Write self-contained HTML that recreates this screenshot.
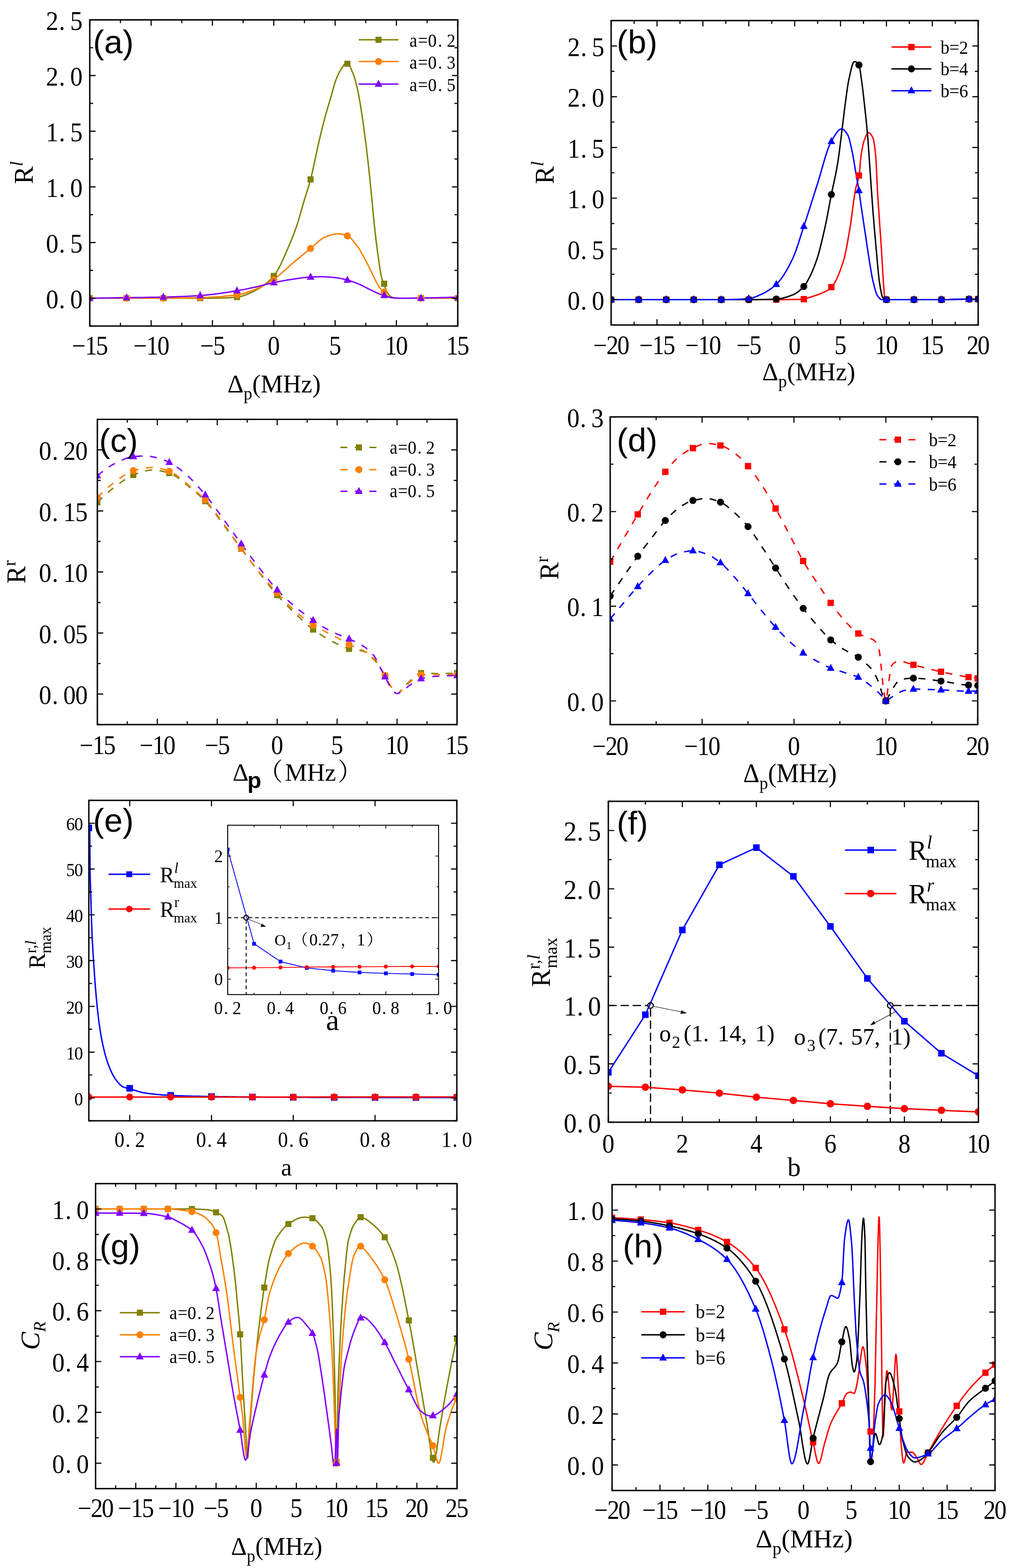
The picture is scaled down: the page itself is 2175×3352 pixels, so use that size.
<!DOCTYPE html>
<html><head><meta charset="utf-8"><title>Figure</title>
<style>html,body{margin:0;padding:0;background:#fff;}svg{display:block;}</style>
</head><body>
<svg width="2175" height="3352" viewBox="0 0 2175 3352"><clipPath id="c140036057746656"><rect x="192" y="42.5" width="787" height="654.5"/></clipPath>
<text transform="scale(0.93 1)" x="119.9 142.8 175.8" y="659" font-size="57.5" text-anchor="middle" font-family='"Liberation Serif", "Noto Serif CJK SC", serif'>0.0</text>
<text transform="scale(0.93 1)" x="119.9 142.8 175.8" y="540" font-size="57.5" text-anchor="middle" font-family='"Liberation Serif", "Noto Serif CJK SC", serif'>0.5</text>
<text transform="scale(0.93 1)" x="119.9 142.8 175.8" y="421" font-size="57.5" text-anchor="middle" font-family='"Liberation Serif", "Noto Serif CJK SC", serif'>1.0</text>
<text transform="scale(0.93 1)" x="119.9 142.8 175.8" y="302" font-size="57.5" text-anchor="middle" font-family='"Liberation Serif", "Noto Serif CJK SC", serif'>1.5</text>
<text transform="scale(0.93 1)" x="119.9 142.8 175.8" y="183" font-size="57.5" text-anchor="middle" font-family='"Liberation Serif", "Noto Serif CJK SC", serif'>2.0</text>
<text transform="scale(0.93 1)" x="119.9 142.8 175.8" y="64" font-size="57.5" text-anchor="middle" font-family='"Liberation Serif", "Noto Serif CJK SC", serif'>2.5</text>
<text transform="scale(0.93 1)" x="181.2 209.4 234.7" y="758" font-size="56" text-anchor="middle" font-family='"Liberation Serif", "Noto Serif CJK SC", serif'>−15</text>
<text transform="scale(0.93 1)" x="322.2 350.4 375.7" y="758" font-size="56" text-anchor="middle" font-family='"Liberation Serif", "Noto Serif CJK SC", serif'>−10</text>
<text transform="scale(0.93 1)" x="475.9 504.1" y="758" font-size="56" text-anchor="middle" font-family='"Liberation Serif", "Noto Serif CJK SC", serif'>−5</text>
<text transform="scale(0.93 1)" x="629.6" y="758" font-size="56" text-anchor="middle" font-family='"Liberation Serif", "Noto Serif CJK SC", serif'>0</text>
<text transform="scale(0.93 1)" x="770.6" y="758" font-size="56" text-anchor="middle" font-family='"Liberation Serif", "Noto Serif CJK SC", serif'>5</text>
<text transform="scale(0.93 1)" x="899 924.3" y="758" font-size="56" text-anchor="middle" font-family='"Liberation Serif", "Noto Serif CJK SC", serif'>10</text>
<text transform="scale(0.93 1)" x="1040.1 1065.3" y="758" font-size="56" text-anchor="middle" font-family='"Liberation Serif", "Noto Serif CJK SC", serif'>15</text>
<g transform="translate(486.5 0) scale(0.977 1) translate(-486.5 0)">
<text x="486.5" y="839" font-size="55" font-family='"Liberation Serif", "Noto Serif CJK SC", serif' text-anchor="start">Δ<tspan font-size="38" dy="15">p</tspan><tspan dy="-15">(MHz)</tspan></text>
</g>
<text transform="translate(70 393.5) rotate(-90)" x="0" y="0" font-size="57" font-family='"Liberation Serif", "Noto Serif CJK SC", serif'>R<tspan font-style="italic" font-size="38" dy="-22">l</tspan></text>
<text x="199" y="114" font-size="71" font-family='"Liberation Sans", sans-serif'>(a)</text>
<path d="M192,637.5 196.9,637.5 201.8,637.5 206.8,637.5 211.7,637.5 216.6,637.5 221.5,637.5 226.4,637.5 231.3,637.5 236.3,637.5 241.2,637.5 246.1,637.5 251,637.5 255.9,637.5 260.9,637.5 265.8,637.5 270.7,637.5 275.6,637.5 280.5,637.5 285.5,637.5 290.4,637.5 295.3,637.5 300.2,637.5 305.1,637.5 310.1,637.5 315,637.5 319.9,637.5 324.8,637.5 329.7,637.5 334.6,637.5 339.6,637.5 344.5,637.5 349.4,637.5 354.3,637.5 359.2,637.5 364.2,637.5 369.1,637.5 374,637.5 378.9,637.5 383.8,637.5 388.8,637.5 393.7,637.5 398.6,637.5 403.5,637.5 408.4,637.5 413.3,637.5 418.3,637.5 423.2,637.5 428.1,637.5 430.6,637.5 433,637.5 435.5,637.5 437.9,637.5 440.4,637.5 442.9,637.5 445.3,637.4 447.8,637.4 450.2,637.4 452.7,637.4 455.2,637.4 457.6,637.4 460.1,637.3 462.5,637.3 465,637.3 467.4,637.3 469.9,637.2 472.4,637.2 474.8,637.1 477.3,637 479.7,637 482.2,636.8 484.7,636.7 487.1,636.6 489.6,636.5 492,636.3 494.5,636.1 497,636 499.4,635.8 501.9,635.6 504.3,635.3 506.8,635.1 509.3,634.8 511.7,634.4 514.2,633.9 516.6,633.3 519.1,632.6 521.6,631.8 524,630.9 526.5,630 528.9,629 531.4,627.9 533.9,626.8 536.3,625.6 538.8,624.5 541.2,623.3 543.7,622.1 546.2,620.8 548.6,619.6 551.1,618.3 553.5,616.8 556,615.4 558.4,613.8 560.9,612.1 563.4,610.4 565.8,608.5 568.3,606.6 570.7,604.6 573.2,602.4 575.7,600.1 578.1,597.8 580.6,595.3 583,592.6 585.5,589.9 587.5,587.5 589.4,584.8 591.4,581.8 593.4,578.5 595.3,575 597.3,571.3 599.3,567.4 601.2,563.4 603.2,559.2 605.2,554.9 607.1,550.5 609.1,546 611.1,541.5 613,537 615,532.5 617,528 618.1,525.4 619.3,522.7 620.4,520 621.6,517.3 622.7,514.5 623.9,511.7 625,508.8 626.2,505.8 627.3,502.9 628.5,499.8 629.6,496.7 630.8,493.6 631.9,490.4 633,487.1 634.2,483.8 635.3,480.4 636.2,477.8 637.1,475.1 638,472.3 638.8,469.4 639.7,466.4 640.6,463.4 641.4,460.4 642.3,457.3 643.2,454.2 644,451.1 644.9,448 645.8,444.9 646.6,441.8 647.5,438.8 648.4,435.8 649.2,432.8 650.2,429.7 651.1,426.7 652.1,423.7 653,420.7 653.9,417.8 654.9,414.9 655.8,411.9 656.7,409 657.7,406 658.6,403 659.5,400 660.5,396.9 661.4,393.7 662.3,390.4 663.3,387 664.2,383.6 665.3,379.3 666.4,374.8 667.5,370.1 668.6,365.3 669.7,360.3 670.8,355.3 671.9,350.1 673,344.9 674.1,339.7 675.2,334.4 676.3,329.2 677.4,324 678.5,318.9 679.6,313.9 680.7,309 681.8,304.3 682.6,300.6 683.5,297 684.4,293.3 685.3,289.7 686.1,286 687,282.5 687.9,278.9 688.7,275.4 689.6,271.8 690.5,268.4 691.3,264.9 692.2,261.5 693.1,258.2 693.9,254.9 694.8,251.6 695.7,248.4 696.4,245.7 697.1,243.2 697.8,240.6 698.6,238.1 699.3,235.6 700,233.2 700.7,230.8 701.5,228.3 702.2,225.9 702.9,223.5 703.6,221.2 704.3,218.8 705.1,216.4 705.8,214 706.5,211.5 707.2,209.1 707.9,206.6 708.7,204.1 709.4,201.4 710.1,198.8 710.8,196.1 711.6,193.5 712.3,190.8 713,188.2 713.7,185.6 714.4,183.1 715.2,180.6 715.9,178.2 716.6,175.9 717.3,173.8 718,171.7 718.8,169.8 719.5,168 720.2,166.3 720.9,164.6 721.7,162.9 722.4,161.3 723.1,159.7 723.8,158.2 724.5,156.7 725.3,155.3 726,153.9 726.7,152.6 727.4,151.3 728.1,150.1 728.9,148.9 729.6,147.8 730.3,146.7 731,145.7 731.7,144.7 732.4,143.6 733.1,142.5 733.8,141.4 734.5,140.4 735.2,139.4 735.9,138.4 736.7,137.5 737.4,136.7 738.1,136 738.8,135.3 739.5,134.8 740.2,134.5 740.9,134.2 741.6,134.1 742.5,134.3 743.4,134.7 744.2,135.5 745.1,136.4 746,137.6 746.9,139 747.8,140.6 748.7,142.3 749.6,144.2 750.4,146.2 751.3,148.2 752.2,150.4 753.1,152.5 754,154.7 754.9,156.9 755.8,159.1 756.3,160.6 756.9,162.1 757.5,163.8 758,165.6 758.6,167.4 759.2,169.3 759.8,171.4 760.3,173.5 760.9,175.6 761.5,177.9 762.1,180.2 762.6,182.5 763.2,185 763.8,187.4 764.4,189.9 764.9,192.4 765.4,194.4 765.8,196.4 766.2,198.5 766.6,200.7 767.1,202.9 767.5,205.2 767.9,207.6 768.3,210 768.8,212.4 769.2,214.9 769.6,217.5 770.1,220 770.5,222.6 770.9,225.3 771.3,227.9 771.8,230.5 772.3,234.2 772.9,238 773.5,241.8 774.1,245.8 774.7,249.7 775.3,253.8 775.9,257.9 776.5,262.1 777.1,266.3 777.7,270.6 778.2,274.9 778.8,279.3 779.4,283.7 780,288.1 780.6,292.6 781.2,297.2 781.6,300.5 782.1,303.8 782.5,307.2 782.9,310.6 783.3,314 783.8,317.5 784.2,321 784.6,324.6 785,328.2 785.5,331.8 785.9,335.4 786.3,339.1 786.7,342.9 787.2,346.6 787.6,350.4 788,354.3 788.5,358.3 788.9,362.4 789.3,366.6 789.8,370.9 790.2,375.2 790.7,379.5 791.1,383.9 791.6,388.3 792,392.7 792.4,397.2 792.9,401.7 793.3,406.1 793.8,410.6 794.2,415.1 794.7,419.6 795.1,424 795.5,428.3 796,432.7 796.4,437.1 796.8,441.6 797.2,446.1 797.7,450.7 798.1,455.2 798.5,459.7 798.9,464.2 799.4,468.6 799.8,473 800.2,477.3 800.6,481.5 801.1,485.6 801.5,489.6 801.9,493.5 802.4,497.4 802.8,501.3 803.3,505.1 803.7,508.8 804.1,512.5 804.6,516.1 805,519.7 805.5,523.2 805.9,526.6 806.4,530 806.8,533.4 807.2,536.7 807.7,540 808.1,543.2 808.6,546.3 809,549.4 809.4,552.4 809.9,555.5 810.3,558.5 810.7,561.6 811.1,564.6 811.6,567.6 812,570.6 812.4,573.5 812.8,576.3 813.3,579 813.7,581.6 814.1,584.1 814.5,586.4 815,588.5 815.4,590.5 815.8,592.3 816.2,593.7 816.6,594.9 816.9,596.2 817.3,597.3 817.6,598.5 818,599.5 818.4,600.5 818.7,601.5 819.1,602.5 819.4,603.4 819.8,604.3 820.2,605.2 820.5,606.2 820.9,607.1 821.2,608 821.6,608.9 822,610.1 822.5,611.2 822.9,612.4 823.3,613.6 823.7,614.8 824.2,615.9 824.6,617.1 825,618.2 825.4,619.3 825.9,620.4 826.3,621.4 826.7,622.4 827.1,623.3 827.6,624.1 828,624.9 828.4,625.6 828.9,626.4 829.4,627.1 829.9,627.9 830.5,628.6 831,629.3 831.5,630 832,630.6 832.5,631.3 833,631.8 833.5,632.4 834,632.9 834.5,633.3 835,633.7 835.5,634.1 836,634.4 836.6,634.6 837.3,634.9 838,635.2 838.7,635.5 839.4,635.8 840.1,636 840.8,636.3 841.5,636.5 842.2,636.7 842.9,636.9 843.6,637 844.3,637.2 845,637.3 845.7,637.4 846.4,637.4 847.1,637.5 847.8,637.5 849.5,637.5 851.1,637.5 852.8,637.5 854.4,637.5 856,637.5 857.7,637.5 859.3,637.5 860.9,637.5 862.6,637.5 864.2,637.5 865.9,637.5 867.5,637.5 869.1,637.5 870.8,637.5 872.4,637.5 874.1,637.5 875.7,637.5 877.3,637.5 879,637.5 880.6,637.5 882.3,637.5 883.9,637.5 885.5,637.5 887.2,637.5 888.8,637.5 890.5,637.5 892.1,637.5 893.7,637.5 895.4,637.5 897,637.5 898.7,637.5 900.3,637.5 905.2,637.5 910.1,637.5 915.1,637.5 920,637.5 924.9,637.5 929.8,637.5 934.7,637.5 939.6,637.5 944.6,637.5 949.5,637.5 954.4,637.5 959.3,637.5 964.2,637.5 969.2,637.5 974.1,637.5 979,637.5" fill="none" stroke="#808000" stroke-width="3" stroke-linejoin="round" clip-path="url(#c140036057746656)"/>
<path d="M192,637.5 196.9,637.5 201.8,637.5 206.8,637.5 211.7,637.5 216.6,637.5 221.5,637.5 226.4,637.5 231.3,637.5 236.3,637.5 241.2,637.5 246.1,637.5 251,637.5 255.9,637.5 260.9,637.5 265.8,637.5 270.7,637.5 275.6,637.5 280.5,637.5 285.5,637.5 290.4,637.5 295.3,637.5 300.2,637.5 305.1,637.5 310.1,637.5 315,637.5 319.9,637.5 324.8,637.5 329.7,637.5 334.6,637.5 339.6,637.5 344.5,637.5 349.4,637.5 354.3,637.5 359.2,637.5 364.2,637.4 369.1,637.4 374,637.4 378.9,637.3 383.8,637.2 388.8,637.2 393.7,637.1 398.6,637 403.5,636.9 408.4,636.8 413.3,636.7 418.3,636.6 423.2,636.4 428.1,636.3 433,636.2 437.9,636 442.9,635.8 447.8,635.6 452.7,635.3 457.6,635 462.5,634.7 467.4,634.4 472.4,634 477.3,633.6 482.2,633.1 487.1,632.6 492,632.1 497,631.6 501.9,631 506.8,630.4 509.3,630 511.7,629.6 514.2,629.1 516.6,628.5 519.1,627.9 521.6,627.2 524,626.5 526.5,625.7 528.9,624.9 531.4,624 533.9,623.1 536.3,622.2 538.8,621.3 541.2,620.4 543.7,619.4 546.2,618.5 548.6,617.5 551.1,616.4 553.5,615.3 556,614.2 558.4,613 560.9,611.7 563.4,610.4 565.8,609.1 568.3,607.7 570.7,606.3 573.2,604.8 575.7,603.3 578.1,601.8 580.6,600.2 583,598.7 585.5,597 588,595.4 590.4,593.6 592.9,591.7 595.3,589.7 597.8,587.7 600.3,585.6 602.7,583.4 605.2,581.2 607.6,579 610.1,576.8 612.6,574.6 615,572.3 617.5,570.1 619.9,567.9 622.4,565.8 624.9,563.7 627.3,561.7 629.8,559.6 632.2,557.5 634.7,555.5 637.1,553.4 639.6,551.3 642.1,549.3 644.5,547.2 647,545.2 649.4,543.2 651.9,541.1 654.4,539.1 656.8,537.1 659.3,535.1 661.7,533.1 664.2,531.1 666.2,529.5 668.1,527.8 670.1,526.1 672.1,524.3 674,522.5 676,520.7 678,518.9 679.9,517.2 681.9,515.5 683.9,513.9 685.8,512.3 687.8,510.9 689.8,509.6 691.7,508.4 693.7,507.4 695.7,506.6 697.4,506 699.2,505.3 700.9,504.7 702.6,504.1 704.4,503.5 706.1,502.9 707.8,502.4 709.6,501.9 711.3,501.4 713.1,501 714.8,500.6 716.5,500.3 718.3,500 720,499.9 721.7,499.7 723.5,499.7 724.7,499.7 725.9,499.8 727.1,499.9 728.3,500.1 729.6,500.3 730.8,500.5 732,500.7 733.2,501 734.4,501.4 735.6,501.7 736.8,502.1 738,502.5 739.3,502.9 740.5,503.3 741.7,503.8 742.9,504.2 744.3,504.8 745.7,505.6 747,506.6 748.4,507.7 749.8,508.9 751.2,510.3 752.5,511.7 753.9,513.3 755.3,514.9 756.7,516.6 758,518.4 759.4,520.2 760.8,522 762.2,523.9 763.6,525.7 764.9,527.5 766.1,529.1 767.3,530.8 768.4,532.6 769.6,534.4 770.8,536.4 771.9,538.3 773.1,540.4 774.2,542.5 775.4,544.6 776.6,546.7 777.7,548.9 778.9,551.1 780.1,553.3 781.2,555.5 782.4,557.7 783.6,559.9 784.6,561.8 785.6,563.7 786.6,565.7 787.6,567.7 788.6,569.8 789.6,571.8 790.6,573.9 791.6,576 792.6,578.1 793.6,580.1 794.6,582.2 795.6,584.3 796.6,586.3 797.6,588.3 798.6,590.3 799.6,592.3 800.3,593.7 801,595.1 801.7,596.6 802.4,598 803.2,599.5 803.9,600.9 804.6,602.3 805.3,603.8 806.1,605.1 806.8,606.5 807.5,607.8 808.2,609.1 808.9,610.4 809.7,611.5 810.4,612.7 811.1,613.7 811.8,614.6 812.4,615.5 813.1,616.3 813.7,617.1 814.4,617.9 815,618.7 815.7,619.4 816.4,620.2 817,620.9 817.7,621.6 818.3,622.3 819,622.9 819.6,623.6 820.3,624.3 820.9,624.9 821.6,625.6 822.3,626.3 822.9,627 823.6,627.7 824.2,628.4 824.9,629.2 825.5,629.9 826.2,630.6 826.8,631.3 827.5,632 828.2,632.6 828.8,633.2 829.5,633.7 830.1,634.2 830.8,634.6 831.4,634.9 832.1,635.1 833.1,635.4 834.1,635.6 835,635.9 836,636.1 837,636.3 838,636.5 839,636.7 840,636.8 840.9,637 841.9,637.1 842.9,637.2 843.9,637.3 844.9,637.4 845.9,637.5 846.8,637.5 847.8,637.5 851.1,637.5 854.4,637.5 857.7,637.5 860.9,637.5 864.2,637.5 867.5,637.5 870.8,637.5 874.1,637.5 877.3,637.5 880.6,637.5 883.9,637.5 887.2,637.5 890.5,637.5 893.7,637.5 897,637.5 900.3,637.5 905.2,637.5 910.1,637.5 915.1,637.5 920,637.5 924.9,637.5 929.8,637.5 934.7,637.5 939.6,637.5 944.6,637.5 949.5,637.5 954.4,637.5 959.3,637.5 964.2,637.5 969.2,637.5 974.1,637.5 979,637.5" fill="none" stroke="#FF8000" stroke-width="3" stroke-linejoin="round" clip-path="url(#c140036057746656)"/>
<path d="M192,637.5 196.9,637.4 201.8,637.4 206.8,637.3 211.7,637.2 216.6,637.1 221.5,637.1 226.4,637 231.3,636.9 236.3,636.8 241.2,636.8 246.1,636.7 251,636.6 255.9,636.5 260.9,636.5 265.8,636.4 270.7,636.3 275.6,636.2 280.5,636.2 285.5,636.1 290.4,636 295.3,636 300.2,635.9 305.1,635.9 310.1,635.8 315,635.7 319.9,635.6 324.8,635.6 329.7,635.5 334.6,635.4 339.6,635.3 344.5,635.2 349.4,635.1 354.3,635 359.2,634.9 364.2,634.7 369.1,634.6 374,634.4 378.9,634.3 383.8,634.1 388.8,633.9 393.7,633.7 398.6,633.4 403.5,633.2 408.4,632.9 413.3,632.7 418.3,632.4 423.2,632.1 428.1,631.8 433,631.4 437.9,631 442.9,630.6 447.8,630.1 452.7,629.5 457.6,628.9 462.5,628.3 467.4,627.6 472.4,626.9 477.3,626.2 482.2,625.5 487.1,624.7 492,623.9 497,623.1 501.9,622.3 506.8,621.6 509.3,621.1 511.7,620.7 514.2,620.3 516.6,619.8 519.1,619.4 521.6,618.9 524,618.4 526.5,617.9 528.9,617.4 531.4,616.9 533.9,616.4 536.3,615.8 538.8,615.3 541.2,614.8 543.7,614.2 546.2,613.7 548.6,613.2 551.1,612.6 553.5,612 556,611.4 558.4,610.8 560.9,610.1 563.4,609.5 565.8,608.9 568.3,608.3 570.7,607.6 573.2,607 575.7,606.4 578.1,605.8 580.6,605.3 583,604.7 585.5,604.2 588,603.7 590.4,603.2 592.9,602.7 595.3,602.2 597.8,601.7 600.3,601.2 602.7,600.8 605.2,600.3 607.6,599.9 610.1,599.4 612.6,599 615,598.6 617.5,598.2 619.9,597.8 622.4,597.4 624.9,597 627.3,596.7 629.8,596.3 632.2,595.9 634.7,595.6 637.1,595.2 639.6,594.9 642.1,594.5 644.5,594.2 647,593.8 649.4,593.5 651.9,593.3 654.4,593 656.8,592.8 659.3,592.6 661.7,592.4 664.2,592.3 665.7,592.2 667.2,592.1 668.8,592.1 670.3,592 671.8,592 673.3,591.9 674.9,591.8 676.4,591.8 677.9,591.7 679.4,591.7 681,591.7 682.5,591.6 684,591.6 685.5,591.6 687.1,591.6 688.6,591.6 690.4,591.6 692.1,591.6 693.9,591.7 695.6,591.7 697.4,591.8 699.1,591.9 700.9,592 702.6,592.2 704.4,592.3 706.1,592.4 707.9,592.6 709.6,592.8 711.4,592.9 713.2,593.1 714.9,593.3 716.7,593.5 718.3,593.7 719.9,593.9 721.6,594.1 723.2,594.4 724.9,594.6 726.5,594.9 728.1,595.2 729.8,595.6 731.4,595.9 733.1,596.3 734.7,596.7 736.3,597.1 738,597.5 739.6,597.9 741.3,598.3 742.9,598.7 744.4,599.1 745.9,599.5 747.4,600 748.9,600.4 750.4,600.9 751.9,601.4 753.3,601.9 754.8,602.4 756.3,603 757.8,603.5 759.3,604.1 760.8,604.7 762.3,605.2 763.8,605.8 765.3,606.4 766.8,607 768.4,607.7 770,608.4 771.6,609.1 773.2,609.9 774.8,610.7 776.4,611.5 778,612.3 779.6,613.1 781.2,614 782.8,614.8 784.4,615.6 786.1,616.5 787.7,617.3 789.3,618.1 790.9,618.9 792.5,619.6 793.8,620.3 795.1,620.9 796.4,621.5 797.7,622.2 799,622.8 800.4,623.5 801.7,624.1 803,624.7 804.3,625.4 805.6,626 806.9,626.6 808.2,627.1 809.5,627.7 810.8,628.2 812.2,628.7 813.5,629.2 814,629.3 814.5,629.5 815,629.7 815.5,629.8 816,630 816.5,630.1 817,630.3 817.5,630.4 818,630.5 818.6,630.7 819.1,630.8 819.6,631 820.1,631.1 820.6,631.3 821.1,631.4 821.6,631.5 822.6,631.9 823.6,632.2 824.6,632.5 825.5,632.9 826.5,633.2 827.5,633.6 828.5,634 829.5,634.3 830.5,634.7 831.4,635 832.4,635.3 833.4,635.6 834.4,635.8 835.4,636 836.4,636.2 837.3,636.3 838.8,636.4 840.3,636.6 841.8,636.7 843.2,636.8 844.7,636.9 846.2,637 847.7,637.1 849.1,637.2 850.6,637.2 852.1,637.3 853.6,637.4 855,637.4 856.5,637.5 858,637.5 859.5,637.5 860.9,637.5 863.4,637.5 865.9,637.5 868.3,637.5 870.8,637.5 873.2,637.4 875.7,637.4 878.2,637.4 880.6,637.3 883.1,637.3 885.5,637.3 888,637.2 890.5,637.2 892.9,637.1 895.4,637.1 897.8,637.1 900.3,637 905.2,636.9 910.1,636.9 915.1,636.8 920,636.7 924.9,636.6 929.8,636.5 934.7,636.4 939.6,636.2 944.6,636.1 949.5,636 954.4,635.9 959.3,635.7 964.2,635.6 969.2,635.4 974.1,635.3 979,635.1" fill="none" stroke="#8000FF" stroke-width="3" stroke-linejoin="round" clip-path="url(#c140036057746656)"/>
<g clip-path="url(#c140036057746656)">
<rect x="185.5" y="631" width="13" height="13" fill="#808000"/>
<rect x="264.2" y="631" width="13" height="13" fill="#808000"/>
<rect x="342.9" y="631" width="13" height="13" fill="#808000"/>
<rect x="421.6" y="631" width="13" height="13" fill="#808000"/>
<rect x="500.3" y="628.6" width="13" height="13" fill="#808000"/>
<rect x="579" y="583.4" width="13" height="13" fill="#808000"/>
<rect x="657.7" y="377.1" width="13" height="13" fill="#808000"/>
<rect x="736.4" y="129.8" width="13" height="13" fill="#808000"/>
<rect x="815.1" y="600.1" width="13" height="13" fill="#808000"/>
<rect x="893.8" y="631" width="13" height="13" fill="#808000"/>
<rect x="972.5" y="631" width="13" height="13" fill="#808000"/>
</g>
<g clip-path="url(#c140036057746656)">
<circle cx="192" cy="637.5" r="7.5" fill="#FF8000"/>
<circle cx="270.7" cy="637.5" r="7.5" fill="#FF8000"/>
<circle cx="349.4" cy="637.5" r="7.5" fill="#FF8000"/>
<circle cx="428.1" cy="636.3" r="7.5" fill="#FF8000"/>
<circle cx="506.8" cy="630.4" r="7.5" fill="#FF8000"/>
<circle cx="585.5" cy="598.2" r="7.5" fill="#FF8000"/>
<circle cx="664.2" cy="531.1" r="7.5" fill="#FF8000"/>
<circle cx="742.9" cy="504.2" r="7.5" fill="#FF8000"/>
<circle cx="821.6" cy="624.6" r="7.5" fill="#FF8000"/>
<circle cx="900.3" cy="637.5" r="7.5" fill="#FF8000"/>
<circle cx="979" cy="637.5" r="7.5" fill="#FF8000"/>
</g>
<g clip-path="url(#c140036057746656)">
<path d="M192 628.2L200.2 643.2L183.8 643.2Z" fill="#8000FF"/>
<path d="M270.7 627L278.9 642L262.4 642Z" fill="#8000FF"/>
<path d="M349.4 625.8L357.6 640.8L341.1 640.8Z" fill="#8000FF"/>
<path d="M428.1 622.5L436.4 637.5L419.9 637.5Z" fill="#8000FF"/>
<path d="M506.8 612.3L515 627.3L498.6 627.3Z" fill="#8000FF"/>
<path d="M585.5 594.9L593.8 609.9L577.2 609.9Z" fill="#8000FF"/>
<path d="M664.2 583L672.5 598L656 598Z" fill="#8000FF"/>
<path d="M742.9 589.4L751.1 604.4L734.6 604.4Z" fill="#8000FF"/>
<path d="M821.6 622.2L829.9 637.2L813.4 637.2Z" fill="#8000FF"/>
<path d="M900.3 628.2L908.6 643.2L892.1 643.2Z" fill="#8000FF"/>
<path d="M979 627L987.2 642L970.8 642Z" fill="#8000FF"/>
</g>
<line x1="767" y1="85" x2="852" y2="85" stroke="#808000" stroke-width="3"/>
<rect x="803" y="78.5" width="13" height="13" fill="#808000"/>
<text transform="scale(0.93 1)" x="950.6 972.4 994.1 1011.9 1037.5" y="100" font-size="40" text-anchor="middle" font-family='"Liberation Serif", "Noto Serif CJK SC", serif'>a=0.2</text>
<line x1="767" y1="131.6" x2="852" y2="131.6" stroke="#FF8000" stroke-width="3"/>
<circle cx="809.5" cy="131.6" r="7.5" fill="#FF8000"/>
<text transform="scale(0.93 1)" x="950.6 972.4 994.1 1011.9 1037.5" y="146.6" font-size="40" text-anchor="middle" font-family='"Liberation Serif", "Noto Serif CJK SC", serif'>a=0.3</text>
<line x1="767" y1="179.8" x2="852" y2="179.8" stroke="#8000FF" stroke-width="3"/>
<path d="M809.5 170.5L817.8 185.5L801.2 185.5Z" fill="#8000FF"/>
<text transform="scale(0.93 1)" x="950.6 972.4 994.1 1011.9 1037.5" y="194.8" font-size="40" text-anchor="middle" font-family='"Liberation Serif", "Noto Serif CJK SC", serif'>a=0.5</text>
<clipPath id="c140035939693056"><rect x="1307" y="44" width="785" height="650.8"/></clipPath>
<text transform="scale(0.93 1)" x="1319.4 1342.3 1375.3" y="662.1" font-size="57.5" text-anchor="middle" font-family='"Liberation Serif", "Noto Serif CJK SC", serif'>0.0</text>
<text transform="scale(0.93 1)" x="1319.4 1342.3 1375.3" y="553.6" font-size="57.5" text-anchor="middle" font-family='"Liberation Serif", "Noto Serif CJK SC", serif'>0.5</text>
<text transform="scale(0.93 1)" x="1319.4 1342.3 1375.3" y="445.1" font-size="57.5" text-anchor="middle" font-family='"Liberation Serif", "Noto Serif CJK SC", serif'>1.0</text>
<text transform="scale(0.93 1)" x="1319.4 1342.3 1375.3" y="336.7" font-size="57.5" text-anchor="middle" font-family='"Liberation Serif", "Noto Serif CJK SC", serif'>1.5</text>
<text transform="scale(0.93 1)" x="1319.4 1342.3 1375.3" y="228.2" font-size="57.5" text-anchor="middle" font-family='"Liberation Serif", "Noto Serif CJK SC", serif'>2.0</text>
<text transform="scale(0.93 1)" x="1319.4 1342.3 1375.3" y="119.7" font-size="57.5" text-anchor="middle" font-family='"Liberation Serif", "Noto Serif CJK SC", serif'>2.5</text>
<text transform="scale(0.93 1)" x="1380.1 1408.3 1433.6" y="757.5" font-size="56" text-anchor="middle" font-family='"Liberation Serif", "Noto Serif CJK SC", serif'>−20</text>
<text transform="scale(0.93 1)" x="1485.6 1513.8 1539.1" y="757.5" font-size="56" text-anchor="middle" font-family='"Liberation Serif", "Noto Serif CJK SC", serif'>−15</text>
<text transform="scale(0.93 1)" x="1591.1 1619.4 1644.6" y="757.5" font-size="56" text-anchor="middle" font-family='"Liberation Serif", "Noto Serif CJK SC", serif'>−10</text>
<text transform="scale(0.93 1)" x="1709.3 1737.5" y="757.5" font-size="56" text-anchor="middle" font-family='"Liberation Serif", "Noto Serif CJK SC", serif'>−5</text>
<text transform="scale(0.93 1)" x="1827.4" y="757.5" font-size="56" text-anchor="middle" font-family='"Liberation Serif", "Noto Serif CJK SC", serif'>0</text>
<text transform="scale(0.93 1)" x="1932.9" y="757.5" font-size="56" text-anchor="middle" font-family='"Liberation Serif", "Noto Serif CJK SC", serif'>5</text>
<text transform="scale(0.93 1)" x="2025.8 2051.1" y="757.5" font-size="56" text-anchor="middle" font-family='"Liberation Serif", "Noto Serif CJK SC", serif'>10</text>
<text transform="scale(0.93 1)" x="2131.3 2156.6" y="757.5" font-size="56" text-anchor="middle" font-family='"Liberation Serif", "Noto Serif CJK SC", serif'>15</text>
<text transform="scale(0.93 1)" x="2236.8 2262.1" y="757.5" font-size="56" text-anchor="middle" font-family='"Liberation Serif", "Noto Serif CJK SC", serif'>20</text>
<g transform="translate(1630 0) scale(0.976 1) translate(-1630 0)">
<text x="1630" y="813" font-size="55" font-family='"Liberation Serif", "Noto Serif CJK SC", serif' text-anchor="start">Δ<tspan font-size="38" dy="15">p</tspan><tspan dy="-15">(MHz)</tspan></text>
</g>
<text transform="translate(1184 393.5) rotate(-90)" x="0" y="0" font-size="57" font-family='"Liberation Serif", "Noto Serif CJK SC", serif'>R<tspan font-style="italic" font-size="38" dy="-22">l</tspan></text>
<text x="1319" y="114" font-size="71" font-family='"Liberation Sans", sans-serif'>(b)</text>
<path d="M1307,640.6 1325.4,640.6 1343.8,640.6 1362.2,640.6 1380.6,640.6 1399,640.6 1417.4,640.6 1435.8,640.6 1454.2,640.6 1472.6,640.6 1491,640.6 1509.4,640.6 1527.8,640.6 1546.2,640.6 1564.6,640.6 1583,640.6 1601.4,640.6 1605.1,640.6 1608.7,640.6 1612.4,640.6 1616.1,640.6 1619.8,640.6 1623.5,640.6 1627.1,640.6 1630.8,640.6 1634.5,640.6 1638.2,640.6 1641.9,640.6 1645.5,640.6 1649.2,640.6 1652.9,640.6 1656.6,640.6 1660.2,640.6 1663.9,640.6 1667.6,640.6 1671.3,640.5 1675,640.5 1678.6,640.5 1682.3,640.4 1686,640.4 1689.7,640.3 1693.4,640.3 1697,640.2 1700.7,640.1 1704.4,640 1708.1,639.9 1711.8,639.8 1715.4,639.6 1719.1,639.5 1719.8,639.4 1720.5,639.3 1721.1,639.2 1721.8,639.1 1722.5,638.9 1723.2,638.7 1723.8,638.5 1724.5,638.2 1725.2,638 1725.9,637.7 1726.5,637.5 1727.2,637.2 1727.9,636.9 1728.6,636.7 1729.2,636.5 1729.9,636.2 1732.1,635.5 1734.2,634.9 1736.4,634.2 1738.5,633.5 1740.7,632.8 1742.8,632.1 1744.9,631.4 1747.1,630.7 1749.2,630 1751.4,629.2 1753.5,628.4 1755.7,627.5 1757.8,626.6 1760,625.7 1762.1,624.7 1764.3,623.6 1765.1,623.2 1766,622.8 1766.8,622.3 1767.7,621.8 1768.6,621.3 1769.4,620.8 1770.3,620.2 1771.1,619.6 1772,619 1772.8,618.4 1773.7,617.7 1774.6,617 1775.4,616.3 1776.3,615.5 1777.1,614.7 1778,613.9 1779.6,612.1 1781.2,610.1 1782.8,607.9 1784.4,605.4 1786,602.7 1787.6,599.7 1789.2,596.6 1790.8,593.2 1792.4,589.6 1793.9,585.8 1795.5,581.8 1797.1,577.6 1798.7,573.2 1800.3,568.6 1801.9,563.9 1803.5,559 1804.4,556.1 1805.3,552.9 1806.2,549.4 1807,545.7 1807.9,541.7 1808.8,537.5 1809.7,533.1 1810.6,528.6 1811.5,523.9 1812.3,519 1813.2,514.1 1814.1,509.1 1815,504 1815.9,498.8 1816.8,493.7 1817.6,488.5 1818.4,484 1819.1,479.2 1819.9,474.1 1820.6,468.7 1821.3,463.2 1822.1,457.6 1822.8,451.9 1823.5,446.2 1824.3,440.5 1825,434.9 1825.7,429.5 1826.5,424.2 1827.2,419.2 1827.9,414.4 1828.7,410 1829.4,406.1 1829.9,403.6 1830.4,401.3 1831,399.2 1831.5,397.2 1832,395.4 1832.5,393.6 1833,391.9 1833.5,390.2 1834.1,388.5 1834.6,386.6 1835.1,384.7 1835.6,382.6 1836.1,380.3 1836.6,377.8 1837.1,375.1 1837.7,372 1837.9,370.5 1838.1,368.6 1838.3,366.6 1838.5,364.3 1838.8,361.9 1839,359.3 1839.2,356.7 1839.4,354 1839.6,351.3 1839.9,348.6 1840.1,346 1840.3,343.5 1840.5,341.2 1840.8,339 1841,337 1841.2,335.3 1841.6,332.3 1842.1,329.3 1842.5,326.5 1843,323.7 1843.4,321.1 1843.8,318.5 1844.3,316.1 1844.7,313.8 1845.2,311.6 1845.6,309.5 1846,307.6 1846.5,305.8 1846.9,304.1 1847.4,302.6 1847.8,301.2 1848.3,300 1848.8,298.4 1849.4,296.9 1850,295.4 1850.6,294 1851.2,292.5 1851.8,291.2 1852.4,289.9 1853,288.8 1853.6,287.7 1854.1,286.7 1854.7,285.8 1855.3,285.1 1855.9,284.5 1856.5,284.1 1857.1,283.8 1857.7,283.7 1858.3,283.8 1858.9,283.9 1859.4,284.2 1860,284.6 1860.6,285 1861.2,285.6 1861.8,286.2 1862.4,287 1863,287.8 1863.6,288.7 1864.2,289.6 1864.7,290.7 1865.3,291.8 1865.9,292.9 1866.5,294.1 1867.1,295.4 1867.5,296.4 1867.8,297.5 1868.2,299 1868.6,300.6 1868.9,302.4 1869.3,304.5 1869.7,306.8 1870,309.2 1870.4,311.9 1870.8,314.7 1871.1,317.8 1871.5,321 1871.9,324.3 1872.2,327.9 1872.6,331.5 1873,335.3 1873.2,338 1873.4,341.1 1873.6,344.7 1873.9,348.8 1874.1,353.2 1874.3,357.8 1874.5,362.7 1874.8,367.8 1875,372.9 1875.2,378 1875.4,383.2 1875.6,388.2 1875.9,393.1 1876.1,397.7 1876.3,402.1 1876.5,406.1 1876.8,411.1 1877.1,415.9 1877.4,420.6 1877.7,425.2 1878,429.7 1878.3,434.1 1878.6,438.4 1878.9,442.6 1879.2,446.9 1879.5,451.1 1879.8,455.2 1880,459.4 1880.3,463.6 1880.6,467.9 1880.9,472.2 1881.2,476.6 1881.5,481 1881.8,485.3 1882.1,489.7 1882.4,494.1 1882.7,498.4 1883,502.7 1883.3,507.1 1883.6,511.4 1883.9,515.8 1884.2,520.2 1884.5,524.6 1884.8,529.1 1885.1,533.5 1885.3,538.1 1885.6,542.7 1885.9,547.3 1886.2,550.9 1886.4,554.6 1886.6,558.4 1886.8,562.3 1887,566.3 1887.3,570.3 1887.5,574.3 1887.7,578.2 1887.9,582.2 1888.1,586 1888.4,589.8 1888.6,593.4 1888.8,596.9 1889,600.2 1889.2,603.2 1889.5,606.1 1889.7,608.8 1889.9,611.7 1890.1,614.6 1890.4,617.6 1890.6,620.5 1890.8,623.4 1891,626.1 1891.2,628.8 1891.5,631.2 1891.7,633.5 1891.9,635.5 1892.1,637.2 1892.3,638.6 1892.6,639.7 1892.8,640.3 1893,640.6 1893.2,640.6 1893.3,640.6 1893.5,640.6 1893.7,640.6 1893.9,640.6 1894,640.6 1894.2,640.6 1894.4,640.6 1894.5,640.6 1894.7,640.6 1894.9,640.6 1895.1,640.6 1895.2,640.6 1895.4,640.6 1895.6,640.6 1895.8,640.6 1899.4,640.6 1903.1,640.6 1906.8,640.6 1910.5,640.6 1914.1,640.6 1917.8,640.6 1921.5,640.6 1925.2,640.6 1928.9,640.6 1932.5,640.6 1936.2,640.6 1939.9,640.6 1943.6,640.6 1947.3,640.6 1950.9,640.6 1954.6,640.6 1958.3,640.6 1962,640.6 1965.7,640.6 1969.3,640.6 1973,640.6 1976.7,640.6 1980.4,640.6 1984.1,640.6 1987.7,640.6 1991.4,640.6 1995.1,640.6 1998.8,640.6 2002.5,640.6 2006.1,640.6 2009.8,640.6 2013.5,640.6 2017.2,640.6 2020.9,640.5 2024.5,640.5 2028.2,640.4 2031.9,640.3 2035.6,640.2 2039.3,640.1 2042.9,640 2046.6,639.9 2050.3,639.8 2054,639.7 2057.7,639.7 2061.3,639.6 2065,639.5 2068.7,639.5 2072.4,639.5 2073.6,639.5 2074.8,639.5 2076.1,639.5 2077.3,639.5 2078.5,639.5 2079.7,639.5 2081,639.5 2082.2,639.5 2083.4,639.5 2084.6,639.5 2085.9,639.5 2087.1,639.5 2088.3,639.5 2089.5,639.5 2090.8,639.5 2092,639.5" fill="none" stroke="#FF0000" stroke-width="3" stroke-linejoin="round" clip-path="url(#c140035939693056)"/>
<path d="M1307,640.6 1325.4,640.6 1343.8,640.6 1362.2,640.6 1380.6,640.6 1399,640.6 1417.4,640.6 1435.8,640.6 1454.2,640.6 1472.6,640.6 1491,640.6 1509.4,640.6 1527.8,640.6 1546.2,640.6 1564.6,640.6 1583,640.6 1601.4,640.6 1605.1,640.6 1608.7,640.5 1612.4,640.5 1616.1,640.5 1619.8,640.4 1623.5,640.4 1627.1,640.3 1630.8,640.2 1634.5,640.2 1638.2,640.1 1641.9,639.9 1645.5,639.8 1649.2,639.7 1652.9,639.6 1656.6,639.4 1660.2,639.3 1662.4,639.1 1664.6,638.9 1666.7,638.7 1668.9,638.3 1671,637.9 1673.2,637.5 1675.4,637 1677.5,636.4 1679.7,635.8 1681.8,635.2 1684,634.5 1686.2,633.8 1688.3,633 1690.5,632.2 1692.6,631.4 1694.8,630.6 1696.3,630 1697.8,629.3 1699.4,628.5 1700.9,627.6 1702.4,626.7 1703.9,625.7 1705.4,624.7 1707,623.5 1708.5,622.3 1710,621.1 1711.5,619.8 1713,618.4 1714.6,617 1716.1,615.5 1717.6,614 1719.1,612.4 1719.8,611.6 1720.4,610.8 1721.1,610 1721.8,609.1 1722.4,608.2 1723.1,607.2 1723.8,606.1 1724.4,605.1 1725.1,604 1725.7,602.9 1726.4,601.7 1727.1,600.5 1727.7,599.3 1728.4,598.1 1729.1,596.9 1729.7,595.7 1730.8,593.6 1731.9,591.5 1733,589.2 1734.1,587 1735.2,584.6 1736.3,582.2 1737.4,579.7 1738.5,577.2 1739.5,574.5 1740.6,571.8 1741.7,569 1742.8,566.1 1743.9,563.2 1745,560.1 1746.1,557 1747.2,553.8 1748.3,550.4 1749.4,546.9 1750.5,543.2 1751.6,539.3 1752.6,535.3 1753.7,531.1 1754.8,526.8 1755.9,522.4 1757,517.9 1758.1,513.3 1759.2,508.6 1760.3,503.8 1761.4,499 1762.5,494.2 1763.6,489.3 1764.7,484.4 1765.5,480.5 1766.3,476.6 1767.2,472.5 1768,468.4 1768.8,464.1 1769.7,459.8 1770.5,455.4 1771.3,451 1772.2,446.6 1773,442.1 1773.8,437.7 1774.7,433.2 1775.5,428.8 1776.3,424.4 1777.2,420.1 1778,415.8 1778.9,411.5 1779.7,407.4 1780.6,403.3 1781.4,399.3 1782.3,395.3 1783.2,391.4 1784,387.4 1784.9,383.4 1785.7,379.3 1786.6,375.2 1787.4,371 1788.3,366.6 1789.2,362 1790,357.3 1790.9,352.4 1791.7,347.3 1792.4,343.1 1793.1,338.6 1793.7,334 1794.4,329.2 1795,324.2 1795.7,319 1796.4,313.7 1797,308.4 1797.7,302.9 1798.4,297.5 1799,292 1799.7,286.4 1800.3,280.9 1801,275.5 1801.7,270.1 1802.3,264.8 1802.7,261.9 1803.1,259 1803.4,256 1803.8,253 1804.2,249.9 1804.5,246.9 1804.9,243.9 1805.3,240.9 1805.6,237.8 1806,234.9 1806.4,231.9 1806.8,229 1807.1,226.1 1807.5,223.3 1807.9,220.5 1808.2,217.8 1808.7,214.5 1809.1,211.3 1809.5,208 1810,204.7 1810.4,201.4 1810.9,198.1 1811.3,194.9 1811.8,191.8 1812.2,188.7 1812.6,185.8 1813.1,182.9 1813.5,180.1 1814,177.5 1814.4,175.1 1814.8,172.8 1815.3,170.7 1816,167.3 1816.8,163.9 1817.5,160.5 1818.2,157.1 1819,153.8 1819.7,150.6 1820.4,147.5 1821.2,144.6 1821.9,141.9 1822.6,139.4 1823.4,137.3 1824.1,135.4 1824.9,133.9 1825.6,132.8 1826.3,132.1 1827.1,131.9 1827.7,131.9 1828.2,131.9 1828.8,132 1829.4,132.2 1830,132.3 1830.6,132.5 1831.2,132.8 1831.8,133.1 1832.4,133.4 1833,133.7 1833.5,134.1 1834.1,134.6 1834.7,135 1835.3,135.5 1835.9,136.1 1836.5,136.6 1836.9,137.2 1837.2,138.1 1837.6,139.4 1838,140.9 1838.3,142.7 1838.7,144.8 1839.1,147 1839.4,149.4 1839.8,151.9 1840.2,154.6 1840.5,157.3 1840.9,160 1841.3,162.8 1841.6,165.5 1842,168.1 1842.4,170.7 1842.8,173.7 1843.3,176.9 1843.7,180.2 1844.1,183.6 1844.6,187.1 1845,190.7 1845.5,194.3 1845.9,198 1846.3,201.8 1846.8,205.7 1847.2,209.6 1847.7,213.5 1848.1,217.5 1848.6,221.5 1849,225.5 1849.4,229.5 1849.8,232.8 1850.2,236.2 1850.5,239.6 1850.9,243 1851.3,246.4 1851.6,249.9 1852,253.4 1852.4,257 1852.7,260.6 1853.1,264.3 1853.5,268.1 1853.9,271.9 1854.2,275.9 1854.6,279.9 1855,284 1855.3,288.3 1855.7,292.7 1856.1,297.3 1856.4,302 1856.8,306.9 1857.2,312 1857.5,317.2 1857.9,322.4 1858.3,327.8 1858.6,333.2 1859,338.6 1859.4,344 1859.7,349.4 1860.1,354.9 1860.5,360.2 1860.8,365.5 1861.2,370.7 1861.6,375.9 1861.9,381.1 1862.3,386.4 1862.7,391.7 1863,397 1863.4,402.3 1863.8,407.6 1864.2,412.8 1864.5,418.1 1864.9,423.3 1865.3,428.5 1865.6,433.6 1866,438.6 1866.4,443.5 1866.7,448.4 1867.1,453.1 1867.5,458.7 1868,464.2 1868.4,469.7 1868.9,475.1 1869.3,480.4 1869.7,485.7 1870.2,490.9 1870.6,496 1871.1,501.1 1871.5,506.1 1872,511.1 1872.4,516 1872.8,520.9 1873.3,525.8 1873.7,530.6 1874.2,535.4 1874.6,540.2 1875,545.1 1875.5,550.1 1875.9,555.1 1876.4,560.1 1876.8,565.1 1877.3,570 1877.7,574.9 1878.1,579.6 1878.6,584.1 1879,588.5 1879.5,592.6 1879.9,596.4 1880.3,600 1880.8,603.2 1881.2,606.1 1881.7,608.7 1882.1,611.4 1882.6,614 1883,616.5 1883.4,619 1883.9,621.4 1884.3,623.7 1884.8,625.9 1885.2,627.9 1885.6,629.8 1886.1,631.5 1886.5,632.9 1887,634.2 1887.4,635.3 1887.9,636.1 1888.3,636.7 1888.8,637.1 1889.2,637.5 1889.7,637.9 1890.2,638.3 1890.6,638.6 1891.1,638.9 1891.6,639.2 1892,639.5 1892.5,639.7 1893,639.9 1893.4,640.1 1893.9,640.3 1894.4,640.4 1894.8,640.5 1895.3,640.5 1895.8,640.6 1899.4,640.6 1903.1,640.6 1906.8,640.6 1910.5,640.6 1914.1,640.6 1917.8,640.6 1921.5,640.6 1925.2,640.6 1928.9,640.6 1932.5,640.6 1936.2,640.6 1939.9,640.6 1943.6,640.6 1947.3,640.6 1950.9,640.6 1954.6,640.6 1958.3,640.6 1962,640.6 1965.7,640.6 1969.3,640.6 1973,640.6 1976.7,640.6 1980.4,640.6 1984.1,640.6 1987.7,640.6 1991.4,640.6 1995.1,640.6 1998.8,640.6 2002.5,640.6 2006.1,640.6 2009.8,640.6 2013.5,640.6 2017.2,640.6 2020.9,640.5 2024.5,640.5 2028.2,640.4 2031.9,640.3 2035.6,640.2 2039.3,640.1 2042.9,640 2046.6,639.9 2050.3,639.8 2054,639.7 2057.7,639.7 2061.3,639.6 2065,639.5 2068.7,639.5 2072.4,639.5 2073.6,639.5 2074.8,639.5 2076.1,639.5 2077.3,639.5 2078.5,639.5 2079.7,639.5 2081,639.5 2082.2,639.5 2083.4,639.5 2084.6,639.5 2085.9,639.5 2087.1,639.5 2088.3,639.5 2089.5,639.5 2090.8,639.5 2092,639.5" fill="none" stroke="#000000" stroke-width="3" stroke-linejoin="round" clip-path="url(#c140035939693056)"/>
<path d="M1307,640.6 1321.7,640.6 1336.4,640.6 1351.2,640.6 1365.9,640.6 1380.6,640.6 1395.3,640.6 1410,640.6 1424.8,640.6 1439.5,640.6 1454.2,640.6 1468.9,640.6 1483.6,640.6 1498.3,640.6 1513.1,640.6 1527.8,640.6 1542.5,640.6 1546.2,640.6 1549.9,640.5 1553.5,640.5 1557.2,640.4 1560.9,640.4 1564.6,640.3 1568.3,640.2 1571.9,640 1575.6,639.9 1579.3,639.7 1583,639.6 1586.7,639.4 1590.3,639.1 1594,638.9 1597.7,638.7 1601.4,638.4 1602.8,638.2 1604.3,638 1605.8,637.7 1607.3,637.4 1608.7,637 1610.2,636.6 1611.7,636.1 1613.2,635.5 1614.6,635 1616.1,634.4 1617.6,633.8 1619,633.1 1620.5,632.5 1622,631.9 1623.5,631.2 1624.9,630.6 1627.1,629.6 1629.3,628.6 1631.5,627.5 1633.8,626.4 1636,625.2 1638.2,624 1640.4,622.7 1642.6,621.3 1644.8,619.9 1647,618.4 1649.2,616.8 1651.4,615.2 1653.6,613.5 1655.8,611.7 1658,609.8 1660.2,607.8 1662.4,605.7 1664.6,603.4 1666.7,600.9 1668.9,598.3 1671,595.4 1673.2,592.3 1675.4,589.1 1677.5,585.7 1679.7,582.2 1681.8,578.5 1684,574.7 1686.2,570.8 1688.3,566.7 1690.5,562.5 1692.6,558.2 1694.8,553.8 1696.3,550.5 1697.8,547 1699.4,543.2 1700.9,539.2 1702.4,535.1 1703.9,530.7 1705.4,526.3 1707,521.7 1708.5,517 1710,512.3 1711.5,507.5 1713,502.7 1714.6,497.9 1716.1,493.2 1717.6,488.5 1719.1,483.9 1720.9,478.7 1722.6,473.4 1724.4,468 1726.1,462.6 1727.9,457.1 1729.6,451.6 1731.4,446.1 1733.2,440.6 1734.9,435.1 1736.7,429.5 1738.4,424 1740.2,418.4 1741.9,412.9 1743.7,407.4 1745.4,402 1747.2,396.5 1749.1,390.4 1751,384.1 1753,377.5 1754.9,370.8 1756.8,364.1 1758.7,357.3 1760.7,350.6 1762.6,344 1764.5,337.5 1766.4,331.3 1768.4,325.4 1770.3,319.8 1772.2,314.6 1774.1,309.9 1776.1,305.7 1778,302.2 1779.4,299.8 1780.7,297.4 1782.1,295.1 1783.5,292.7 1784.9,290.4 1786.2,288.2 1787.6,286.1 1789,284.1 1790.4,282.3 1791.7,280.6 1793.1,279.2 1794.5,277.9 1795.9,276.9 1797.2,276.1 1798.6,275.6 1800,275.5 1800.8,275.5 1801.6,275.7 1802.4,276.1 1803.2,276.5 1804,277 1804.8,277.7 1805.6,278.4 1806.5,279.3 1807.3,280.2 1808.1,281.2 1808.9,282.2 1809.7,283.3 1810.5,284.5 1811.3,285.7 1812.1,287 1812.9,288.3 1813.5,289.3 1814.1,290.7 1814.7,292.2 1815.3,293.9 1815.9,295.8 1816.5,297.9 1817.1,300.1 1817.6,302.5 1818.2,304.9 1818.8,307.5 1819.4,310.1 1820,312.8 1820.6,315.5 1821.2,318.2 1821.8,320.9 1822.4,323.6 1822.9,326 1823.4,328.6 1823.9,331.3 1824.4,334 1824.9,336.9 1825.4,339.9 1826,342.9 1826.5,345.9 1827,349 1827.5,352.2 1828,355.3 1828.5,358.4 1829,361.6 1829.6,364.7 1830.1,367.7 1830.6,370.7 1831,372.8 1831.3,374.9 1831.7,377 1832.1,379.1 1832.4,381.1 1832.8,383.2 1833.2,385.3 1833.5,387.4 1833.9,389.5 1834.3,391.6 1834.6,393.7 1835,395.8 1835.4,398 1835.7,400.2 1836.1,402.5 1836.5,404.8 1836.9,407.6 1837.4,410.4 1837.8,413.3 1838.2,416.3 1838.7,419.3 1839.1,422.3 1839.6,425.4 1840,428.5 1840.5,431.6 1840.9,434.7 1841.3,437.8 1841.8,440.9 1842.2,444 1842.7,447.1 1843.1,450.1 1843.5,453.1 1844,456.1 1844.4,459.1 1844.9,462 1845.3,465 1845.8,467.9 1846.2,470.9 1846.6,473.8 1847.1,476.8 1847.5,479.7 1848,482.6 1848.4,485.5 1848.8,488.5 1849.3,491.4 1849.7,494.3 1850.2,497.3 1850.6,500.2 1851.1,503.2 1851.5,506.1 1851.9,509.1 1852.4,512.1 1852.8,515.1 1853.3,518.2 1853.7,521.2 1854.1,524.2 1854.6,527.2 1855,530.1 1855.5,533.1 1855.9,536 1856.4,538.9 1856.8,541.7 1857.2,544.5 1857.7,547.3 1858.3,550.9 1858.9,554.6 1859.4,558.4 1860,562.1 1860.6,565.8 1861.2,569.5 1861.8,573.1 1862.4,576.7 1863,580.2 1863.6,583.6 1864.2,586.9 1864.7,590.1 1865.3,593.1 1865.9,596 1866.5,598.8 1867.1,601.3 1867.7,603.7 1868.3,606.2 1868.9,608.6 1869.5,610.9 1870,613.3 1870.6,615.5 1871.2,617.7 1871.8,619.8 1872.4,621.8 1873,623.7 1873.6,625.4 1874.2,627 1874.8,628.5 1875.3,629.8 1875.9,630.9 1876.5,631.9 1877.1,632.7 1877.7,633.6 1878.3,634.4 1878.9,635.1 1879.5,635.9 1880,636.6 1880.6,637.3 1881.2,637.9 1881.8,638.5 1882.4,639 1883,639.5 1883.6,639.8 1884.2,640.2 1884.8,640.4 1885.3,640.5 1885.9,640.6 1886.6,640.6 1887.2,640.6 1887.8,640.6 1888.4,640.6 1889,640.6 1889.6,640.6 1890.2,640.6 1890.8,640.6 1891.5,640.6 1892.1,640.6 1892.7,640.6 1893.3,640.6 1893.9,640.6 1894.5,640.6 1895.1,640.6 1895.8,640.6 1899.4,640.6 1903.1,640.6 1906.8,640.6 1910.5,640.6 1914.1,640.6 1917.8,640.6 1921.5,640.6 1925.2,640.6 1928.9,640.6 1932.5,640.6 1936.2,640.6 1939.9,640.6 1943.6,640.6 1947.3,640.6 1950.9,640.6 1954.6,640.6 1958.3,640.6 1962,640.6 1965.7,640.6 1969.3,640.6 1973,640.6 1976.7,640.6 1980.4,640.6 1984.1,640.6 1987.7,640.6 1991.4,640.6 1995.1,640.6 1998.8,640.6 2002.5,640.6 2006.1,640.6 2009.8,640.6 2013.5,640.6 2017.2,640.6 2020.9,640.5 2024.5,640.5 2028.2,640.4 2031.9,640.3 2035.6,640.2 2039.3,640.1 2042.9,640 2046.6,639.9 2050.3,639.8 2054,639.7 2057.7,639.7 2061.3,639.6 2065,639.5 2068.7,639.5 2072.4,639.5 2073.6,639.5 2074.8,639.5 2076.1,639.5 2077.3,639.5 2078.5,639.5 2079.7,639.5 2081,639.5 2082.2,639.5 2083.4,639.5 2084.6,639.5 2085.9,639.5 2087.1,639.5 2088.3,639.5 2089.5,639.5 2090.8,639.5 2092,639.5" fill="none" stroke="#0000FF" stroke-width="3" stroke-linejoin="round" clip-path="url(#c140035939693056)"/>
<g clip-path="url(#c140035939693056)">
<rect x="1300.2" y="633.8" width="13.5" height="13.5" fill="#FF0000"/>
<rect x="1359.1" y="633.8" width="13.5" height="13.5" fill="#FF0000"/>
<rect x="1418" y="633.8" width="13.5" height="13.5" fill="#FF0000"/>
<rect x="1476.9" y="633.8" width="13.5" height="13.5" fill="#FF0000"/>
<rect x="1535.8" y="633.8" width="13.5" height="13.5" fill="#FF0000"/>
<rect x="1594.6" y="633.8" width="13.5" height="13.5" fill="#FF0000"/>
<rect x="1653.5" y="633.8" width="13.5" height="13.5" fill="#FF0000"/>
<rect x="1712.4" y="632.7" width="13.5" height="13.5" fill="#FF0000"/>
<rect x="1771.2" y="607.1" width="13.5" height="13.5" fill="#FF0000"/>
<rect x="1830.1" y="368.5" width="13.5" height="13.5" fill="#FF0000"/>
<rect x="1889" y="633.8" width="13.5" height="13.5" fill="#FF0000"/>
<rect x="1947.9" y="633.8" width="13.5" height="13.5" fill="#FF0000"/>
<rect x="2006.8" y="633.8" width="13.5" height="13.5" fill="#FF0000"/>
<rect x="2065.6" y="632.7" width="13.5" height="13.5" fill="#FF0000"/>
<rect x="2085.2" y="632.7" width="13.5" height="13.5" fill="#FF0000"/>
</g>
<g clip-path="url(#c140035939693056)">
<circle cx="1307" cy="640.6" r="7.5" fill="#000000"/>
<circle cx="1365.9" cy="640.6" r="7.5" fill="#000000"/>
<circle cx="1424.8" cy="640.6" r="7.5" fill="#000000"/>
<circle cx="1483.6" cy="640.6" r="7.5" fill="#000000"/>
<circle cx="1542.5" cy="640.6" r="7.5" fill="#000000"/>
<circle cx="1601.4" cy="640.6" r="7.5" fill="#000000"/>
<circle cx="1660.2" cy="639.3" r="7.5" fill="#000000"/>
<circle cx="1719.1" cy="612.4" r="7.5" fill="#000000"/>
<circle cx="1778" cy="415.8" r="7.5" fill="#000000"/>
<circle cx="1836.9" cy="138.9" r="7.5" fill="#000000"/>
<circle cx="1895.8" cy="640.6" r="7.5" fill="#000000"/>
<circle cx="1954.6" cy="640.6" r="7.5" fill="#000000"/>
<circle cx="2013.5" cy="640.6" r="7.5" fill="#000000"/>
<circle cx="2072.4" cy="639.5" r="7.5" fill="#000000"/>
<circle cx="2092" cy="639.5" r="7.5" fill="#000000"/>
</g>
<g clip-path="url(#c140035939693056)">
<path d="M1307 631.3L1315.2 646.3L1298.8 646.3Z" fill="#0000FF"/>
<path d="M1365.9 631.3L1374.1 646.3L1357.6 646.3Z" fill="#0000FF"/>
<path d="M1424.8 631.3L1433 646.3L1416.5 646.3Z" fill="#0000FF"/>
<path d="M1483.6 631.3L1491.9 646.3L1475.4 646.3Z" fill="#0000FF"/>
<path d="M1542.5 631.3L1550.8 646.3L1534.2 646.3Z" fill="#0000FF"/>
<path d="M1601.4 629.1L1609.6 644.1L1593.1 644.1Z" fill="#0000FF"/>
<path d="M1660.2 598.5L1668.5 613.5L1652 613.5Z" fill="#0000FF"/>
<path d="M1719.1 474.6L1727.4 489.6L1710.9 489.6Z" fill="#0000FF"/>
<path d="M1778 292.9L1786.2 307.9L1769.8 307.9Z" fill="#0000FF"/>
<path d="M1836.9 398.1L1845.1 413.1L1828.6 413.1Z" fill="#0000FF"/>
<path d="M1895.8 631.3L1904 646.3L1887.5 646.3Z" fill="#0000FF"/>
<path d="M1954.6 631.3L1962.9 646.3L1946.4 646.3Z" fill="#0000FF"/>
<path d="M2013.5 631.3L2021.8 646.3L2005.2 646.3Z" fill="#0000FF"/>
<path d="M2072.4 630.2L2080.6 645.2L2064.1 645.2Z" fill="#0000FF"/>
<path d="M2092 630.2L2100.2 645.2L2083.8 645.2Z" fill="#0000FF"/>
</g>
<line x1="1906.4" y1="100.6" x2="1991.9" y2="100.6" stroke="#FF0000" stroke-width="3"/>
<rect x="1942.4" y="93.8" width="13.5" height="13.5" fill="#FF0000"/>
<text transform="scale(0.93 1)" x="2173.1 2194.6 2216.1" y="114.9" font-size="41" text-anchor="middle" font-family='"Liberation Serif", "Noto Serif CJK SC", serif'>b=2</text>
<line x1="1906.4" y1="147.2" x2="1991.9" y2="147.2" stroke="#000000" stroke-width="3"/>
<circle cx="1949.2" cy="147.2" r="7.5" fill="#000000"/>
<text transform="scale(0.93 1)" x="2173.1 2194.6 2216.1" y="161.5" font-size="41" text-anchor="middle" font-family='"Liberation Serif", "Noto Serif CJK SC", serif'>b=4</text>
<line x1="1906.4" y1="193.9" x2="1991.9" y2="193.9" stroke="#0000FF" stroke-width="3"/>
<path d="M1949.2 184.6L1957.4 199.6L1940.9 199.6Z" fill="#0000FF"/>
<text transform="scale(0.93 1)" x="2173.1 2194.6 2216.1" y="208.2" font-size="41" text-anchor="middle" font-family='"Liberation Serif", "Noto Serif CJK SC", serif'>b=6</text>
<clipPath id="c140035939852432"><rect x="208.2" y="896.5" width="769.2" height="652.5"/></clipPath>
<text transform="scale(0.93 1)" x="103.8 126.7 159.7 187.6" y="1505.2" font-size="57.5" text-anchor="middle" font-family='"Liberation Serif", "Noto Serif CJK SC", serif'>0.00</text>
<text transform="scale(0.93 1)" x="103.8 126.7 159.7 187.6" y="1374.8" font-size="57.5" text-anchor="middle" font-family='"Liberation Serif", "Noto Serif CJK SC", serif'>0.05</text>
<text transform="scale(0.93 1)" x="103.8 126.7 159.7 187.6" y="1244.2" font-size="57.5" text-anchor="middle" font-family='"Liberation Serif", "Noto Serif CJK SC", serif'>0.10</text>
<text transform="scale(0.93 1)" x="103.8 126.7 159.7 187.6" y="1113.8" font-size="57.5" text-anchor="middle" font-family='"Liberation Serif", "Noto Serif CJK SC", serif'>0.15</text>
<text transform="scale(0.93 1)" x="103.8 126.7 159.7 187.6" y="983.2" font-size="57.5" text-anchor="middle" font-family='"Liberation Serif", "Noto Serif CJK SC", serif'>0.20</text>
<text transform="scale(0.93 1)" x="198.6 226.8 252.1" y="1612" font-size="56" text-anchor="middle" font-family='"Liberation Serif", "Noto Serif CJK SC", serif'>−15</text>
<text transform="scale(0.93 1)" x="336.5 364.7 389.9" y="1612" font-size="56" text-anchor="middle" font-family='"Liberation Serif", "Noto Serif CJK SC", serif'>−10</text>
<text transform="scale(0.93 1)" x="486.9 515.2" y="1612" font-size="56" text-anchor="middle" font-family='"Liberation Serif", "Noto Serif CJK SC", serif'>−5</text>
<text transform="scale(0.93 1)" x="637.4" y="1612" font-size="56" text-anchor="middle" font-family='"Liberation Serif", "Noto Serif CJK SC", serif'>0</text>
<text transform="scale(0.93 1)" x="775.3" y="1612" font-size="56" text-anchor="middle" font-family='"Liberation Serif", "Noto Serif CJK SC", serif'>5</text>
<text transform="scale(0.93 1)" x="900.5 925.8" y="1612" font-size="56" text-anchor="middle" font-family='"Liberation Serif", "Noto Serif CJK SC", serif'>10</text>
<text transform="scale(0.93 1)" x="1038.3 1063.6" y="1612" font-size="56" text-anchor="middle" font-family='"Liberation Serif", "Noto Serif CJK SC", serif'>15</text>
<text font-size="53" font-family='"Liberation Serif", "Noto Serif CJK SC", serif'><tspan x="497.5" y="1669">Δ</tspan><tspan x="529" y="1685" font-size="49" font-weight="bold" font-family='"Liberation Sans", sans-serif'>p</tspan><tspan x="552" y="1669">（</tspan><tspan x="609.5" y="1669">MHz</tspan><tspan x="722" y="1669">）</tspan></text>
<text transform="translate(54.4 1247.5) rotate(-90)" x="0" y="0" font-size="56" font-family='"Liberation Serif", "Noto Serif CJK SC", serif'>R<tspan font-size="38" dy="-21.7">r</tspan></text>
<text x="212" y="966" font-size="71" font-family='"Liberation Sans", sans-serif'>(c)</text>
<clipPath id="c140035939853440"><rect x="1305" y="891.2" width="786" height="657.8"/></clipPath>
<text transform="scale(0.93 1)" x="1318.3 1341.2 1374.2" y="1519.9" font-size="57.5" text-anchor="middle" font-family='"Liberation Serif", "Noto Serif CJK SC", serif'>0.0</text>
<text transform="scale(0.93 1)" x="1318.3 1341.2 1374.2" y="1317.5" font-size="57.5" text-anchor="middle" font-family='"Liberation Serif", "Noto Serif CJK SC", serif'>0.1</text>
<text transform="scale(0.93 1)" x="1318.3 1341.2 1374.2" y="1115.1" font-size="57.5" text-anchor="middle" font-family='"Liberation Serif", "Noto Serif CJK SC", serif'>0.2</text>
<text transform="scale(0.93 1)" x="1318.3 1341.2 1374.2" y="912.7" font-size="57.5" text-anchor="middle" font-family='"Liberation Serif", "Noto Serif CJK SC", serif'>0.3</text>
<text transform="scale(0.93 1)" x="1378 1406.2 1431.5" y="1614" font-size="56" text-anchor="middle" font-family='"Liberation Serif", "Noto Serif CJK SC", serif'>−20</text>
<text transform="scale(0.93 1)" x="1589.2 1617.5 1642.7" y="1614" font-size="56" text-anchor="middle" font-family='"Liberation Serif", "Noto Serif CJK SC", serif'>−10</text>
<text transform="scale(0.93 1)" x="1825.8" y="1614" font-size="56" text-anchor="middle" font-family='"Liberation Serif", "Noto Serif CJK SC", serif'>0</text>
<text transform="scale(0.93 1)" x="2024.5 2049.7" y="1614" font-size="56" text-anchor="middle" font-family='"Liberation Serif", "Noto Serif CJK SC", serif'>10</text>
<text transform="scale(0.93 1)" x="2235.8 2261" y="1614" font-size="56" text-anchor="middle" font-family='"Liberation Serif", "Noto Serif CJK SC", serif'>20</text>
<g transform="translate(1589.5 0) scale(0.965 1) translate(-1589.5 0)">
<text x="1589.5" y="1671.6" font-size="56" font-family='"Liberation Serif", "Noto Serif CJK SC", serif' text-anchor="start">Δ<tspan font-size="38" dy="15">p</tspan><tspan dy="-15">(MHz)</tspan></text>
</g>
<text transform="translate(1194.1 1239.5) rotate(-90)" x="0" y="0" font-size="56" font-family='"Liberation Serif", "Noto Serif CJK SC", serif'>R<tspan font-size="38" dy="-21.7">r</tspan></text>
<text x="1319" y="965" font-size="71" font-family='"Liberation Sans", sans-serif'>(d)</text>
<clipPath id="c140035939853584"><rect x="190" y="1711" width="787" height="685"/></clipPath>
<text transform="scale(0.93 1)" x="180.9" y="2362.6" font-size="40" text-anchor="middle" font-family='"Liberation Serif", "Noto Serif CJK SC", serif'>0</text>
<text transform="scale(0.93 1)" x="162.1 180.9" y="2264.7" font-size="40" text-anchor="middle" font-family='"Liberation Serif", "Noto Serif CJK SC", serif'>10</text>
<text transform="scale(0.93 1)" x="162.1 180.9" y="2166.9" font-size="40" text-anchor="middle" font-family='"Liberation Serif", "Noto Serif CJK SC", serif'>20</text>
<text transform="scale(0.93 1)" x="162.1 180.9" y="2069" font-size="40" text-anchor="middle" font-family='"Liberation Serif", "Noto Serif CJK SC", serif'>30</text>
<text transform="scale(0.93 1)" x="162.1 180.9" y="1971.1" font-size="40" text-anchor="middle" font-family='"Liberation Serif", "Noto Serif CJK SC", serif'>40</text>
<text transform="scale(0.93 1)" x="162.1 180.9" y="1873.3" font-size="40" text-anchor="middle" font-family='"Liberation Serif", "Noto Serif CJK SC", serif'>50</text>
<text transform="scale(0.93 1)" x="162.1 180.9" y="1775.4" font-size="40" text-anchor="middle" font-family='"Liberation Serif", "Noto Serif CJK SC", serif'>60</text>
<text transform="scale(0.93 1)" x="274.7 294.1 322" y="2452" font-size="46" text-anchor="middle" font-family='"Liberation Serif", "Noto Serif CJK SC", serif'>0.2</text>
<text transform="scale(0.93 1)" x="462.7 482.1 510" y="2452" font-size="46" text-anchor="middle" font-family='"Liberation Serif", "Noto Serif CJK SC", serif'>0.4</text>
<text transform="scale(0.93 1)" x="650.8 670.2 698.1" y="2452" font-size="46" text-anchor="middle" font-family='"Liberation Serif", "Noto Serif CJK SC", serif'>0.6</text>
<text transform="scale(0.93 1)" x="838.8 858.2 886.1" y="2452" font-size="46" text-anchor="middle" font-family='"Liberation Serif", "Noto Serif CJK SC", serif'>0.8</text>
<text transform="scale(0.93 1)" x="1026.9 1046.3 1074.2" y="2452" font-size="46" text-anchor="middle" font-family='"Liberation Serif", "Noto Serif CJK SC", serif'>1.0</text>
<text x="601" y="2513" font-size="52" font-family='"Liberation Serif", "Noto Serif CJK SC", serif' text-anchor="start">a</text>
<text transform="translate(96 2071) rotate(-90)" x="0" y="0" font-size="50" font-family='"Liberation Serif", "Noto Serif CJK SC", serif'>R<tspan font-size="33" dy="-19">r,</tspan><tspan font-size="33" font-style="italic">l</tspan><tspan x="33" dy="32" font-size="33">max</tspan></text>
<text x="199" y="1778" font-size="71" font-family='"Liberation Sans", sans-serif'>(e)</text>
<clipPath id="c140035939853392"><rect x="1301" y="1713" width="791.5" height="686"/></clipPath>
<text transform="scale(0.93 1)" x="1311.3 1334.2 1367.2" y="2421" font-size="60" text-anchor="middle" font-family='"Liberation Serif", "Noto Serif CJK SC", serif'>0.0</text>
<text transform="scale(0.93 1)" x="1311.3 1334.2 1367.2" y="2296.3" font-size="60" text-anchor="middle" font-family='"Liberation Serif", "Noto Serif CJK SC", serif'>0.5</text>
<text transform="scale(0.93 1)" x="1311.3 1334.2 1367.2" y="2171.5" font-size="60" text-anchor="middle" font-family='"Liberation Serif", "Noto Serif CJK SC", serif'>1.0</text>
<text transform="scale(0.93 1)" x="1311.3 1334.2 1367.2" y="2046.8" font-size="60" text-anchor="middle" font-family='"Liberation Serif", "Noto Serif CJK SC", serif'>1.5</text>
<text transform="scale(0.93 1)" x="1311.3 1334.2 1367.2" y="1922.1" font-size="60" text-anchor="middle" font-family='"Liberation Serif", "Noto Serif CJK SC", serif'>2.0</text>
<text transform="scale(0.93 1)" x="1311.3 1334.2 1367.2" y="1797.4" font-size="60" text-anchor="middle" font-family='"Liberation Serif", "Noto Serif CJK SC", serif'>2.5</text>
<text transform="scale(0.93 1)" x="1398.9" y="2464" font-size="56" text-anchor="middle" font-family='"Liberation Serif", "Noto Serif CJK SC", serif'>0</text>
<text transform="scale(0.93 1)" x="1569.1" y="2464" font-size="56" text-anchor="middle" font-family='"Liberation Serif", "Noto Serif CJK SC", serif'>2</text>
<text transform="scale(0.93 1)" x="1739.4" y="2464" font-size="56" text-anchor="middle" font-family='"Liberation Serif", "Noto Serif CJK SC", serif'>4</text>
<text transform="scale(0.93 1)" x="1909.6" y="2464" font-size="56" text-anchor="middle" font-family='"Liberation Serif", "Noto Serif CJK SC", serif'>6</text>
<text transform="scale(0.93 1)" x="2079.8" y="2464" font-size="56" text-anchor="middle" font-family='"Liberation Serif", "Noto Serif CJK SC", serif'>8</text>
<text transform="scale(0.93 1)" x="2237.4 2262.6" y="2464" font-size="56" text-anchor="middle" font-family='"Liberation Serif", "Noto Serif CJK SC", serif'>10</text>
<text x="1684" y="2514" font-size="57" font-family='"Liberation Serif", "Noto Serif CJK SC", serif' text-anchor="start">b</text>
<text transform="translate(1176.3 2110) rotate(-90)" x="0" y="0" font-size="57" font-family='"Liberation Serif", "Noto Serif CJK SC", serif'>R<tspan font-size="38" dy="-22.3">r,</tspan><tspan font-size="38" font-style="italic">l</tspan><tspan x="40" dy="37" font-size="38">max</tspan></text>
<text x="1319" y="1784" font-size="71" font-family='"Liberation Sans", sans-serif'>(f)</text>
<clipPath id="c140035939853344"><rect x="204.4" y="2530.3" width="773" height="652"/></clipPath>
<text transform="scale(0.93 1)" x="134.4 157.3 190.3" y="3149.5" font-size="57.5" text-anchor="middle" font-family='"Liberation Serif", "Noto Serif CJK SC", serif'>0.0</text>
<text transform="scale(0.93 1)" x="134.4 157.3 190.3" y="3040.8" font-size="57.5" text-anchor="middle" font-family='"Liberation Serif", "Noto Serif CJK SC", serif'>0.2</text>
<text transform="scale(0.93 1)" x="134.4 157.3 190.3" y="2932.1" font-size="57.5" text-anchor="middle" font-family='"Liberation Serif", "Noto Serif CJK SC", serif'>0.4</text>
<text transform="scale(0.93 1)" x="134.4 157.3 190.3" y="2823.5" font-size="57.5" text-anchor="middle" font-family='"Liberation Serif", "Noto Serif CJK SC", serif'>0.6</text>
<text transform="scale(0.93 1)" x="134.4 157.3 190.3" y="2714.8" font-size="57.5" text-anchor="middle" font-family='"Liberation Serif", "Noto Serif CJK SC", serif'>0.8</text>
<text transform="scale(0.93 1)" x="134.4 157.3 190.3" y="2606.1" font-size="57.5" text-anchor="middle" font-family='"Liberation Serif", "Noto Serif CJK SC", serif'>1.0</text>
<text transform="scale(0.93 1)" x="194.5 222.7 248" y="3242.7" font-size="56" text-anchor="middle" font-family='"Liberation Serif", "Noto Serif CJK SC", serif'>−20</text>
<text transform="scale(0.93 1)" x="286.9 315.1 340.4" y="3242.7" font-size="56" text-anchor="middle" font-family='"Liberation Serif", "Noto Serif CJK SC", serif'>−15</text>
<text transform="scale(0.93 1)" x="379.2 407.4 432.7" y="3242.7" font-size="56" text-anchor="middle" font-family='"Liberation Serif", "Noto Serif CJK SC", serif'>−10</text>
<text transform="scale(0.93 1)" x="484.2 512.4" y="3242.7" font-size="56" text-anchor="middle" font-family='"Liberation Serif", "Noto Serif CJK SC", serif'>−5</text>
<text transform="scale(0.93 1)" x="589.2" y="3242.7" font-size="56" text-anchor="middle" font-family='"Liberation Serif", "Noto Serif CJK SC", serif'>0</text>
<text transform="scale(0.93 1)" x="681.6" y="3242.7" font-size="56" text-anchor="middle" font-family='"Liberation Serif", "Noto Serif CJK SC", serif'>5</text>
<text transform="scale(0.93 1)" x="761.3 786.5" y="3242.7" font-size="56" text-anchor="middle" font-family='"Liberation Serif", "Noto Serif CJK SC", serif'>10</text>
<text transform="scale(0.93 1)" x="853.6 878.9" y="3242.7" font-size="56" text-anchor="middle" font-family='"Liberation Serif", "Noto Serif CJK SC", serif'>15</text>
<text transform="scale(0.93 1)" x="946 971.2" y="3242.7" font-size="56" text-anchor="middle" font-family='"Liberation Serif", "Noto Serif CJK SC", serif'>20</text>
<text transform="scale(0.93 1)" x="1038.3 1063.6" y="3242.7" font-size="56" text-anchor="middle" font-family='"Liberation Serif", "Noto Serif CJK SC", serif'>25</text>
<g transform="translate(494 0) scale(0.957 1) translate(-494 0)">
<text x="494" y="3324" font-size="55" font-family='"Liberation Serif", "Noto Serif CJK SC", serif' text-anchor="start">Δ<tspan font-size="38" dy="15">p</tspan><tspan dy="-15">(MHz)</tspan></text>
</g>
<text transform="translate(84.1 2886) rotate(-90)" x="0" y="0" font-size="58" font-family='"Liberation Serif", "Noto Serif CJK SC", serif'><tspan font-style="italic">C</tspan><tspan font-style="italic" font-size="36" dy="13">R</tspan></text>
<text x="213" y="2688" font-size="71" font-family='"Liberation Sans", sans-serif'>(g)</text>
<clipPath id="c140035939853488"><rect x="1309" y="2532.4" width="819" height="653.9"/></clipPath>
<text transform="scale(0.93 1)" x="1318.7 1341.6 1374.6" y="3153.3" font-size="57.5" text-anchor="middle" font-family='"Liberation Serif", "Noto Serif CJK SC", serif'>0.0</text>
<text transform="scale(0.93 1)" x="1318.7 1341.6 1374.6" y="3044.3" font-size="57.5" text-anchor="middle" font-family='"Liberation Serif", "Noto Serif CJK SC", serif'>0.2</text>
<text transform="scale(0.93 1)" x="1318.7 1341.6 1374.6" y="2935.3" font-size="57.5" text-anchor="middle" font-family='"Liberation Serif", "Noto Serif CJK SC", serif'>0.4</text>
<text transform="scale(0.93 1)" x="1318.7 1341.6 1374.6" y="2826.4" font-size="57.5" text-anchor="middle" font-family='"Liberation Serif", "Noto Serif CJK SC", serif'>0.6</text>
<text transform="scale(0.93 1)" x="1318.7 1341.6 1374.6" y="2717.4" font-size="57.5" text-anchor="middle" font-family='"Liberation Serif", "Noto Serif CJK SC", serif'>0.8</text>
<text transform="scale(0.93 1)" x="1318.7 1341.6 1374.6" y="2608.4" font-size="57.5" text-anchor="middle" font-family='"Liberation Serif", "Noto Serif CJK SC", serif'>1.0</text>
<text transform="scale(0.93 1)" x="1382.3 1410.5 1435.8" y="3247" font-size="56" text-anchor="middle" font-family='"Liberation Serif", "Noto Serif CJK SC", serif'>−20</text>
<text transform="scale(0.93 1)" x="1492.3 1520.6 1545.8" y="3247" font-size="56" text-anchor="middle" font-family='"Liberation Serif", "Noto Serif CJK SC", serif'>−15</text>
<text transform="scale(0.93 1)" x="1602.4 1630.6 1655.9" y="3247" font-size="56" text-anchor="middle" font-family='"Liberation Serif", "Noto Serif CJK SC", serif'>−10</text>
<text transform="scale(0.93 1)" x="1725.1 1753.4" y="3247" font-size="56" text-anchor="middle" font-family='"Liberation Serif", "Noto Serif CJK SC", serif'>−5</text>
<text transform="scale(0.93 1)" x="1847.8" y="3247" font-size="56" text-anchor="middle" font-family='"Liberation Serif", "Noto Serif CJK SC", serif'>0</text>
<text transform="scale(0.93 1)" x="1957.9" y="3247" font-size="56" text-anchor="middle" font-family='"Liberation Serif", "Noto Serif CJK SC", serif'>5</text>
<text transform="scale(0.93 1)" x="2055.4 2080.6" y="3247" font-size="56" text-anchor="middle" font-family='"Liberation Serif", "Noto Serif CJK SC", serif'>10</text>
<text transform="scale(0.93 1)" x="2165.5 2190.7" y="3247" font-size="56" text-anchor="middle" font-family='"Liberation Serif", "Noto Serif CJK SC", serif'>15</text>
<text transform="scale(0.93 1)" x="2275.5 2300.8" y="3247" font-size="56" text-anchor="middle" font-family='"Liberation Serif", "Noto Serif CJK SC", serif'>20</text>
<g transform="translate(1616 0) scale(1.016 1) translate(-1616 0)">
<text x="1616" y="3308" font-size="55" font-family='"Liberation Serif", "Noto Serif CJK SC", serif' text-anchor="start">Δ<tspan font-size="38" dy="15">p</tspan><tspan dy="-15">(MHz)</tspan></text>
</g>
<text transform="translate(1180.8 2887) rotate(-90)" x="0" y="0" font-size="58" font-family='"Liberation Serif", "Noto Serif CJK SC", serif'><tspan font-style="italic">C</tspan><tspan font-style="italic" font-size="36" dy="15">R</tspan></text>
<text x="1332" y="2688" font-size="71" font-family='"Liberation Sans", sans-serif'>(h)</text>
<path d="M208.2,1074 210.6,1071.6 213,1069.2 215.4,1066.9 217.8,1064.6 220.2,1062.3 222.6,1060.1 225,1057.9 227.4,1055.7 229.8,1053.6 232.2,1051.6 234.6,1049.5 237,1047.5 239.4,1045.6 241.9,1043.7 244.3,1041.9 246.7,1040 249.1,1038.3 251.5,1036.5 253.9,1034.7 256.3,1032.9 258.7,1031.1 261.1,1029.4 263.5,1027.7 265.9,1026 268.3,1024.4 270.7,1022.9 273.1,1021.4 275.5,1020 277.9,1018.7 280.3,1017.5 282.7,1016.5 285.1,1015.5 287.7,1014.6 290.2,1013.6 292.8,1012.6 295.4,1011.7 297.9,1010.8 300.5,1009.9 303.1,1009.1 305.6,1008.3 308.2,1007.5 310.8,1006.9 313.3,1006.3 315.9,1005.8 318.5,1005.4 321,1005.1 323.6,1004.9 326.1,1004.8 328.4,1004.9 330.6,1005 332.9,1005.1 335.1,1005.4 337.4,1005.6 339.6,1006 341.8,1006.4 344.1,1006.8 346.3,1007.3 348.6,1007.8 350.8,1008.3 353.1,1008.9 355.3,1009.5 357.6,1010.1 359.8,1010.7 362,1011.3 364.4,1012.1 366.8,1013.1 369.3,1014.3 371.7,1015.6 374.1,1017 376.5,1018.6 378.9,1020.3 381.3,1022.1 383.7,1023.9 386.1,1025.8 388.5,1027.8 390.9,1029.7 393.3,1031.7 395.7,1033.6 398.1,1035.6 400.5,1037.4 402.9,1039.3 405.3,1041.2 407.7,1043.1 410.1,1045 412.5,1047 414.9,1049 417.3,1051 419.7,1053.1 422.1,1055.2 424.5,1057.3 426.9,1059.5 429.3,1061.8 431.7,1064.1 434.2,1066.5 436.6,1068.9 439,1071.4 441.4,1074 443.8,1076.7 446.2,1079.5 448.6,1082.4 451,1085.4 453.4,1088.5 455.8,1091.6 458.2,1094.8 460.6,1098.1 463,1101.4 465.4,1104.7 467.8,1107.9 470.2,1111.2 472.6,1114.5 475,1117.8 477.4,1121 479.8,1124.2 482.2,1127.4 484.6,1130.6 487,1133.9 489.4,1137.1 491.8,1140.4 494.2,1143.7 496.7,1147 499.1,1150.3 501.5,1153.6 503.9,1156.9 506.3,1160.1 508.7,1163.4 511.1,1166.7 513.5,1169.9 515.9,1173.2 518.3,1176.4 520.7,1179.6 523.1,1182.8 525.5,1186 527.9,1189.2 530.3,1192.5 532.7,1195.7 535.1,1198.9 537.5,1202 539.9,1205.2 542.3,1208.4 544.7,1211.5 547.1,1214.7 549.5,1217.8 551.9,1220.9 554.3,1224.1 556.7,1227.2 559.1,1230.3 561.6,1233.4 564,1236.5 566.4,1239.7 568.8,1242.8 571.2,1245.9 573.6,1249 576,1252.1 578.4,1255.1 580.8,1258.1 583.2,1261 585.6,1263.9 588,1266.8 590.4,1269.6 592.8,1272.3 595.2,1275 597.6,1277.7 600,1280.3 602.4,1282.8 604.8,1285.3 607.2,1287.8 609.6,1290.3 612,1292.7 614.4,1295.1 616.8,1297.5 619.2,1299.9 621.6,1302.2 624,1304.6 626.5,1306.9 628.9,1309.2 631.3,1311.5 633.7,1313.8 636.1,1316.1 638.5,1318.4 640.9,1320.7 643.3,1323 645.7,1325.2 648.1,1327.5 650.5,1329.7 652.9,1331.9 655.3,1334 657.7,1336.1 660.1,1338.2 662.5,1340.2 664.9,1342.2 667.3,1344.1 669.7,1345.9 670.8,1346.8 672,1347.6 673.1,1348.4 674.2,1349.2 675.3,1350 676.5,1350.7 677.6,1351.5 678.7,1352.2 679.8,1353 680.9,1353.7 682.1,1354.4 683.2,1355.1 684.3,1355.8 685.4,1356.5 686.5,1357.3 687.7,1357.9 689.1,1358.8 690.6,1359.7 692,1360.6 693.4,1361.5 694.9,1362.4 696.3,1363.2 697.8,1364.1 699.2,1364.9 700.6,1365.8 702.1,1366.6 703.5,1367.4 705,1368.2 706.4,1369 707.9,1369.8 709.3,1370.5 710.7,1371.3 713,1372.4 715.2,1373.6 717.5,1374.7 719.7,1375.9 722,1377.1 724.2,1378.2 726.4,1379.3 728.7,1380.4 730.9,1381.5 733.2,1382.5 735.4,1383.4 737.7,1384.3 739.9,1385.2 742.2,1385.9 744.4,1386.6 746.6,1387.2 748.6,1387.6 750.5,1388 752.4,1388.3 754.3,1388.6 756.3,1388.9 758.2,1389.1 760.1,1389.4 762,1389.6 763.9,1389.8 765.9,1390.1 767.8,1390.4 769.7,1390.7 771.6,1391 773.6,1391.4 775.5,1391.9 777.4,1392.4 778.7,1392.8 780,1393.4 781.3,1394 782.5,1394.7 783.8,1395.6 785.1,1396.5 786.4,1397.4 787.7,1398.5 788.9,1399.5 790.2,1400.7 791.5,1401.8 792.8,1403.1 794.1,1404.3 795.4,1405.5 796.6,1406.8 797.9,1408.1 799.5,1409.7 801.1,1411.5 802.7,1413.4 804.3,1415.4 805.9,1417.5 807.5,1419.7 809.1,1421.9 810.7,1424.3 812.3,1426.7 813.9,1429.1 815.5,1431.7 817.2,1434.2 818.8,1436.8 820.4,1439.4 822,1442 823.6,1444.6 824.4,1445.9 825.2,1447.4 826,1448.8 826.8,1450.4 827.6,1451.9 828.4,1453.5 829.2,1455.1 830,1456.7 830.8,1458.3 831.6,1459.8 832.4,1461.4 833.2,1462.9 834,1464.3 834.8,1465.6 835.6,1466.9 836.4,1468.1 837.2,1469.2 838,1470.4 838.8,1471.7 839.6,1472.9 840.4,1474.1 841.2,1475.4 842,1476.5 842.8,1477.7 843.6,1478.7 844.4,1479.7 845.2,1480.5 846,1481.3 846.8,1481.9 847.6,1482.3 848.4,1482.6 849.2,1482.7 850,1482.6 850.8,1482.4 851.6,1482 852.4,1481.4 853.2,1480.8 854,1480 854.8,1479.2 855.6,1478.3 856.4,1477.3 857.2,1476.3 858,1475.3 858.8,1474.3 859.6,1473.4 860.4,1472.4 861.2,1471.5 862,1470.7 863,1469.7 863.9,1468.8 864.9,1467.8 865.9,1466.8 866.8,1465.7 867.8,1464.7 868.8,1463.6 869.7,1462.6 870.7,1461.6 871.6,1460.6 872.6,1459.6 873.6,1458.6 874.5,1457.7 875.5,1456.7 876.4,1455.9 877.4,1455 878.8,1453.8 880.3,1452.5 881.7,1451.1 883.2,1449.8 884.6,1448.4 886.1,1447.1 887.5,1445.8 888.9,1444.5 890.4,1443.4 891.8,1442.3 893.3,1441.3 894.7,1440.5 896.2,1439.8 897.6,1439.3 899,1439 900.5,1438.9 902.9,1438.9 905.3,1438.9 907.7,1439 910.1,1439 912.5,1439.1 914.9,1439.2 917.3,1439.3 919.7,1439.4 922.1,1439.5 924.5,1439.6 926.9,1439.7 929.3,1439.7 931.7,1439.8 934.1,1439.9 936.5,1439.9 938.9,1439.9 941.3,1439.9 943.7,1439.9 946.2,1439.9 948.6,1439.8 951,1439.8 953.4,1439.8 955.8,1439.7 958.2,1439.6 960.6,1439.6 963,1439.5 965.4,1439.4 967.8,1439.3 970.2,1439.2 972.6,1439.1 975,1439 977.4,1438.9" fill="none" stroke="#808000" stroke-width="3" stroke-linejoin="round" stroke-dasharray="15 16" clip-path="url(#c140035939852432)"/>
<path d="M208.2,1063.5 210.6,1061.1 213,1058.7 215.4,1056.4 217.8,1054 220.2,1051.8 222.6,1049.5 225,1047.3 227.4,1045.2 229.8,1043 232.2,1041 234.6,1039 237,1037 239.4,1035.1 241.9,1033.2 244.3,1031.4 246.7,1029.6 249.1,1027.9 251.5,1026.1 253.9,1024.3 256.3,1022.5 258.7,1020.7 261.1,1019 263.5,1017.3 265.9,1015.7 268.3,1014.1 270.7,1012.6 273.1,1011.2 275.5,1009.9 277.9,1008.7 280.3,1007.7 282.7,1006.8 285.1,1006.1 287.7,1005.5 290.2,1004.8 292.8,1004.2 295.4,1003.5 297.9,1003 300.5,1002.4 303.1,1001.9 305.6,1001.4 308.2,1000.9 310.8,1000.5 313.3,1000.2 315.9,999.9 318.5,999.7 321,999.5 323.6,999.4 326.1,999.3 328.4,999.4 330.6,999.5 332.9,999.7 335.1,1000 337.4,1000.4 339.6,1000.8 341.8,1001.3 344.1,1001.9 346.3,1002.4 348.6,1003.1 350.8,1003.7 353.1,1004.4 355.3,1005.2 357.6,1005.9 359.8,1006.7 362,1007.4 364.4,1008.3 366.8,1009.4 369.3,1010.7 371.7,1012.1 374.1,1013.7 376.5,1015.3 378.9,1017.1 381.3,1019 383.7,1020.9 386.1,1022.9 388.5,1024.9 390.9,1026.9 393.3,1028.9 395.7,1030.9 398.1,1032.9 400.5,1034.8 402.9,1036.7 405.3,1038.6 407.7,1040.6 410.1,1042.5 412.5,1044.5 414.9,1046.5 417.3,1048.5 419.7,1050.5 422.1,1052.6 424.5,1054.8 426.9,1057 429.3,1059.2 431.7,1061.5 434.2,1063.9 436.6,1066.3 439,1068.8 441.4,1071.3 443.8,1074 446.2,1076.8 448.6,1079.8 451,1082.7 453.4,1085.8 455.8,1089 458.2,1092.1 460.6,1095.4 463,1098.6 465.4,1101.9 467.8,1105.2 470.2,1108.5 472.6,1111.8 475,1115.1 477.4,1118.3 479.8,1121.6 482.2,1124.9 484.6,1128.2 487,1131.6 489.4,1134.9 491.8,1138.3 494.2,1141.7 496.7,1145.2 499.1,1148.6 501.5,1152 503.9,1155.4 506.3,1158.8 508.7,1162.2 511.1,1165.5 513.5,1168.8 515.9,1172.1 518.3,1175.4 520.7,1178.6 523.1,1181.9 525.5,1185.1 527.9,1188.4 530.3,1191.6 532.7,1194.8 535.1,1198 537.5,1201.2 539.9,1204.3 542.3,1207.5 544.7,1210.6 547.1,1213.7 549.5,1216.7 551.9,1219.8 554.3,1222.8 556.7,1225.7 559.1,1228.7 561.6,1231.6 564,1234.5 566.4,1237.4 568.8,1240.3 571.2,1243.1 573.6,1246 576,1248.8 578.4,1251.5 580.8,1254.3 583.2,1257 585.6,1259.7 588,1262.4 590.4,1265 592.8,1267.6 595.2,1270.2 597.6,1272.8 600,1275.4 602.4,1277.9 604.8,1280.4 607.2,1282.9 609.6,1285.4 612,1287.9 614.4,1290.3 616.8,1292.7 619.2,1295.1 621.6,1297.4 624,1299.7 626.5,1301.9 628.9,1304.1 631.3,1306.3 633.7,1308.4 636.1,1310.5 638.5,1312.6 640.9,1314.7 643.3,1316.8 645.7,1318.9 648.1,1320.9 650.5,1322.9 652.9,1324.8 655.3,1326.7 657.7,1328.6 660.1,1330.4 662.5,1332.1 664.9,1333.7 667.3,1335.3 669.7,1336.8 671,1337.6 672.3,1338.3 673.6,1339 674.8,1339.7 676.1,1340.4 677.4,1341 678.7,1341.6 680,1342.3 681.3,1342.9 682.5,1343.5 683.8,1344.1 685.1,1344.7 686.4,1345.3 687.7,1346 689,1346.6 690.2,1347.2 692,1348.2 693.8,1349.1 695.5,1350 697.3,1350.9 699,1351.8 700.8,1352.7 702.6,1353.6 704.3,1354.5 706.1,1355.4 707.9,1356.3 709.6,1357.2 711.4,1358.1 713.1,1359 714.9,1360 716.7,1360.9 718.4,1361.9 720.2,1362.8 722,1363.8 723.7,1364.8 725.5,1365.8 727.2,1366.9 729,1367.9 730.8,1368.9 732.5,1370 734.3,1371 736.1,1372 737.8,1373.1 739.6,1374 741.4,1375 743.1,1376 744.9,1376.9 746.6,1377.8 748.7,1378.8 750.8,1379.7 752.9,1380.6 755,1381.5 757.1,1382.3 759.1,1383.1 761.2,1384 763.3,1384.8 765.4,1385.6 767.5,1386.4 769.6,1387.3 771.6,1388.2 773.7,1389.2 775.8,1390.2 777.9,1391.2 780,1392.4 781.3,1393.1 782.5,1393.9 783.8,1394.7 785.1,1395.6 786.4,1396.4 787.7,1397.3 788.9,1398.2 790.2,1399.2 791.5,1400.2 792.8,1401.2 794.1,1402.3 795.4,1403.4 796.6,1404.6 797.9,1405.8 799.2,1407 800.5,1408.3 801.9,1409.9 803.4,1411.6 804.8,1413.4 806.3,1415.4 807.7,1417.5 809.1,1419.6 810.6,1421.9 812,1424.2 813.5,1426.6 814.9,1429.1 816.3,1431.5 817.8,1434 819.2,1436.6 820.7,1439.1 822.1,1441.6 823.6,1444.1 824.4,1445.5 825.2,1447 826,1448.5 826.8,1450.1 827.6,1451.7 828.4,1453.3 829.2,1454.9 830,1456.6 830.8,1458.2 831.6,1459.8 832.4,1461.3 833.2,1462.8 834,1464.3 834.8,1465.6 835.6,1466.9 836.4,1468.1 837.2,1469.3 838,1470.5 838.8,1471.7 839.6,1472.9 840.4,1474.2 841.2,1475.4 842,1476.6 842.8,1477.7 843.6,1478.7 844.4,1479.7 845.2,1480.5 846,1481.3 846.8,1481.9 847.6,1482.3 848.4,1482.6 849.2,1482.7 850,1482.6 850.8,1482.5 851.6,1482.1 852.4,1481.7 853.2,1481.3 854,1480.7 854.8,1480.1 855.6,1479.4 856.4,1478.6 857.2,1477.9 858,1477.1 858.8,1476.3 859.6,1475.5 860.4,1474.8 861.2,1474 862,1473.3 863,1472.5 863.9,1471.6 864.9,1470.6 865.9,1469.6 866.8,1468.6 867.8,1467.5 868.8,1466.5 869.7,1465.4 870.7,1464.3 871.6,1463.3 872.6,1462.2 873.6,1461.2 874.5,1460.2 875.5,1459.3 876.4,1458.5 877.4,1457.7 878.8,1456.5 880.3,1455.3 881.7,1454 883.2,1452.8 884.6,1451.5 886.1,1450.3 887.5,1449.1 888.9,1448 890.4,1447 891.8,1446 893.3,1445.1 894.7,1444.4 896.2,1443.7 897.6,1443.3 899,1442.9 900.5,1442.8 902.9,1442.7 905.3,1442.6 907.7,1442.5 910.1,1442.4 912.5,1442.3 914.9,1442.3 917.3,1442.2 919.7,1442.2 922.1,1442.1 924.5,1442.1 926.9,1442.1 929.3,1442 931.7,1442 934.1,1442 936.5,1442 938.9,1442 941.3,1442 943.7,1442 946.2,1442 948.6,1442 951,1442 953.4,1442 955.8,1442 958.2,1442 960.6,1442 963,1442 965.4,1442 967.8,1442 970.2,1442 972.6,1442 975,1442 977.4,1442" fill="none" stroke="#FF8000" stroke-width="3" stroke-linejoin="round" stroke-dasharray="15 16" clip-path="url(#c140035939852432)"/>
<path d="M208.2,1017.1 210.6,1015.1 213,1013.1 215.4,1011.1 217.8,1009.2 220.2,1007.3 222.6,1005.5 225,1003.7 227.4,1002 229.8,1000.3 232.2,998.7 234.6,997.2 237,995.7 239.4,994.3 241.9,992.9 244.3,991.7 246.7,990.5 249.1,989.3 251.5,988.1 253.9,986.9 256.3,985.7 258.7,984.6 261.1,983.5 263.5,982.4 265.9,981.4 268.3,980.4 270.7,979.5 273.1,978.7 275.5,977.9 277.9,977.3 280.3,976.8 282.7,976.4 285.1,976.1 286.7,976 288.3,975.8 289.9,975.7 291.5,975.6 293.1,975.5 294.7,975.4 296.3,975.3 297.9,975.2 299.5,975.1 301.1,975 302.7,975 304.4,974.9 306,974.9 307.6,974.8 309.2,974.8 310.8,974.8 312.4,974.8 314,974.9 315.6,975 317.2,975.2 318.8,975.3 320.4,975.5 322,975.8 323.6,976.1 325.2,976.4 326.8,976.7 328.4,977 330,977.3 331.6,977.7 333.2,978 334.8,978.4 336.4,978.7 338,979.1 339.6,979.5 341.2,979.9 342.8,980.4 344.4,980.9 346,981.5 347.6,982.1 349.2,982.7 350.8,983.3 352.4,984 354,984.7 355.6,985.4 357.2,986.1 358.8,986.8 360.4,987.6 362,988.4 364.4,989.6 366.8,990.9 369.3,992.3 371.7,993.8 374.1,995.4 376.5,997.1 378.9,998.8 381.3,1000.6 383.7,1002.5 386.1,1004.4 388.5,1006.3 390.9,1008.3 393.3,1010.3 395.7,1012.4 398.1,1014.5 400.5,1016.6 402.9,1018.7 405.3,1020.9 407.7,1023.2 410.1,1025.6 412.5,1028 414.9,1030.5 417.3,1033 419.7,1035.6 422.1,1038.3 424.5,1041 426.9,1043.7 429.3,1046.5 431.7,1049.3 434.2,1052.1 436.6,1054.9 439,1057.8 441.4,1060.7 443.8,1063.7 446.2,1066.7 448.6,1069.8 451,1073 453.4,1076.2 455.8,1079.4 458.2,1082.7 460.6,1086 463,1089.3 465.4,1092.6 467.8,1096 470.2,1099.3 472.6,1102.6 475,1105.9 477.4,1109.2 479.8,1112.5 482.2,1115.8 484.6,1119.1 487,1122.4 489.4,1125.8 491.8,1129.1 494.2,1132.5 496.7,1135.9 499.1,1139.2 501.5,1142.6 503.9,1145.9 506.3,1149.3 508.7,1152.6 511.1,1155.9 513.5,1159.2 515.9,1162.5 518.3,1165.7 520.7,1169 523.1,1172.2 525.5,1175.5 527.9,1178.7 530.3,1182 532.7,1185.2 535.1,1188.4 537.5,1191.6 539.9,1194.8 542.3,1198 544.7,1201.1 547.1,1204.3 549.5,1207.4 551.9,1210.5 554.3,1213.6 556.7,1216.7 559.1,1219.8 561.6,1222.9 564,1226 566.4,1229.2 568.8,1232.3 571.2,1235.3 573.6,1238.4 576,1241.4 578.4,1244.4 580.8,1247.4 583.2,1250.2 585.6,1253.1 588,1255.8 590.4,1258.5 592.8,1261.1 595.2,1263.7 597.6,1266.1 600,1268.6 602.4,1271 604.8,1273.4 607.2,1275.7 609.6,1278 612,1280.2 614.4,1282.5 616.8,1284.6 619.2,1286.8 621.6,1288.9 624,1291 626.5,1293.1 628.9,1295.1 631.3,1297.1 633.7,1299.1 636.1,1301.1 638.5,1303 640.9,1304.9 643.3,1306.8 645.7,1308.6 648.1,1310.4 650.5,1312.2 652.9,1314 655.3,1315.8 657.7,1317.5 660.1,1319.3 662.5,1321 664.9,1322.7 667.3,1324.4 669.7,1326.1 671.1,1327.1 672.4,1328 673.8,1329 675.2,1330 676.5,1330.9 677.9,1331.9 679.3,1332.8 680.6,1333.8 682,1334.7 683.3,1335.6 684.7,1336.5 686.1,1337.4 687.4,1338.3 688.8,1339.1 690.2,1339.9 691.5,1340.7 693.2,1341.7 694.8,1342.6 696.5,1343.5 698.1,1344.4 699.8,1345.3 701.4,1346.1 703.1,1347 704.7,1347.8 706.4,1348.6 708,1349.4 709.7,1350.2 711.3,1351 713,1351.8 714.6,1352.5 716.3,1353.3 717.9,1354 719.7,1354.8 721.5,1355.6 723.3,1356.3 725.1,1357.1 726.9,1357.8 728.7,1358.5 730.5,1359.2 732.3,1359.9 734.1,1360.6 735.9,1361.3 737.7,1362 739.5,1362.7 741.3,1363.4 743.1,1364.2 744.8,1365 746.6,1365.8 748.8,1366.8 751,1367.8 753.2,1368.8 755.4,1369.8 757.6,1370.9 759.8,1371.9 762,1373 764.2,1374.1 766.4,1375.2 768.6,1376.4 770.8,1377.6 773,1378.9 775.2,1380.2 777.4,1381.6 779.6,1383 781.8,1384.6 782.9,1385.4 784.1,1386.3 785.3,1387.2 786.4,1388.1 787.6,1389.1 788.8,1390.1 790,1391.2 791.1,1392.3 792.3,1393.4 793.5,1394.6 794.6,1395.9 795.8,1397.2 797,1398.5 798.1,1399.9 799.3,1401.3 800.5,1402.8 801.3,1403.9 802.1,1405.2 802.9,1406.5 803.7,1407.9 804.5,1409.3 805.3,1410.8 806.1,1412.4 806.9,1414 807.7,1415.7 808.5,1417.3 809.3,1419 810.1,1420.7 810.9,1422.3 811.7,1424 812.5,1425.6 813.3,1427.1 813.9,1428.3 814.6,1429.6 815.2,1430.8 815.9,1432.1 816.5,1433.3 817.2,1434.6 817.8,1435.8 818.4,1437.1 819.1,1438.3 819.7,1439.6 820.4,1440.8 821,1442 821.6,1443.3 822.3,1444.5 822.9,1445.7 823.6,1446.9 824.4,1448.5 825.2,1450.1 826,1451.7 826.8,1453.3 827.6,1455 828.4,1456.6 829.2,1458.3 830,1459.9 830.8,1461.4 831.6,1463 832.4,1464.5 833.2,1465.9 834,1467.2 834.8,1468.5 835.6,1469.6 836.4,1470.7 837.2,1471.7 838,1472.7 838.8,1473.8 839.6,1474.8 840.4,1475.8 841.2,1476.8 842,1477.8 842.8,1478.7 843.6,1479.5 844.4,1480.3 845.2,1481 846,1481.6 846.8,1482.1 847.6,1482.4 848.4,1482.6 849.2,1482.7 850,1482.7 850.8,1482.5 851.6,1482.3 852.4,1482 853.2,1481.7 854,1481.3 854.8,1480.8 855.6,1480.3 856.4,1479.8 857.2,1479.2 858,1478.7 858.8,1478.1 859.6,1477.5 860.4,1477 861.2,1476.4 862,1475.9 863,1475.3 863.9,1474.6 864.9,1473.9 865.9,1473.2 866.8,1472.5 867.8,1471.7 868.8,1470.9 869.7,1470.1 870.7,1469.3 871.6,1468.5 872.6,1467.8 873.6,1467 874.5,1466.2 875.5,1465.5 876.4,1464.8 877.4,1464.2 878.8,1463.2 880.3,1462.2 881.7,1461.2 883.2,1460.2 884.6,1459.2 886.1,1458.2 887.5,1457.2 888.9,1456.3 890.4,1455.4 891.8,1454.5 893.3,1453.7 894.7,1453 896.2,1452.3 897.6,1451.8 899,1451.3 900.5,1450.9 902.9,1450.3 905.3,1449.8 907.7,1449.3 910.1,1448.8 912.5,1448.4 914.9,1448 917.3,1447.6 919.7,1447.2 922.1,1446.9 924.5,1446.6 926.9,1446.3 929.3,1446.1 931.7,1445.9 934.1,1445.7 936.5,1445.5 938.9,1445.4 941.3,1445.3 943.7,1445.1 946.2,1445 948.6,1444.9 951,1444.8 953.4,1444.7 955.8,1444.6 958.2,1444.5 960.6,1444.4 963,1444.3 965.4,1444.2 967.8,1444.2 970.2,1444.1 972.6,1444.1 975,1444.1 977.4,1444.1" fill="none" stroke="#8000FF" stroke-width="3" stroke-linejoin="round" stroke-dasharray="15 16" clip-path="url(#c140035939852432)"/>
<g clip-path="url(#c140035939852432)">
<rect x="201.7" y="1067.5" width="13" height="13" fill="#808000"/>
<rect x="278.6" y="1009" width="13" height="13" fill="#808000"/>
<rect x="355.5" y="1004.8" width="13" height="13" fill="#808000"/>
<rect x="432.5" y="1064.9" width="13" height="13" fill="#808000"/>
<rect x="509.4" y="1166.7" width="13" height="13" fill="#808000"/>
<rect x="586.3" y="1265.8" width="13" height="13" fill="#808000"/>
<rect x="663.2" y="1339.4" width="13" height="13" fill="#808000"/>
<rect x="740.1" y="1380.7" width="13" height="13" fill="#808000"/>
<rect x="817.1" y="1438.1" width="13" height="13" fill="#808000"/>
<rect x="894" y="1432.4" width="13" height="13" fill="#808000"/>
<rect x="970.9" y="1432.4" width="13" height="13" fill="#808000"/>
</g>
<g clip-path="url(#c140035939852432)">
<circle cx="208.2" cy="1063.5" r="7.5" fill="#FF8000"/>
<circle cx="285.1" cy="1006.1" r="7.5" fill="#FF8000"/>
<circle cx="362" cy="1007.4" r="7.5" fill="#FF8000"/>
<circle cx="439" cy="1068.8" r="7.5" fill="#FF8000"/>
<circle cx="515.9" cy="1172.1" r="7.5" fill="#FF8000"/>
<circle cx="592.8" cy="1267.6" r="7.5" fill="#FF8000"/>
<circle cx="669.7" cy="1336.8" r="7.5" fill="#FF8000"/>
<circle cx="746.6" cy="1377.8" r="7.5" fill="#FF8000"/>
<circle cx="823.6" cy="1444.1" r="7.5" fill="#FF8000"/>
<circle cx="900.5" cy="1442.8" r="7.5" fill="#FF8000"/>
<circle cx="977.4" cy="1442" r="7.5" fill="#FF8000"/>
</g>
<g clip-path="url(#c140035939852432)">
<path d="M208.2 1007.8L216.4 1022.8L199.9 1022.8Z" fill="#8000FF"/>
<path d="M285.1 966.8L293.4 981.8L276.9 981.8Z" fill="#8000FF"/>
<path d="M362 979.1L370.3 994.1L353.8 994.1Z" fill="#8000FF"/>
<path d="M439 1048.5L447.2 1063.5L430.7 1063.5Z" fill="#8000FF"/>
<path d="M515.9 1153.2L524.1 1168.2L507.6 1168.2Z" fill="#8000FF"/>
<path d="M592.8 1251.8L601 1266.8L584.5 1266.8Z" fill="#8000FF"/>
<path d="M669.7 1316.8L678 1331.8L661.5 1331.8Z" fill="#8000FF"/>
<path d="M746.6 1356.5L754.9 1371.5L738.4 1371.5Z" fill="#8000FF"/>
<path d="M823.6 1437.6L831.8 1452.6L815.3 1452.6Z" fill="#8000FF"/>
<path d="M900.5 1441.6L908.7 1456.6L892.2 1456.6Z" fill="#8000FF"/>
<path d="M977.4 1434.8L985.7 1449.8L969.2 1449.8Z" fill="#8000FF"/>
</g>
<line x1="728" y1="956.5" x2="807" y2="956.5" stroke="#808000" stroke-width="3" stroke-dasharray="15 16"/>
<rect x="761" y="950" width="13" height="13" fill="#808000"/>
<text transform="scale(0.93 1)" x="905.2 926.4 947.6 965 989.9" y="969.7" font-size="40" text-anchor="middle" font-family='"Liberation Serif", "Noto Serif CJK SC", serif'>a=0.2</text>
<line x1="728" y1="1003.9" x2="807" y2="1003.9" stroke="#FF8000" stroke-width="3" stroke-dasharray="15 16"/>
<circle cx="767.5" cy="1003.9" r="7.5" fill="#FF8000"/>
<text transform="scale(0.93 1)" x="905.2 926.4 947.6 965 989.9" y="1017.1" font-size="40" text-anchor="middle" font-family='"Liberation Serif", "Noto Serif CJK SC", serif'>a=0.3</text>
<line x1="728" y1="1050.3" x2="807" y2="1050.3" stroke="#8000FF" stroke-width="3" stroke-dasharray="15 16"/>
<path d="M767.5 1041L775.8 1056L759.2 1056Z" fill="#8000FF"/>
<text transform="scale(0.93 1)" x="905.2 926.4 947.6 965 989.9" y="1063.5" font-size="40" text-anchor="middle" font-family='"Liberation Serif", "Noto Serif CJK SC", serif'>a=0.5</text>
<path d="M1305,1200.9 1306.8,1197.7 1308.7,1194.5 1310.5,1191.4 1312.4,1188.2 1314.2,1185.1 1316.1,1181.9 1317.9,1178.7 1319.7,1175.6 1321.6,1172.4 1323.4,1169.2 1325.3,1166.1 1327.1,1162.9 1328.9,1159.8 1330.8,1156.6 1332.6,1153.4 1334.5,1150.3 1336.3,1147.1 1338.2,1143.9 1340,1140.8 1341.8,1137.6 1343.7,1134.4 1345.5,1131.2 1347.4,1128 1349.2,1124.8 1351.1,1121.7 1352.9,1118.5 1354.7,1115.3 1356.6,1112.2 1358.4,1109 1360.3,1105.9 1362.1,1102.8 1364,1099.7 1365.8,1096.6 1367.6,1093.5 1369.5,1090.3 1371.3,1087.2 1373.2,1084.1 1375,1081 1376.8,1077.9 1378.7,1074.9 1380.5,1071.8 1382.4,1068.8 1384.2,1065.7 1386.1,1062.7 1387.9,1059.8 1389.7,1056.8 1391.6,1054 1393.4,1051.1 1395.3,1048.3 1397.1,1045.4 1399,1042.6 1400.8,1039.8 1402.6,1037 1404.5,1034.2 1406.3,1031.5 1408.2,1028.8 1410,1026.1 1411.8,1023.4 1413.7,1020.8 1415.5,1018.3 1417.4,1015.8 1419.2,1013.3 1421.1,1010.9 1422.9,1008.6 1424.7,1006.3 1426.6,1004 1428.4,1001.7 1430.3,999.5 1432.1,997.2 1434,995 1435.8,992.8 1437.6,990.7 1439.5,988.6 1441.3,986.6 1443.2,984.7 1445,982.8 1446.8,981 1448.7,979.3 1450.5,977.7 1452.4,976.2 1454.2,974.8 1456.1,973.4 1457.9,972 1459.7,970.7 1461.6,969.4 1463.4,968.2 1465.3,967 1467.1,965.8 1469,964.7 1470.8,963.6 1472.6,962.6 1474.5,961.6 1476.3,960.6 1478.2,959.7 1480,958.8 1481.8,958 1483.7,957.2 1485.5,956.3 1487.4,955.4 1489.2,954.6 1491.1,953.7 1492.9,952.9 1494.7,952.1 1496.6,951.3 1498.4,950.6 1500.3,949.9 1502.1,949.3 1504,948.8 1505.8,948.4 1507.6,948.1 1509.5,947.9 1511.3,947.9 1513.2,947.9 1515,948 1516.9,948.1 1518.7,948.2 1520.5,948.4 1522.4,948.7 1524.2,948.9 1526.1,949.2 1527.9,949.6 1529.7,949.9 1531.6,950.3 1533.4,950.7 1535.3,951.1 1537.1,951.5 1539,951.9 1540.8,952.3 1542.6,952.8 1544.5,953.4 1546.3,954.1 1548.2,954.8 1550,955.7 1551.9,956.6 1553.7,957.5 1555.5,958.6 1557.4,959.6 1559.2,960.8 1561.1,961.9 1562.9,963.1 1564.7,964.3 1566.6,965.6 1568.4,966.8 1570.3,968.1 1572.1,969.4 1574,970.8 1575.8,972.3 1577.6,973.8 1579.5,975.4 1581.3,977.1 1583.2,978.9 1585,980.6 1586.9,982.5 1588.7,984.4 1590.5,986.3 1592.4,988.3 1594.2,990.3 1596.1,992.3 1597.9,994.4 1599.8,996.4 1601.6,998.6 1603.4,1000.8 1605.3,1003 1607.1,1005.4 1609,1007.8 1610.8,1010.2 1612.6,1012.7 1614.5,1015.3 1616.3,1017.8 1618.2,1020.5 1620,1023.2 1621.9,1025.9 1623.7,1028.6 1625.5,1031.4 1627.4,1034.1 1629.2,1036.9 1631.1,1039.8 1632.9,1042.7 1634.8,1045.6 1636.6,1048.6 1638.4,1051.7 1640.3,1054.8 1642.1,1057.9 1644,1061.1 1645.8,1064.3 1647.6,1067.5 1649.5,1070.7 1651.3,1074 1653.2,1077.3 1655,1080.6 1656.9,1083.8 1658.7,1087.1 1660.5,1090.4 1662.4,1093.7 1664.2,1097.1 1666.1,1100.5 1667.9,1103.9 1669.8,1107.3 1671.6,1110.8 1673.4,1114.2 1675.3,1117.7 1677.1,1121.2 1679,1124.7 1680.8,1128.2 1682.6,1131.7 1684.5,1135.2 1686.3,1138.7 1688.2,1142.2 1690,1145.7 1691.9,1149.3 1693.7,1152.9 1695.5,1156.6 1697.4,1160.3 1699.2,1164 1701.1,1167.7 1702.9,1171.3 1704.8,1175 1706.6,1178.6 1708.4,1182.2 1710.3,1185.8 1712.1,1189.3 1714,1192.7 1715.8,1196 1717.7,1199.3 1719.5,1202.4 1721.3,1205.5 1723.2,1208.6 1725,1211.5 1726.9,1214.5 1728.7,1217.4 1730.5,1220.3 1732.4,1223.1 1734.2,1225.9 1736.1,1228.7 1737.9,1231.5 1739.8,1234.3 1741.6,1237.1 1743.4,1239.8 1745.3,1242.6 1747.1,1245.4 1749,1248.2 1750.8,1251 1752.7,1253.8 1754.5,1256.6 1756.3,1259.3 1758.2,1262.1 1760,1264.9 1761.9,1267.6 1763.7,1270.3 1765.5,1273 1767.4,1275.7 1769.2,1278.4 1771.1,1281 1772.9,1283.6 1774.8,1286.2 1776.6,1288.7 1778.4,1291.2 1780.3,1293.7 1782.1,1296.3 1784,1298.8 1785.8,1301.2 1787.7,1303.7 1789.5,1306.1 1791.3,1308.6 1793.2,1310.9 1795,1313.3 1796.9,1315.6 1798.7,1317.9 1800.5,1320.1 1802.4,1322.2 1804.2,1324.3 1806.1,1326.4 1807.9,1328.4 1809.8,1330.4 1811.6,1332.4 1813.4,1334.4 1815.3,1336.4 1817.1,1338.4 1819,1340.3 1820.8,1342.2 1822.7,1344 1824.5,1345.8 1826.3,1347.4 1828.2,1349 1830,1350.5 1831.9,1351.9 1833.7,1353.2 1835.6,1354.3 1836.8,1355 1838,1355.6 1839.2,1356.2 1840.5,1356.8 1841.7,1357.4 1842.9,1357.9 1844.1,1358.4 1845.4,1358.9 1846.6,1359.4 1847.8,1359.9 1849.1,1360.3 1850.3,1360.8 1851.5,1361.3 1852.7,1361.8 1854,1362.3 1855.2,1362.8 1856.1,1363.1 1856.9,1363.5 1857.8,1363.8 1858.6,1364.1 1859.5,1364.4 1860.4,1364.7 1861.2,1365 1862.1,1365.3 1862.9,1365.6 1863.8,1365.9 1864.7,1366.3 1865.5,1366.7 1866.4,1367.1 1867.2,1367.6 1868.1,1368.1 1869,1368.7 1869.4,1369 1869.9,1369.5 1870.4,1369.9 1870.9,1370.5 1871.4,1371 1871.9,1371.6 1872.4,1372.3 1872.9,1373 1873.4,1373.8 1873.9,1374.6 1874.4,1375.4 1874.8,1376.3 1875.3,1377.2 1875.8,1378.2 1876.3,1379.2 1876.8,1380.2 1877.1,1380.7 1877.3,1381.3 1877.6,1381.9 1877.8,1382.5 1878,1383.2 1878.3,1383.9 1878.5,1384.6 1878.8,1385.4 1879,1386.2 1879.3,1387 1879.5,1387.9 1879.8,1388.9 1880,1389.9 1880.3,1390.9 1880.5,1392 1880.7,1393.2 1881,1394.4 1881.2,1395.9 1881.5,1397.6 1881.7,1399.5 1882,1401.5 1882.2,1403.7 1882.5,1405.9 1882.7,1408.2 1883,1410.6 1883.2,1413.1 1883.4,1415.6 1883.7,1418 1883.9,1420.5 1884.2,1422.9 1884.4,1425.3 1884.7,1427.6 1885,1430.4 1885.3,1433.4 1885.6,1436.5 1885.9,1439.6 1886.2,1442.8 1886.5,1446 1886.8,1449.2 1887.1,1452.4 1887.4,1455.6 1887.7,1458.6 1888.1,1461.6 1888.4,1464.4 1888.7,1467.1 1889,1469.7 1889.3,1472 1889.6,1474.1 1889.9,1476.1 1890.2,1478.2 1890.5,1480.3 1890.8,1482.4 1891.1,1484.5 1891.4,1486.5 1891.7,1488.4 1892,1490.2 1892.4,1492 1892.7,1493.5 1893,1494.9 1893.3,1496.1 1893.6,1497.1 1893.9,1497.8 1894.2,1498.2 1894.5,1498.4 1894.9,1498.1 1895.2,1497.3 1895.6,1496 1896,1494.2 1896.3,1492.1 1896.7,1489.7 1897.1,1487 1897.4,1484.1 1897.8,1481.1 1898.2,1477.9 1898.6,1474.8 1898.9,1471.7 1899.3,1468.6 1899.7,1465.7 1900,1463 1900.4,1460.6 1900.8,1458.1 1901.1,1455.6 1901.5,1452.9 1901.9,1450.2 1902.2,1447.4 1902.6,1444.6 1903,1441.8 1903.3,1439.1 1903.7,1436.5 1904.1,1434 1904.4,1431.7 1904.8,1429.7 1905.2,1427.9 1905.6,1426.3 1905.9,1425.1 1906.3,1424.3 1906.9,1423.3 1907.5,1422.4 1908.1,1421.5 1908.7,1420.7 1909.4,1419.9 1910,1419.2 1910.6,1418.6 1911.2,1418 1911.8,1417.5 1912.4,1417 1913,1416.6 1913.7,1416.3 1914.3,1415.9 1914.9,1415.7 1915.5,1415.4 1916.1,1415.2 1916.6,1415.1 1917.1,1414.9 1917.6,1414.8 1918.1,1414.7 1918.6,1414.5 1919.1,1414.4 1919.6,1414.3 1920,1414.2 1920.5,1414.1 1921,1414 1921.5,1414 1922,1413.9 1922.5,1413.9 1923,1413.8 1923.5,1413.8 1924,1413.8 1925.8,1413.9 1927.7,1414 1929.5,1414.3 1931.3,1414.6 1933.2,1415 1935,1415.5 1936.9,1416 1938.7,1416.6 1940.6,1417.2 1942.4,1417.8 1944.2,1418.4 1946.1,1419.1 1947.9,1419.7 1949.8,1420.3 1951.6,1420.8 1953.4,1421.3 1957.1,1422.2 1960.8,1423.2 1964.5,1424.1 1968.2,1425.1 1971.9,1426 1975.6,1427 1979.2,1428 1982.9,1428.9 1986.6,1429.9 1990.3,1430.8 1994,1431.7 1997.7,1432.6 2001.3,1433.5 2005,1434.4 2008.7,1435.2 2012.4,1436.1 2016.1,1436.9 2019.8,1437.7 2023.5,1438.5 2027.1,1439.3 2030.8,1440 2034.5,1440.8 2038.2,1441.6 2041.9,1442.3 2045.6,1443 2049.2,1443.8 2052.9,1444.4 2056.6,1445.1 2060.3,1445.8 2064,1446.4 2067.7,1447 2071.3,1447.6 2072.6,1447.8 2073.8,1448 2075,1448.1 2076.3,1448.3 2077.5,1448.5 2078.7,1448.7 2079.9,1448.8 2081.2,1449 2082.4,1449.2 2083.6,1449.3 2084.9,1449.5 2086.1,1449.6 2087.3,1449.8 2088.5,1449.9 2089.8,1450.1 2091,1450.2" fill="none" stroke="#FF0000" stroke-width="3" stroke-linejoin="round" stroke-dasharray="15 16" clip-path="url(#c140035939853440)"/>
<path d="M1305,1274.1 1306.8,1271.4 1308.7,1268.7 1310.5,1266 1312.4,1263.3 1314.2,1260.6 1316.1,1258 1317.9,1255.3 1319.7,1252.6 1321.6,1249.9 1323.4,1247.2 1325.3,1244.6 1327.1,1241.9 1328.9,1239.2 1330.8,1236.6 1332.6,1233.9 1334.5,1231.2 1336.3,1228.6 1338.2,1225.9 1340,1223.2 1341.8,1220.6 1343.7,1217.9 1345.5,1215.2 1347.4,1212.6 1349.2,1209.9 1351.1,1207.3 1352.9,1204.6 1354.7,1202 1356.6,1199.4 1358.4,1196.8 1360.3,1194.2 1362.1,1191.7 1364,1189.1 1365.8,1186.6 1367.6,1184.1 1369.5,1181.6 1371.3,1179.2 1373.2,1176.7 1375,1174.3 1376.8,1171.8 1378.7,1169.4 1380.5,1167 1382.4,1164.6 1384.2,1162.2 1386.1,1159.8 1387.9,1157.4 1389.7,1155 1391.6,1152.7 1393.4,1150.3 1395.3,1147.9 1397.1,1145.4 1399,1143 1400.8,1140.5 1402.6,1138.1 1404.5,1135.6 1406.3,1133.2 1408.2,1130.7 1410,1128.3 1411.8,1126 1413.7,1123.6 1415.5,1121.3 1417.4,1119.1 1419.2,1116.9 1421.1,1114.8 1422.9,1112.8 1424.7,1110.9 1426.6,1108.9 1428.4,1107 1430.3,1105 1432.1,1103.2 1434,1101.3 1435.8,1099.5 1437.6,1097.7 1439.5,1096 1441.3,1094.3 1443.2,1092.7 1445,1091.1 1446.8,1089.6 1448.7,1088.1 1450.5,1086.8 1452.4,1085.5 1454.2,1084.3 1456.1,1083 1457.9,1081.8 1459.7,1080.6 1461.6,1079.4 1463.4,1078.2 1465.3,1077.1 1467.1,1076 1469,1075 1470.8,1074 1472.6,1073.2 1474.5,1072.3 1476.3,1071.6 1478.2,1070.9 1480,1070.4 1481.8,1069.9 1483.7,1069.5 1485.5,1069.1 1487.4,1068.8 1489.2,1068.4 1491.1,1068 1492.9,1067.7 1494.7,1067.4 1496.6,1067.1 1498.4,1066.8 1500.3,1066.6 1502.1,1066.4 1504,1066.2 1505.8,1066.1 1507.6,1066 1509.5,1065.9 1511.3,1065.9 1513.2,1065.9 1515,1066 1516.9,1066.3 1518.7,1066.5 1520.5,1066.9 1522.4,1067.3 1524.2,1067.8 1526.1,1068.3 1527.9,1068.9 1529.7,1069.5 1531.6,1070.1 1533.4,1070.8 1535.3,1071.4 1537.1,1072.1 1539,1072.8 1540.8,1073.6 1542.6,1074.3 1544.5,1075.3 1546.3,1076.3 1548.2,1077.4 1550,1078.7 1551.9,1080 1553.7,1081.4 1555.5,1082.8 1557.4,1084.4 1559.2,1085.9 1561.1,1087.5 1562.9,1089.1 1564.7,1090.8 1566.6,1092.4 1568.4,1094 1570.3,1095.6 1572.1,1097.2 1574,1098.9 1575.8,1100.6 1577.6,1102.3 1579.5,1104 1581.3,1105.8 1583.2,1107.6 1585,1109.5 1586.9,1111.4 1588.7,1113.3 1590.5,1115.3 1592.4,1117.3 1594.2,1119.4 1596.1,1121.5 1597.9,1123.6 1599.8,1125.8 1601.6,1128 1603.4,1130.4 1605.3,1132.8 1607.1,1135.4 1609,1137.9 1610.8,1140.6 1612.6,1143.3 1614.5,1146 1616.3,1148.8 1618.2,1151.6 1620,1154.4 1621.9,1157.3 1623.7,1160.1 1625.5,1162.9 1627.4,1165.7 1629.2,1168.5 1631.1,1171.3 1632.9,1174.1 1634.8,1176.9 1636.6,1179.7 1638.4,1182.6 1640.3,1185.4 1642.1,1188.3 1644,1191.2 1645.8,1194.1 1647.6,1197 1649.5,1199.9 1651.3,1202.7 1653.2,1205.6 1655,1208.5 1656.9,1211.4 1658.7,1214.2 1660.5,1217.1 1662.4,1219.9 1664.2,1222.8 1666.1,1225.7 1667.9,1228.6 1669.8,1231.5 1671.6,1234.3 1673.4,1237.2 1675.3,1240.1 1677.1,1242.9 1679,1245.8 1680.8,1248.6 1682.6,1251.4 1684.5,1254.1 1686.3,1256.9 1688.2,1259.6 1690,1262.2 1691.9,1264.9 1693.7,1267.6 1695.5,1270.2 1697.4,1272.8 1699.2,1275.4 1701.1,1278 1702.9,1280.6 1704.8,1283.2 1706.6,1285.7 1708.4,1288.2 1710.3,1290.7 1712.1,1293.2 1714,1295.6 1715.8,1298 1717.7,1300.5 1719.5,1302.8 1721.3,1305.2 1723.2,1307.6 1725,1309.9 1726.9,1312.2 1728.7,1314.5 1730.5,1316.8 1732.4,1319.1 1734.2,1321.3 1736.1,1323.5 1737.9,1325.7 1739.8,1327.9 1741.6,1330.1 1743.4,1332.2 1745.3,1334.4 1747.1,1336.5 1749,1338.6 1750.8,1340.7 1752.7,1342.8 1754.5,1344.9 1756.3,1347 1758.2,1349.1 1760,1351.2 1761.9,1353.2 1763.7,1355.2 1765.5,1357.2 1767.4,1359.1 1769.2,1361 1771.1,1362.8 1772.9,1364.5 1774.8,1366.2 1776.6,1367.9 1778.4,1369.4 1780.3,1370.9 1782.1,1372.4 1784,1373.9 1785.8,1375.3 1787.7,1376.7 1789.5,1378.1 1791.3,1379.4 1793.2,1380.7 1795,1382 1796.9,1383.2 1798.7,1384.4 1800.5,1385.6 1802.4,1386.8 1804.2,1388 1806.1,1389.1 1807.9,1390.2 1809.8,1391.2 1811.6,1392.2 1813.4,1393.2 1815.3,1394.1 1817.1,1395 1819,1395.9 1820.8,1396.8 1822.7,1397.7 1824.5,1398.6 1826.3,1399.6 1828.2,1400.5 1830,1401.5 1831.9,1402.6 1833.7,1403.7 1835.6,1404.9 1836.7,1405.6 1837.8,1406.4 1838.9,1407.2 1840,1408 1841.1,1408.9 1842.2,1409.7 1843.3,1410.6 1844.4,1411.5 1845.5,1412.5 1846.6,1413.4 1847.7,1414.4 1848.8,1415.4 1849.9,1416.4 1851,1417.4 1852.1,1418.4 1853.2,1419.5 1854.1,1420.3 1855,1421.1 1855.8,1421.9 1856.7,1422.7 1857.5,1423.6 1858.4,1424.4 1859.3,1425.3 1860.1,1426.2 1861,1427.1 1861.8,1428.1 1862.7,1429.1 1863.6,1430.1 1864.4,1431.2 1865.3,1432.3 1866.1,1433.4 1867,1434.6 1867.8,1435.8 1868.6,1437.1 1869.4,1438.4 1870.2,1439.8 1871,1441.2 1871.8,1442.7 1872.6,1444.3 1873.4,1445.9 1874.2,1447.6 1875,1449.3 1875.8,1451.1 1876.6,1452.9 1877.4,1454.7 1878.2,1456.6 1879,1458.6 1879.8,1460.6 1880.3,1462 1880.9,1463.6 1881.4,1465.3 1882,1467.1 1882.5,1469 1883.1,1470.9 1883.6,1472.8 1884.2,1474.8 1884.7,1476.7 1885.3,1478.6 1885.8,1480.5 1886.4,1482.3 1886.9,1484 1887.5,1485.5 1888.1,1487 1888.6,1488.3 1889,1489.1 1889.3,1489.9 1889.7,1490.8 1890.1,1491.7 1890.4,1492.5 1890.8,1493.4 1891.2,1494.2 1891.6,1494.9 1891.9,1495.7 1892.3,1496.3 1892.7,1496.9 1893,1497.4 1893.4,1497.8 1893.8,1498.1 1894.1,1498.3 1894.5,1498.4 1894.9,1498.3 1895.2,1498.1 1895.6,1497.8 1896,1497.3 1896.3,1496.8 1896.7,1496.1 1897.1,1495.4 1897.4,1494.7 1897.8,1493.9 1898.2,1493 1898.6,1492.2 1898.9,1491.3 1899.3,1490.5 1899.7,1489.7 1900,1489 1900.4,1488.3 1900.9,1487.4 1901.4,1486.5 1901.9,1485.5 1902.4,1484.5 1902.9,1483.6 1903.3,1482.6 1903.8,1481.6 1904.3,1480.6 1904.8,1479.6 1905.3,1478.7 1905.8,1477.7 1906.3,1476.8 1906.8,1475.9 1907.3,1475.1 1907.8,1474.3 1908.3,1473.5 1909.4,1471.8 1910.5,1470.2 1911.6,1468.5 1912.7,1466.8 1913.8,1465.1 1914.9,1463.5 1916,1461.9 1917.1,1460.4 1918.2,1459 1919.3,1457.6 1920.4,1456.4 1921.5,1455.4 1922.6,1454.5 1923.7,1453.8 1924.8,1453.2 1925.9,1452.9 1927.7,1452.5 1929.4,1452.2 1931.1,1451.8 1932.8,1451.6 1934.5,1451.3 1936.3,1451 1938,1450.8 1939.7,1450.6 1941.4,1450.4 1943.1,1450.3 1944.9,1450.1 1946.6,1450 1948.3,1449.9 1950,1449.9 1951.7,1449.8 1953.4,1449.8 1957.1,1449.9 1960.8,1450 1964.5,1450.2 1968.2,1450.4 1971.9,1450.8 1975.6,1451.1 1979.2,1451.5 1982.9,1452 1986.6,1452.4 1990.3,1452.9 1994,1453.4 1997.7,1453.9 2001.3,1454.5 2005,1455 2008.7,1455.4 2012.4,1455.9 2016.1,1456.4 2019.8,1456.9 2023.5,1457.5 2027.1,1458.1 2030.8,1458.8 2034.5,1459.5 2038.2,1460.1 2041.9,1460.8 2045.6,1461.5 2049.2,1462.1 2052.9,1462.7 2056.6,1463.2 2060.3,1463.7 2064,1464.1 2067.7,1464.4 2071.3,1464.6 2072.6,1464.7 2073.8,1464.7 2075,1464.8 2076.3,1464.8 2077.5,1464.9 2078.7,1464.9 2079.9,1465 2081.2,1465 2082.4,1465.1 2083.6,1465.1 2084.9,1465.1 2086.1,1465.1 2087.3,1465.2 2088.5,1465.2 2089.8,1465.2 2091,1465.2" fill="none" stroke="#000000" stroke-width="3" stroke-linejoin="round" stroke-dasharray="15 16" clip-path="url(#c140035939853440)"/>
<path d="M1305,1323.1 1306.8,1320.9 1308.7,1318.7 1310.5,1316.4 1312.4,1314.2 1314.2,1312 1316.1,1309.8 1317.9,1307.6 1319.7,1305.4 1321.6,1303.2 1323.4,1301 1325.3,1298.8 1327.1,1296.6 1328.9,1294.4 1330.8,1292.3 1332.6,1290.1 1334.5,1287.9 1336.3,1285.7 1338.2,1283.6 1340,1281.4 1341.8,1279.2 1343.7,1277 1345.5,1274.8 1347.4,1272.7 1349.2,1270.5 1351.1,1268.3 1352.9,1266.2 1354.7,1264.1 1356.6,1262 1358.4,1259.9 1360.3,1257.8 1362.1,1255.7 1364,1253.7 1365.8,1251.7 1367.6,1249.7 1369.5,1247.7 1371.3,1245.7 1373.2,1243.7 1375,1241.7 1376.8,1239.8 1378.7,1237.8 1380.5,1235.9 1382.4,1234 1384.2,1232.1 1386.1,1230.3 1387.9,1228.5 1389.7,1226.7 1391.6,1224.9 1393.4,1223.1 1395.3,1221.4 1397.1,1219.7 1399,1217.9 1400.8,1216.2 1402.6,1214.5 1404.5,1212.7 1406.3,1211.1 1408.2,1209.4 1410,1207.8 1411.8,1206.2 1413.7,1204.6 1415.5,1203.2 1417.4,1201.7 1419.2,1200.4 1421.1,1199.1 1422.9,1197.8 1424.7,1196.7 1426.6,1195.5 1428.4,1194.3 1430.3,1193.2 1432.1,1192 1434,1190.9 1435.8,1189.9 1437.6,1188.9 1439.5,1187.9 1441.3,1186.9 1443.2,1186.1 1445,1185.2 1446.8,1184.5 1448.7,1183.8 1450.5,1183.2 1452.4,1182.7 1454.2,1182.2 1456.1,1181.7 1457.9,1181.2 1459.7,1180.7 1461.6,1180.3 1463.4,1179.8 1465.3,1179.4 1467.1,1179 1469,1178.7 1470.8,1178.4 1472.6,1178.1 1474.5,1177.8 1476.3,1177.7 1478.2,1177.5 1480,1177.4 1481.8,1177.4 1483.7,1177.4 1485.5,1177.6 1487.4,1177.8 1489.2,1178 1491.1,1178.4 1492.9,1178.8 1494.7,1179.2 1496.6,1179.7 1498.4,1180.3 1500.3,1180.8 1502.1,1181.5 1504,1182.1 1505.8,1182.7 1507.6,1183.4 1509.5,1184 1511.3,1184.7 1513.2,1185.4 1515,1186.1 1516.9,1187 1518.7,1187.9 1520.5,1188.9 1522.4,1190 1524.2,1191.1 1526.1,1192.2 1527.9,1193.5 1529.7,1194.7 1531.6,1196 1533.4,1197.3 1535.3,1198.7 1537.1,1200.1 1539,1201.5 1540.8,1202.9 1542.6,1204.4 1544.5,1205.9 1546.3,1207.6 1548.2,1209.3 1550,1211.1 1551.9,1213 1553.7,1214.9 1555.5,1216.8 1557.4,1218.8 1559.2,1220.8 1561.1,1222.9 1562.9,1225 1564.7,1227 1566.6,1229.1 1568.4,1231.2 1570.3,1233.3 1572.1,1235.3 1574,1237.4 1575.8,1239.6 1577.6,1241.7 1579.5,1243.9 1581.3,1246.1 1583.2,1248.4 1585,1250.6 1586.9,1252.9 1588.7,1255.2 1590.5,1257.4 1592.4,1259.7 1594.2,1262 1596.1,1264.3 1597.9,1266.6 1599.8,1268.9 1601.6,1271.2 1603.4,1273.5 1605.3,1275.8 1607.1,1278.1 1609,1280.5 1610.8,1282.8 1612.6,1285.2 1614.5,1287.6 1616.3,1289.9 1618.2,1292.3 1620,1294.6 1621.9,1296.9 1623.7,1299.3 1625.5,1301.6 1627.4,1303.9 1629.2,1306.1 1631.1,1308.4 1632.9,1310.6 1634.8,1312.9 1636.6,1315.1 1638.4,1317.3 1640.3,1319.6 1642.1,1321.8 1644,1324 1645.8,1326.2 1647.6,1328.4 1649.5,1330.5 1651.3,1332.7 1653.2,1334.8 1655,1336.8 1656.9,1338.9 1658.7,1340.9 1660.5,1342.9 1662.4,1344.9 1664.2,1346.9 1666.1,1348.9 1667.9,1350.8 1669.8,1352.7 1671.6,1354.6 1673.4,1356.5 1675.3,1358.4 1677.1,1360.3 1679,1362.1 1680.8,1363.9 1682.6,1365.7 1684.5,1367.4 1686.3,1369.2 1688.2,1370.9 1690,1372.6 1691.9,1374.3 1693.7,1376 1695.5,1377.6 1697.4,1379.3 1699.2,1380.9 1701.1,1382.6 1702.9,1384.2 1704.8,1385.7 1706.6,1387.3 1708.4,1388.8 1710.3,1390.3 1712.1,1391.7 1714,1393.1 1715.8,1394.5 1717.7,1395.8 1719.5,1397.1 1721.3,1398.3 1723.2,1399.5 1725,1400.7 1726.9,1401.8 1728.7,1403 1730.5,1404.1 1732.4,1405.2 1734.2,1406.2 1736.1,1407.3 1737.9,1408.3 1739.8,1409.3 1741.6,1410.4 1743.4,1411.4 1745.3,1412.4 1747.1,1413.4 1749,1414.4 1750.8,1415.4 1752.7,1416.4 1754.5,1417.4 1756.3,1418.4 1758.2,1419.4 1760,1420.4 1761.9,1421.3 1763.7,1422.3 1765.5,1423.2 1767.4,1424.1 1769.2,1425 1771.1,1425.8 1772.9,1426.6 1774.8,1427.4 1776.6,1428.2 1778.4,1428.9 1780.3,1429.6 1782.1,1430.2 1784,1430.8 1785.8,1431.4 1787.7,1432 1789.5,1432.6 1791.3,1433.2 1793.2,1433.7 1795,1434.3 1796.9,1434.8 1798.7,1435.4 1800.5,1435.9 1802.4,1436.5 1804.2,1437.1 1806.1,1437.7 1807.9,1438.3 1809.8,1438.9 1811.6,1439.4 1813.4,1440 1815.3,1440.5 1817.1,1441.1 1819,1441.6 1820.8,1442.2 1822.7,1442.7 1824.5,1443.3 1826.3,1444 1828.2,1444.6 1830,1445.3 1831.9,1446 1833.7,1446.8 1835.6,1447.6 1837.4,1448.5 1839.2,1449.5 1841.1,1450.5 1842.9,1451.6 1844.8,1452.8 1846.6,1454.1 1848.4,1455.4 1850.3,1456.7 1852.1,1458.1 1854,1459.5 1855.8,1461 1857.7,1462.5 1859.5,1464 1861.3,1465.4 1863.2,1466.9 1865,1468.4 1866.3,1469.4 1867.5,1470.5 1868.7,1471.5 1869.9,1472.6 1871.2,1473.6 1872.4,1474.7 1873.6,1475.8 1874.8,1476.9 1876.1,1478.1 1877.3,1479.2 1878.5,1480.4 1879.8,1481.6 1881,1482.9 1882.2,1484.1 1883.4,1485.4 1884.7,1486.7 1885.3,1487.4 1885.9,1488.2 1886.5,1489 1887.1,1490 1887.7,1490.9 1888.4,1491.9 1889,1492.9 1889.6,1493.8 1890.2,1494.7 1890.8,1495.6 1891.4,1496.4 1892,1497.1 1892.7,1497.6 1893.3,1498 1893.9,1498.3 1894.5,1498.4 1895.1,1498.4 1895.7,1498.2 1896.3,1498 1897,1497.8 1897.6,1497.4 1898.2,1497 1898.8,1496.6 1899.4,1496.2 1900,1495.7 1900.6,1495.2 1901.3,1494.7 1901.9,1494.2 1902.5,1493.7 1903.1,1493.2 1903.7,1492.8 1904.3,1492.3 1905.1,1491.8 1905.8,1491.3 1906.5,1490.8 1907.3,1490.2 1908,1489.7 1908.7,1489.1 1909.5,1488.6 1910.2,1488 1911,1487.5 1911.7,1486.9 1912.4,1486.4 1913.2,1485.9 1913.9,1485.4 1914.6,1484.9 1915.4,1484.5 1916.1,1484 1917.2,1483.4 1918.3,1482.8 1919.4,1482.2 1920.5,1481.6 1921.6,1481 1922.7,1480.5 1923.9,1479.9 1925,1479.4 1926.1,1478.9 1927.2,1478.4 1928.3,1477.9 1929.4,1477.5 1930.5,1477.1 1931.6,1476.7 1932.7,1476.4 1933.8,1476.1 1935,1475.9 1936.3,1475.6 1937.5,1475.3 1938.7,1475 1939.9,1474.8 1941.2,1474.5 1942.4,1474.3 1943.6,1474 1944.9,1473.8 1946.1,1473.7 1947.3,1473.5 1948.5,1473.4 1949.8,1473.3 1951,1473.2 1952.2,1473.1 1953.4,1473.1 1957.1,1473.1 1960.8,1473.1 1964.5,1473.2 1968.2,1473.3 1971.9,1473.4 1975.6,1473.5 1979.2,1473.6 1982.9,1473.7 1986.6,1473.9 1990.3,1474 1994,1474.2 1997.7,1474.3 2001.3,1474.5 2005,1474.6 2008.7,1474.8 2012.4,1474.9 2016.1,1475.1 2019.8,1475.2 2023.5,1475.4 2027.1,1475.6 2030.8,1475.8 2034.5,1476.1 2038.2,1476.3 2041.9,1476.5 2045.6,1476.7 2049.2,1476.9 2052.9,1477.1 2056.6,1477.2 2060.3,1477.4 2064,1477.5 2067.7,1477.5 2071.3,1477.6 2072.6,1477.6 2073.8,1477.6 2075,1477.6 2076.3,1477.6 2077.5,1477.6 2078.7,1477.6 2079.9,1477.6 2081.2,1477.6 2082.4,1477.6 2083.6,1477.6 2084.9,1477.6 2086.1,1477.6 2087.3,1477.6 2088.5,1477.6 2089.8,1477.6 2091,1477.6" fill="none" stroke="#0000FF" stroke-width="3" stroke-linejoin="round" stroke-dasharray="15 16" clip-path="url(#c140035939853440)"/>
<g clip-path="url(#c140035939853440)">
<rect x="1298.2" y="1194.1" width="13.5" height="13.5" fill="#FF0000"/>
<rect x="1357.2" y="1092.9" width="13.5" height="13.5" fill="#FF0000"/>
<rect x="1416.2" y="1001.8" width="13.5" height="13.5" fill="#FF0000"/>
<rect x="1475.1" y="951.2" width="13.5" height="13.5" fill="#FF0000"/>
<rect x="1534" y="945.6" width="13.5" height="13.5" fill="#FF0000"/>
<rect x="1593" y="989.7" width="13.5" height="13.5" fill="#FF0000"/>
<rect x="1652" y="1080.4" width="13.5" height="13.5" fill="#FF0000"/>
<rect x="1710.9" y="1192.5" width="13.5" height="13.5" fill="#FF0000"/>
<rect x="1769.8" y="1282" width="13.5" height="13.5" fill="#FF0000"/>
<rect x="1828.8" y="1347.5" width="13.5" height="13.5" fill="#FF0000"/>
<rect x="1887.8" y="1491.7" width="13.5" height="13.5" fill="#FF0000"/>
<rect x="1946.7" y="1414.5" width="13.5" height="13.5" fill="#FF0000"/>
<rect x="2005.7" y="1429.3" width="13.5" height="13.5" fill="#FF0000"/>
<rect x="2064.6" y="1440.8" width="13.5" height="13.5" fill="#FF0000"/>
<rect x="2084.2" y="1443.5" width="13.5" height="13.5" fill="#FF0000"/>
</g>
<g clip-path="url(#c140035939853440)">
<circle cx="1305" cy="1274.1" r="7.5" fill="#000000"/>
<circle cx="1364" cy="1189.1" r="7.5" fill="#000000"/>
<circle cx="1422.9" cy="1112.8" r="7.5" fill="#000000"/>
<circle cx="1481.8" cy="1069.9" r="7.5" fill="#000000"/>
<circle cx="1540.8" cy="1073.6" r="7.5" fill="#000000"/>
<circle cx="1599.8" cy="1125.8" r="7.5" fill="#000000"/>
<circle cx="1658.7" cy="1214.2" r="7.5" fill="#000000"/>
<circle cx="1717.7" cy="1300.5" r="7.5" fill="#000000"/>
<circle cx="1776.6" cy="1367.9" r="7.5" fill="#000000"/>
<circle cx="1835.6" cy="1404.9" r="7.5" fill="#000000"/>
<circle cx="1894.5" cy="1498.4" r="7.5" fill="#000000"/>
<circle cx="1953.4" cy="1449.8" r="7.5" fill="#000000"/>
<circle cx="2012.4" cy="1455.9" r="7.5" fill="#000000"/>
<circle cx="2071.3" cy="1464.6" r="7.5" fill="#000000"/>
<circle cx="2091" cy="1465.2" r="7.5" fill="#000000"/>
</g>
<g clip-path="url(#c140035939853440)">
<path d="M1305 1313.8L1313.2 1328.8L1296.8 1328.8Z" fill="#0000FF"/>
<path d="M1364 1244.4L1372.2 1259.4L1355.7 1259.4Z" fill="#0000FF"/>
<path d="M1422.9 1188.5L1431.2 1203.5L1414.7 1203.5Z" fill="#0000FF"/>
<path d="M1481.8 1168.1L1490.1 1183.1L1473.6 1183.1Z" fill="#0000FF"/>
<path d="M1540.8 1193.6L1549 1208.6L1532.5 1208.6Z" fill="#0000FF"/>
<path d="M1599.8 1259.6L1608 1274.6L1591.5 1274.6Z" fill="#0000FF"/>
<path d="M1658.7 1331.6L1667 1346.6L1650.5 1346.6Z" fill="#0000FF"/>
<path d="M1717.7 1386.5L1725.9 1401.5L1709.4 1401.5Z" fill="#0000FF"/>
<path d="M1776.6 1418.9L1784.8 1433.9L1768.3 1433.9Z" fill="#0000FF"/>
<path d="M1835.6 1438.3L1843.8 1453.3L1827.3 1453.3Z" fill="#0000FF"/>
<path d="M1894.5 1489.1L1902.8 1504.1L1886.2 1504.1Z" fill="#0000FF"/>
<path d="M1953.4 1463.8L1961.7 1478.8L1945.2 1478.8Z" fill="#0000FF"/>
<path d="M2012.4 1465.6L2020.7 1480.6L2004.2 1480.6Z" fill="#0000FF"/>
<path d="M2071.3 1468.3L2079.6 1483.3L2063.1 1483.3Z" fill="#0000FF"/>
<path d="M2091 1468.3L2099.2 1483.3L2082.8 1483.3Z" fill="#0000FF"/>
</g>
<line x1="1880.7" y1="939.9" x2="1959.7" y2="939.9" stroke="#FF0000" stroke-width="3" stroke-dasharray="15 16"/>
<rect x="1913.5" y="933.1" width="13.5" height="13.5" fill="#FF0000"/>
<text transform="scale(0.93 1)" x="2146.2 2167.7 2189.2" y="954.1" font-size="41" text-anchor="middle" font-family='"Liberation Serif", "Noto Serif CJK SC", serif'>b=2</text>
<line x1="1880.7" y1="987.2" x2="1959.7" y2="987.2" stroke="#000000" stroke-width="3" stroke-dasharray="15 16"/>
<circle cx="1920.2" cy="987.2" r="7.5" fill="#000000"/>
<text transform="scale(0.93 1)" x="2146.2 2167.7 2189.2" y="1001.4" font-size="41" text-anchor="middle" font-family='"Liberation Serif", "Noto Serif CJK SC", serif'>b=4</text>
<line x1="1880.7" y1="1034.7" x2="1959.7" y2="1034.7" stroke="#0000FF" stroke-width="3" stroke-dasharray="15 16"/>
<path d="M1920.2 1025.4L1928.5 1040.4L1912 1040.4Z" fill="#0000FF"/>
<text transform="scale(0.93 1)" x="2146.2 2167.7 2189.2" y="1048.9" font-size="41" text-anchor="middle" font-family='"Liberation Serif", "Noto Serif CJK SC", serif'>b=6</text>
<path d="M190,1769.7 190.1,1769.7 190.2,1769.7 190.3,1769.7 190.4,1769.8 190.5,1769.8 190.7,1769.8 190.8,1769.9 190.9,1769.9 191,1770 191.1,1770.1 191.2,1770.1 191.3,1770.2 191.4,1770.3 191.5,1770.4 191.6,1770.6 191.7,1770.7 191.8,1771.5 191.9,1773.8 191.9,1777.3 192,1782 192,1787.5 192.1,1793.7 192.1,1800.5 192.2,1807.6 192.2,1815 192.3,1822.3 192.4,1829.5 192.4,1836.4 192.5,1842.7 192.5,1848.3 192.6,1853.1 192.6,1856.8 192.7,1862.8 192.8,1868.4 193,1873.6 193.1,1878.4 193.2,1882.8 193.3,1887 193.4,1891 193.5,1894.8 193.6,1898.4 193.7,1901.8 193.8,1905.2 193.9,1908.6 194,1911.9 194.2,1915.3 194.3,1918.8 194.4,1922.4 194.5,1927.9 194.7,1933.4 194.9,1938.8 195,1944.3 195.2,1949.7 195.4,1955 195.5,1960.2 195.7,1965.3 195.8,1970.3 196,1975.2 196.2,1979.9 196.3,1984.5 196.5,1988.8 196.7,1993 196.8,1996.9 197,2000.7 197.2,2005.8 197.5,2010.7 197.7,2015.4 198,2019.9 198.2,2024.2 198.4,2028.3 198.7,2032.3 198.9,2036.2 199.2,2040 199.4,2043.7 199.6,2047.3 199.9,2050.9 200.1,2054.5 200.4,2058.1 200.6,2061.6 200.8,2065.2 201.1,2068.9 201.3,2072.5 201.6,2076 201.8,2079.6 202,2083.1 202.3,2086.6 202.5,2090 202.8,2093.4 203,2096.7 203.2,2100 203.5,2103.2 203.7,2106.3 204,2109.4 204.2,2112.4 204.5,2115.3 204.7,2118.1 205.1,2122.8 205.5,2127.5 205.9,2132.1 206.4,2136.6 206.8,2141.1 207.2,2145.4 207.6,2149.6 208,2153.8 208.4,2157.8 208.8,2161.7 209.3,2165.5 209.7,2169.2 210.1,2172.7 210.5,2176.2 210.9,2179.5 211.3,2182.7 211.8,2186.3 212.3,2189.8 212.8,2193.2 213.3,2196.5 213.8,2199.8 214.3,2202.9 214.7,2206 215.2,2208.9 215.7,2211.8 216.2,2214.6 216.7,2217.3 217.2,2220 217.7,2222.5 218.1,2225 218.6,2227.3 219.1,2229.6 219.9,2233.3 220.7,2236.9 221.5,2240.4 222.3,2243.8 223.1,2247.1 223.9,2250.3 224.7,2253.4 225.5,2256.4 226.3,2259.3 227.2,2262.1 228,2264.8 228.8,2267.4 229.6,2269.8 230.4,2272.2 231.2,2274.5 232,2276.6 233,2279.1 233.9,2281.6 234.9,2284 235.9,2286.3 236.9,2288.5 237.9,2290.7 238.9,2292.8 239.8,2294.8 240.8,2296.7 241.8,2298.6 242.8,2300.3 243.8,2302 244.8,2303.6 245.7,2305.1 246.7,2306.6 247.7,2307.9 248.7,2309.2 249.7,2310.5 250.7,2311.8 251.6,2313 252.6,2314.2 253.6,2315.3 254.6,2316.5 255.6,2317.5 256.6,2318.5 257.6,2319.5 258.5,2320.4 259.5,2321.2 260.5,2321.9 261.5,2322.5 262.5,2323.1 263.5,2323.6 264.3,2323.9 265.2,2324.3 266.1,2324.6 267,2324.9 267.8,2325.1 268.7,2325.4 269.6,2325.6 270.4,2325.8 271.3,2326 272.2,2326.2 273.1,2326.4 273.9,2326.6 274.8,2326.8 275.7,2327 276.6,2327.3 277.4,2327.5 279.5,2328.1 281.5,2328.7 283.5,2329.3 285.5,2330 287.6,2330.6 289.6,2331.3 291.6,2331.9 293.6,2332.5 295.6,2333.2 297.7,2333.8 299.7,2334.3 301.7,2334.9 303.7,2335.3 305.8,2335.8 307.8,2336.2 309.8,2336.5 313.2,2337 316.7,2337.5 320.1,2337.9 323.6,2338.3 327,2338.7 330.5,2339.1 333.9,2339.5 337.3,2339.8 340.8,2340.1 344.2,2340.4 347.7,2340.7 351.1,2340.9 354.6,2341.1 358,2341.3 361.4,2341.5 364.9,2341.7 370.4,2341.9 375.8,2342.2 381.3,2342.4 386.8,2342.6 392.2,2342.7 397.7,2342.9 403.1,2343.1 408.6,2343.2 414.1,2343.4 419.5,2343.5 425,2343.6 430.5,2343.7 435.9,2343.8 441.4,2343.9 446.9,2344 452.3,2344.1 457.8,2344.2 463.3,2344.3 468.7,2344.4 474.2,2344.5 479.7,2344.6 485.1,2344.6 490.6,2344.7 496.1,2344.8 501.5,2344.8 507,2344.9 512.5,2345 517.9,2345 523.4,2345.1 528.8,2345.1 534.3,2345.2 539.8,2345.2 545.2,2345.3 550.7,2345.3 556.2,2345.3 561.6,2345.4 567.1,2345.4 572.6,2345.4 578,2345.5 583.5,2345.5 589,2345.5 594.4,2345.6 599.9,2345.6 605.4,2345.6 610.8,2345.6 616.3,2345.7 621.8,2345.7 627.2,2345.7 632.7,2345.7 638.2,2345.7 643.6,2345.8 649.1,2345.8 654.5,2345.8 660,2345.8 665.5,2345.9 670.9,2345.9 676.4,2345.9 681.9,2345.9 687.3,2345.9 692.8,2345.9 698.3,2346 703.7,2346 709.2,2346 714.7,2346 720.1,2346 725.6,2346 731.1,2346 736.5,2346 742,2346.1 747.5,2346.1 752.9,2346.1 758.4,2346.1 763.9,2346.1 769.3,2346.1 774.8,2346.1 780.2,2346.1 785.7,2346.1 791.2,2346.1 796.6,2346.1 802.1,2346.1 807.6,2346.1 813,2346.2 818.5,2346.2 824,2346.2 829.4,2346.2 834.9,2346.2 840.4,2346.2 845.8,2346.2 851.3,2346.2 856.8,2346.2 862.2,2346.2 867.7,2346.2 873.2,2346.2 878.6,2346.2 884.1,2346.2 889.6,2346.2 895,2346.2 900.5,2346.3 906,2346.3 911.4,2346.3 916.9,2346.3 922.3,2346.3 927.8,2346.3 933.3,2346.3 938.7,2346.3 944.2,2346.3 949.7,2346.3 955.1,2346.3 960.6,2346.3 966.1,2346.3 971.5,2346.3 977,2346.3" fill="none" stroke="#0000FF" stroke-width="3" stroke-linejoin="round" clip-path="url(#c140035939853584)"/>
<path d="M190,2345.3 277.4,2345.3 364.9,2345.3 452.3,2345.2 539.8,2345.2 627.2,2345.2 714.7,2345.1 802.1,2345.1 889.6,2345.1 977,2345" fill="none" stroke="#FF0000" stroke-width="3" stroke-linejoin="round" clip-path="url(#c140035939853584)"/>
<g clip-path="url(#c140035939853584)">
<rect x="183" y="1762.7" width="14" height="14" fill="#0000FF"/>
<rect x="270.4" y="2319.5" width="14" height="14" fill="#0000FF"/>
<rect x="357.9" y="2334.5" width="14" height="14" fill="#0000FF"/>
<rect x="445.3" y="2337.2" width="14" height="14" fill="#0000FF"/>
<rect x="532.8" y="2338.2" width="14" height="14" fill="#0000FF"/>
<rect x="620.2" y="2338.7" width="14" height="14" fill="#0000FF"/>
<rect x="707.7" y="2339" width="14" height="14" fill="#0000FF"/>
<rect x="795.1" y="2339.1" width="14" height="14" fill="#0000FF"/>
<rect x="882.6" y="2339.2" width="14" height="14" fill="#0000FF"/>
<rect x="970" y="2339.3" width="14" height="14" fill="#0000FF"/>
</g>
<g clip-path="url(#c140035939853584)">
<circle cx="190" cy="2345.3" r="7.5" fill="#FF0000"/>
<circle cx="277.4" cy="2345.3" r="7.5" fill="#FF0000"/>
<circle cx="364.9" cy="2345.3" r="7.5" fill="#FF0000"/>
<circle cx="452.3" cy="2345.2" r="7.5" fill="#FF0000"/>
<circle cx="539.8" cy="2345.2" r="7.5" fill="#FF0000"/>
<circle cx="627.2" cy="2345.2" r="7.5" fill="#FF0000"/>
<circle cx="714.7" cy="2345.1" r="7.5" fill="#FF0000"/>
<circle cx="802.1" cy="2345.1" r="7.5" fill="#FF0000"/>
<circle cx="889.6" cy="2345.1" r="7.5" fill="#FF0000"/>
<circle cx="977" cy="2345" r="7.5" fill="#FF0000"/>
</g>
<line x1="232" y1="1868.9" x2="321" y2="1868.9" stroke="#0000FF" stroke-width="3"/>
<rect x="270.2" y="1862.7" width="12.5" height="12.5" fill="#0000FF"/>
<line x1="232" y1="1943.3" x2="321" y2="1943.3" stroke="#FF0000" stroke-width="3"/>
<circle cx="276.5" cy="1943.3" r="7" fill="#FF0000"/>
<text x="342" y="1885.6" font-size="46" font-family='"Liberation Serif", "Noto Serif CJK SC", serif'>R<tspan font-size="31" font-style="italic" dy="-19.5">l</tspan><tspan x="371.5" dy="32" font-size="29">max</tspan></text>
<text x="342" y="1959.7" font-size="46" font-family='"Liberation Serif", "Noto Serif CJK SC", serif'>R<tspan font-size="31" dy="-20.5">r</tspan><tspan x="371.5" dy="33" font-size="29">max</tspan></text>
<clipPath id="c140035939853776"><rect x="487" y="1764.2" width="451" height="362"/></clipPath>
<rect x="487" y="1764.2" width="451" height="362" fill="#fff"/>
<path d="M487,2069.1 543.4,2068.7 599.8,2068.3 656.1,2067.4 712.5,2067 768.9,2066.6 825.2,2066.3 881.6,2066 938,2065.9" fill="none" stroke="#FF0000" stroke-width="1.8" stroke-linejoin="round" clip-path="url(#c140035939853776)"/>
<path d="M487,1816.2 543.4,2017.6 599.8,2055.6 656.1,2069.1 712.5,2075.1 768.9,2078.8 825.2,2080.8 881.6,2082.2 938,2083.7" fill="none" stroke="#0000FF" stroke-width="1.8" stroke-linejoin="round" clip-path="url(#c140035939853776)"/>
<g clip-path="url(#c140035939853776)">
<rect x="483" y="1812.2" width="8" height="8" fill="#0000FF"/>
<rect x="539.4" y="2013.6" width="8" height="8" fill="#0000FF"/>
<rect x="595.8" y="2051.6" width="8" height="8" fill="#0000FF"/>
<rect x="652.1" y="2065.1" width="8" height="8" fill="#0000FF"/>
<rect x="708.5" y="2071.1" width="8" height="8" fill="#0000FF"/>
<rect x="764.9" y="2074.8" width="8" height="8" fill="#0000FF"/>
<rect x="821.2" y="2076.8" width="8" height="8" fill="#0000FF"/>
<rect x="877.6" y="2078.2" width="8" height="8" fill="#0000FF"/>
<rect x="934" y="2079.7" width="8" height="8" fill="#0000FF"/>
</g>
<g clip-path="url(#c140035939853776)">
<circle cx="487" cy="2069.1" r="4.2" fill="#FF0000"/>
<circle cx="543.4" cy="2068.7" r="4.2" fill="#FF0000"/>
<circle cx="599.8" cy="2068.3" r="4.2" fill="#FF0000"/>
<circle cx="656.1" cy="2067.4" r="4.2" fill="#FF0000"/>
<circle cx="712.5" cy="2067" r="4.2" fill="#FF0000"/>
<circle cx="768.9" cy="2066.6" r="4.2" fill="#FF0000"/>
<circle cx="825.2" cy="2066.3" r="4.2" fill="#FF0000"/>
<circle cx="881.6" cy="2066" r="4.2" fill="#FF0000"/>
<circle cx="938" cy="2065.9" r="4.2" fill="#FF0000"/>
</g>
<path d="M531.5 1961.7H938 M526.5 1966.7V2126.2" stroke="#000" stroke-width="2" stroke-dasharray="8 6" fill="none"/>
<path d="M487 1961.7H521.5" stroke="#000" stroke-width="2" stroke-dasharray="8 6" fill="none"/>
<circle cx="526.5" cy="1961.7" r="5" fill="none" stroke="#000" stroke-width="2.4"/>
<path d="M530.5 1964.7L566 1979" stroke="#000" stroke-width="1" fill="none"/><path d="M569 1981L557 1981.5L560 1974.5Z" fill="#000"/>
<text font-size="34" font-family='"Liberation Serif", "Noto Serif CJK SC", serif'><tspan x="587" y="2021">O</tspan><tspan font-size="24" x="612" y="2029">1</tspan><tspan x="625" y="2021">（</tspan><tspan x="661.5" y="2020.5" font-size="36">0.27</tspan><tspan x="728" y="2021">，</tspan><tspan x="763" y="2020.5" font-size="36">1</tspan><tspan x="784" y="2021">）</tspan></text>
<text x="467.6" y="2106.3" font-size="37" font-family='"Liberation Serif", "Noto Serif CJK SC", serif' text-anchor="middle">0</text>
<text x="467.6" y="1974.7" font-size="37" font-family='"Liberation Serif", "Noto Serif CJK SC", serif' text-anchor="middle">1</text>
<text x="467.6" y="1843" font-size="37" font-family='"Liberation Serif", "Noto Serif CJK SC", serif' text-anchor="middle">2</text>
<text transform="scale(0.93 1)" x="502.6 519.9 544.7" y="2168" font-size="40" text-anchor="middle" font-family='"Liberation Serif", "Noto Serif CJK SC", serif'>0.2</text>
<text transform="scale(0.93 1)" x="623.8 641.1 666" y="2168" font-size="40" text-anchor="middle" font-family='"Liberation Serif", "Noto Serif CJK SC", serif'>0.4</text>
<text transform="scale(0.93 1)" x="745.1 762.3 787.2" y="2168" font-size="40" text-anchor="middle" font-family='"Liberation Serif", "Noto Serif CJK SC", serif'>0.6</text>
<text transform="scale(0.93 1)" x="866.3 883.6 908.4" y="2168" font-size="40" text-anchor="middle" font-family='"Liberation Serif", "Noto Serif CJK SC", serif'>0.8</text>
<text transform="scale(0.93 1)" x="987.5 1004.8 1029.7" y="2168" font-size="40" text-anchor="middle" font-family='"Liberation Serif", "Noto Serif CJK SC", serif'>1.0</text>
<text x="697" y="2202" font-size="64" font-family='"Liberation Serif", "Noto Serif CJK SC", serif' text-anchor="start">a</text>
<path d="M487 2126.2v-7M487 1764.2v7M543.4 2126.2v-4M543.4 1764.2v4M599.8 2126.2v-7M599.8 1764.2v7M656.1 2126.2v-4M656.1 1764.2v4M712.5 2126.2v-7M712.5 1764.2v7M768.9 2126.2v-4M768.9 1764.2v4M825.2 2126.2v-7M825.2 1764.2v7M881.6 2126.2v-4M881.6 1764.2v4M938 2126.2v-7M938 1764.2v7M487 2093.3h7M938 2093.3h-7M487 2027.5h4M938 2027.5h-4M487 1961.7h7M938 1961.7h-7M487 1895.8h4M938 1895.8h-4M487 1830h7M938 1830h-7M487 1764.2h4M938 1764.2h-4" stroke="#000" stroke-width="1.6" fill="none"/>
<rect x="487" y="1764.2" width="451" height="362" fill="none" stroke="#000" stroke-width="2"/>
<path d="M1301 2149.5H1385.2 M1910 2149.5H2092.5 M1391.2 2155.5V2399 M1904 2155.5V2399" stroke="#000" stroke-width="2.6" stroke-dasharray="18 8" fill="none"/>
<path d="M1301,2322.2 1380.2,2324.2 1459.3,2329.9 1538.5,2336.9 1617.6,2345.4 1696.8,2352.4 1775.9,2359.6 1855,2365.1 1934.2,2370.1 2013.3,2373.6 2092.5,2377" fill="none" stroke="#FF0000" stroke-width="3" stroke-linejoin="round" clip-path="url(#c140035939853392)"/>
<path d="M1301,2292.5 1380.2,2169.3 1459.3,1988.1 1538.5,1848.7 1617.6,1812 1696.8,1873.4 1775.9,1980.4 1855,2091.7 1934.2,2183.2 2013.3,2251.6 2092.5,2299.7" fill="none" stroke="#0000FF" stroke-width="3" stroke-linejoin="round" clip-path="url(#c140035939853392)"/>
<g clip-path="url(#c140035939853392)">
<rect x="1294" y="2285.5" width="14" height="14" fill="#0000FF"/>
<rect x="1373.2" y="2162.3" width="14" height="14" fill="#0000FF"/>
<rect x="1452.3" y="1981.1" width="14" height="14" fill="#0000FF"/>
<rect x="1531.5" y="1841.7" width="14" height="14" fill="#0000FF"/>
<rect x="1610.6" y="1805" width="14" height="14" fill="#0000FF"/>
<rect x="1689.8" y="1866.4" width="14" height="14" fill="#0000FF"/>
<rect x="1768.9" y="1973.4" width="14" height="14" fill="#0000FF"/>
<rect x="1848" y="2084.7" width="14" height="14" fill="#0000FF"/>
<rect x="1927.2" y="2176.2" width="14" height="14" fill="#0000FF"/>
<rect x="2006.3" y="2244.6" width="14" height="14" fill="#0000FF"/>
<rect x="2085.5" y="2292.7" width="14" height="14" fill="#0000FF"/>
</g>
<g clip-path="url(#c140035939853392)">
<circle cx="1301" cy="2322.2" r="8" fill="#FF0000"/>
<circle cx="1380.2" cy="2324.2" r="8" fill="#FF0000"/>
<circle cx="1459.3" cy="2329.9" r="8" fill="#FF0000"/>
<circle cx="1538.5" cy="2336.9" r="8" fill="#FF0000"/>
<circle cx="1617.6" cy="2345.4" r="8" fill="#FF0000"/>
<circle cx="1696.8" cy="2352.4" r="8" fill="#FF0000"/>
<circle cx="1775.9" cy="2359.6" r="8" fill="#FF0000"/>
<circle cx="1855" cy="2365.1" r="8" fill="#FF0000"/>
<circle cx="1934.2" cy="2370.1" r="8" fill="#FF0000"/>
<circle cx="2013.3" cy="2373.6" r="8" fill="#FF0000"/>
<circle cx="2092.5" cy="2377" r="8" fill="#FF0000"/>
</g>
<circle cx="1391.2" cy="2149.5" r="6" fill="none" stroke="#000" stroke-width="2.4"/>
<circle cx="1904" cy="2149.5" r="6" fill="none" stroke="#000" stroke-width="2.4"/>
<path d="M1396 2151L1462 2164" stroke="#000" stroke-width="1.2"/><path d="M1469 2166L1455 2167.5L1457.5 2160Z" fill="#000"/>
<path d="M1917 2162L1866 2189" stroke="#000" stroke-width="1.2"/><path d="M1861 2192L1869 2182L1872 2189Z" fill="#000"/>
<text font-size="50" font-family='"Liberation Serif", "Noto Serif CJK SC", serif'><tspan x="1410" y="2226">o</tspan><tspan font-size="36" x="1437" y="2240">2</tspan><tspan y="2226" x="1462">(1.</tspan><tspan x="1535">14,</tspan><tspan x="1615">1)</tspan></text>
<text font-size="50" font-family='"Liberation Serif", "Noto Serif CJK SC", serif'><tspan x="1698" y="2233">o</tspan><tspan font-size="36" x="1726" y="2247">3</tspan><tspan y="2233" x="1750">(7.</tspan><tspan x="1820">57,</tspan><tspan x="1906">1)</tspan></text>
<line x1="1807.2" y1="1817.2" x2="1917" y2="1817.2" stroke="#0000FF" stroke-width="3"/>
<rect x="1855.1" y="1810.2" width="14" height="14" fill="#0000FF"/>
<line x1="1807.2" y1="1910.2" x2="1917" y2="1910.2" stroke="#FF0000" stroke-width="3"/>
<circle cx="1862.1" cy="1910.2" r="8" fill="#FF0000"/>
<text x="1943" y="1838" font-size="59" font-family='"Liberation Serif", "Noto Serif CJK SC", serif'>R<tspan font-size="40" font-style="italic" dy="-24.4">l</tspan><tspan x="1980" dy="40.4" font-size="38">max</tspan></text>
<text x="1943" y="1930.5" font-size="59" font-family='"Liberation Serif", "Noto Serif CJK SC", serif'>R<tspan font-size="40" font-style="italic" dy="-24.5">r</tspan><tspan x="1980" dy="40" font-size="38">max</tspan></text>
<path d="M204.4,2584.6 207.6,2584.6 210.8,2584.6 214.1,2584.6 217.3,2584.6 220.5,2584.6 223.7,2584.6 226.9,2584.6 230.2,2584.6 233.4,2584.6 236.6,2584.6 239.8,2584.6 243.1,2584.6 246.3,2584.6 249.5,2584.6 252.7,2584.6 255.9,2584.6 259.2,2584.6 262.4,2584.6 265.6,2584.6 268.8,2584.6 272,2584.6 275.3,2584.6 278.5,2584.6 281.7,2584.6 284.9,2584.6 288.1,2584.6 291.4,2584.6 294.6,2584.6 297.8,2584.6 301,2584.6 304.2,2584.6 307.5,2584.6 310.7,2584.6 313.9,2584.6 317.1,2584.6 320.4,2584.6 323.6,2584.6 326.8,2584.6 330,2584.6 333.2,2584.6 336.5,2584.6 339.7,2584.6 342.9,2584.6 346.1,2584.6 349.3,2584.6 352.6,2584.6 355.8,2584.6 359,2584.6 362.2,2584.6 365.4,2584.6 368.7,2584.6 371.9,2584.6 375.1,2584.6 378.3,2584.6 381.5,2584.6 384.8,2584.6 388,2584.6 391.2,2584.6 394.4,2584.6 397.6,2584.6 400.9,2584.6 404.1,2584.6 407.3,2584.6 410.5,2584.6 412.7,2584.6 414.8,2584.7 417,2584.7 419.1,2584.8 421.3,2584.8 423.4,2584.9 425.6,2585 427.7,2585.1 429.9,2585.3 432,2585.4 434.2,2585.5 436.3,2585.7 438.4,2585.8 440.6,2586 442.7,2586.1 444.9,2586.3 446,2586.4 447,2586.5 448.1,2586.8 449.2,2587 450.3,2587.3 451.3,2587.6 452.4,2588 453.5,2588.4 454.6,2588.8 455.6,2589.2 456.7,2589.7 457.8,2590.1 458.8,2590.5 459.9,2590.9 461,2591.3 462.1,2591.7 462.9,2592 463.6,2592.3 464.4,2592.6 465.2,2593 466,2593.3 466.8,2593.7 467.6,2594.2 468.3,2594.6 469.1,2595.1 469.9,2595.5 470.7,2596 471.5,2596.6 472.3,2597.1 473,2597.6 473.8,2598.2 474.6,2598.8 475.4,2599.5 476.2,2600.6 477.1,2602 477.9,2603.6 478.7,2605.4 479.5,2607.5 480.3,2609.8 481.1,2612.2 481.9,2614.8 482.8,2617.5 483.6,2620.3 484.4,2623.2 485.2,2626.2 486,2629.2 486.8,2632.2 487.7,2635.2 488.5,2638.3 489.3,2641.8 490.1,2645.6 490.9,2649.7 491.7,2654.2 492.5,2658.8 493.3,2663.8 494.1,2668.9 494.9,2674.3 495.7,2679.8 496.5,2685.5 497.3,2691.4 498.1,2697.3 498.9,2703.3 499.7,2709.4 500.5,2715.6 501,2719.5 501.5,2723.6 502,2727.9 502.5,2732.4 503,2737 503.5,2741.8 504,2746.7 504.5,2751.7 505,2756.8 505.5,2762 506,2767.2 506.5,2772.4 507,2777.7 507.5,2782.9 508,2788.1 508.4,2793.3 508.8,2796.6 509.1,2799.9 509.4,2803.3 509.7,2806.6 510.1,2810 510.4,2813.4 510.7,2816.9 511,2820.4 511.3,2824 511.7,2827.7 512,2831.5 512.3,2835.4 512.6,2839.5 513,2843.7 513.3,2848 513.6,2852.5 513.9,2857.3 514.2,2862.4 514.6,2867.9 514.9,2873.7 515.2,2879.6 515.5,2885.8 515.9,2892.1 516.2,2898.6 516.5,2905.1 516.8,2911.6 517.1,2918.1 517.5,2924.5 517.8,2930.8 518.1,2937 518.4,2942.9 518.8,2948.7 519.2,2955.5 519.5,2962.3 519.9,2969.1 520.3,2975.7 520.7,2982.4 521.1,2989 521.5,2995.5 521.9,3002 522.3,3008.4 522.7,3014.8 523.1,3021.2 523.5,3027.5 523.9,3033.8 524.3,3040 524.7,3046.2 525.1,3052.4 525.4,3057 525.7,3061.9 525.9,3067.1 526.2,3072.5 526.5,3078 526.8,3083.4 527.1,3088.8 527.3,3093.9 527.6,3098.8 527.9,3103.3 528.2,3107.3 528.5,3110.8 528.7,3113.6 529,3115.6 529.3,3116.8 529.6,3117.1 529.9,3116.4 530.2,3114.8 530.4,3112.3 530.7,3109.2 531,3105.5 531.3,3101.3 531.6,3096.7 531.9,3091.8 532.2,3086.6 532.5,3081.3 532.8,3076 533.1,3070.8 533.3,3065.7 533.6,3060.9 533.9,3056.4 534.2,3052.4 534.9,3044 535.5,3035.4 536.2,3026.8 536.8,3018.2 537.5,3009.7 538.1,3001.1 538.8,2992.6 539.5,2984.2 540.1,2975.9 540.8,2967.7 541.4,2959.7 542.1,2951.8 542.7,2944.2 543.4,2936.7 544,2929.5 544.7,2922.6 545.5,2914.3 546.3,2906.2 547.1,2898.2 547.9,2890.3 548.7,2882.6 549.5,2875 550.3,2867.6 551.1,2860.3 551.9,2853.1 552.7,2846.1 553.5,2839.1 554.4,2832.3 555.2,2825.7 556,2819.1 556.8,2812.7 557.6,2806.3 558,2802.6 558.5,2799 559,2795.4 559.5,2791.8 559.9,2788.3 560.4,2784.8 560.9,2781.3 561.4,2777.9 561.8,2774.5 562.3,2771.2 562.8,2767.9 563.2,2764.7 563.7,2761.6 564.2,2758.5 564.7,2755.5 565.1,2752.5 565.8,2748.2 566.5,2743.8 567.2,2739.4 567.9,2735.1 568.6,2730.7 569.3,2726.4 570,2722.2 570.7,2718.1 571.4,2714 572.1,2710.1 572.8,2706.4 573.5,2702.8 574.2,2699.4 574.9,2696.2 575.6,2693.3 576.3,2690.6 577.3,2686.8 578.3,2683.2 579.4,2679.5 580.4,2676 581.4,2672.6 582.4,2669.2 583.4,2666 584.5,2662.9 585.5,2660 586.5,2657.2 587.5,2654.6 588.5,2652.1 589.6,2649.9 590.6,2647.8 591.6,2646 592.6,2644.4 594.1,2642.2 595.6,2640.1 597.1,2638 598.6,2635.9 600.1,2633.9 601.6,2631.9 603.1,2630 604.6,2628.1 606.1,2626.3 607.6,2624.7 609.2,2623.1 610.7,2621.6 612.2,2620.2 613.7,2618.9 615.2,2617.7 616.7,2616.7 618.3,2615.7 619.9,2614.6 621.5,2613.6 623.1,2612.5 624.7,2611.5 626.3,2610.5 627.9,2609.5 629.6,2608.6 631.2,2607.7 632.8,2606.8 634.4,2606 636,2605.3 637.6,2604.6 639.2,2604 640.8,2603.5 642.4,2603.1 644,2602.8 645.7,2602.5 647.3,2602.3 648.9,2602.2 650.5,2602.1 652.1,2602.1 653.7,2602.1 655.3,2602.2 656.9,2602.4 658.5,2602.5 660.1,2602.8 661.8,2603 663.4,2603.3 665,2603.6 666.6,2603.9 668.2,2604.2 669.4,2604.5 670.7,2605.1 671.9,2605.8 673.1,2606.6 674.4,2607.6 675.6,2608.7 676.8,2609.9 678.1,2611.1 679.3,2612.5 680.5,2613.9 681.8,2615.3 683,2616.8 684.3,2618.3 685.5,2619.8 686.7,2621.2 688,2622.7 688.6,2623.5 689.2,2624.5 689.8,2625.6 690.4,2626.9 691.1,2628.4 691.7,2629.9 692.3,2631.6 692.9,2633.4 693.6,2635.3 694.2,2637.3 694.8,2639.3 695.4,2641.3 696,2643.4 696.7,2645.6 697.3,2647.7 697.9,2649.8 698.5,2652 699,2654.6 699.6,2657.7 700.2,2661.1 700.7,2665 701.3,2669.2 701.8,2673.7 702.4,2678.5 702.9,2683.5 703.5,2688.8 704.1,2694.2 704.6,2699.8 705.2,2705.6 705.7,2711.4 706.3,2717.3 706.9,2723.2 707.2,2727.1 707.5,2731.6 707.9,2736.7 708.2,2742.2 708.6,2748.1 708.9,2754.5 709.3,2761.3 709.6,2768.3 709.9,2775.7 710.3,2783.3 710.6,2791.1 711,2799.1 711.3,2807.2 711.7,2815.4 712,2823.6 712.3,2831.9 712.6,2838 712.8,2844.6 713.1,2851.6 713.3,2859 713.6,2866.8 713.8,2874.9 714.1,2883.3 714.3,2892 714.6,2901 714.8,2910.1 715.1,2919.5 715.3,2929 715.6,2938.7 715.8,2948.5 716.1,2958.3 716.3,2968.2 716.5,2976.4 716.7,2986.2 716.8,2997.2 717,3009.3 717.2,3022 717.4,3035.1 717.6,3048.4 717.8,3061.4 717.9,3074.1 718.1,3086 718.3,3096.8 718.5,3106.4 718.7,3114.4 718.9,3120.4 719,3124.3 719.2,3125.8 719.5,3124.6 719.7,3120.7 720,3114.6 720.2,3106.4 720.5,3096.6 720.7,3085.5 720.9,3073.3 721.2,3060.3 721.4,3047 721.7,3033.5 721.9,3020.3 722.2,3007.6 722.4,2995.7 722.7,2985 722.9,2975.7 723.2,2968.2 723.5,2958.4 723.9,2948.6 724.3,2938.9 724.7,2929.3 725,2919.8 725.4,2910.5 725.8,2901.4 726.2,2892.5 726.6,2883.8 726.9,2875.4 727.3,2867.3 727.7,2859.5 728.1,2852 728.4,2844.9 728.8,2838.2 729.2,2831.9 729.7,2824 730.1,2816.2 730.6,2808.5 731.1,2800.9 731.6,2793.3 732.1,2786 732.6,2778.7 733,2771.6 733.5,2764.7 734,2758 734.5,2751.6 735,2745.3 735.5,2739.4 735.9,2733.7 736.4,2728.3 736.9,2723.2 737.4,2717.7 738,2712.1 738.5,2706.5 739.1,2700.9 739.6,2695.4 740.1,2690 740.7,2684.7 741.2,2679.6 741.7,2674.7 742.3,2670 742.8,2665.7 743.4,2661.7 743.9,2658.1 744.4,2654.8 745,2652.1 745.5,2649.8 746.3,2647.1 747,2644.4 747.8,2641.8 748.5,2639.2 749.3,2636.8 750,2634.4 750.8,2632.1 751.5,2630 752.3,2627.9 753,2626 753.8,2624.2 754.5,2622.5 755.3,2621 756,2619.6 756.8,2618.3 757.5,2617.2 758.4,2616 759.2,2614.8 760.1,2613.5 761,2612.2 761.8,2610.9 762.7,2609.6 763.5,2608.3 764.4,2607.1 765.3,2606 766.1,2605 767,2604.1 767.8,2603.3 768.7,2602.7 769.5,2602.3 770.4,2602 771.3,2602 772.9,2602.3 774.5,2602.7 776.1,2603.2 777.7,2603.9 779.3,2604.7 780.9,2605.5 782.5,2606.5 784.1,2607.5 785.8,2608.6 787.4,2609.7 789,2610.9 790.6,2612.2 792.2,2613.4 793.8,2614.7 795.4,2616 797,2617.2 798.6,2618.5 800.3,2619.9 801.9,2621.4 803.5,2622.9 805.1,2624.4 806.7,2626 808.3,2627.7 809.9,2629.4 811.5,2631.2 813.1,2633.1 814.7,2634.9 816.4,2636.9 818,2638.8 819.6,2640.8 821.2,2642.9 822.8,2644.9 824.2,2646.9 825.7,2649.1 827.1,2651.4 828.5,2654 829.9,2656.7 831.4,2659.6 832.8,2662.7 834.2,2665.9 835.7,2669.2 837.1,2672.7 838.5,2676.3 839.9,2680.1 841.4,2683.9 842.8,2687.9 844.2,2691.9 845.6,2696 847.4,2701.5 849.2,2707.5 851,2713.9 852.8,2720.8 854.6,2728.1 856.4,2735.7 858.2,2743.6 860,2751.8 861.8,2760.2 863.6,2768.8 865.4,2777.6 867.2,2786.5 869,2795.5 870.7,2804.6 872.5,2813.6 874.3,2822.6 875.9,2830.8 877.6,2839.2 879.2,2847.8 880.8,2856.6 882.4,2865.5 884,2874.6 885.6,2883.8 887.2,2893.1 888.8,2902.4 890.4,2911.9 892,2921.3 893.7,2930.7 895.3,2940.2 896.9,2949.6 898.5,2958.9 900.1,2968.2 901,2973.2 901.8,2978.1 902.7,2983.1 903.5,2988 904.4,2993 905.3,2998 906.1,3003 907,3008 907.8,3013 908.7,3018.1 909.5,3023.1 910.4,3028.1 911.3,3033.1 912.1,3038.1 913,3043.1 913.8,3048.1 914.7,3053.2 915.5,3058.8 916.4,3064.8 917.2,3071 918,3077.4 918.9,3083.8 919.7,3090.2 920.5,3096.3 921.4,3102.2 922.2,3107.6 923.1,3112.6 923.9,3116.9 924.7,3120.5 925.6,3123.3 926.4,3125.1 927.2,3125.8 928.1,3125.4 929,3123.8 929.9,3121.3 930.8,3117.8 931.6,3113.6 932.5,3108.7 933.4,3103.3 934.3,3097.4 935.2,3091.1 936,3084.7 936.9,3078.2 937.8,3071.7 938.7,3065.3 939.6,3059.2 940.4,3053.4 941.3,3048.1 942.2,3043.2 943,3038.2 943.9,3033.1 944.8,3028 945.6,3022.9 946.5,3017.8 947.3,3012.6 948.2,3007.5 949.1,3002.4 949.9,2997.3 950.8,2992.3 951.6,2987.3 952.5,2982.4 953.4,2977.6 954.2,2972.9 955.1,2968.2 956.5,2960.8 957.9,2953.5 959.3,2946.2 960.7,2939 962,2931.9 963.4,2924.8 964.8,2917.8 966.2,2910.9 967.6,2904.1 969,2897.3 970.4,2890.7 971.8,2884.2 973.2,2877.7 974.6,2871.4 976,2865.1 977.4,2859" fill="none" stroke="#808000" stroke-width="3" stroke-linejoin="round" clip-path="url(#c140035939853344)"/>
<path d="M204.4,2584.6 207.6,2584.6 210.8,2584.6 214.1,2584.6 217.3,2584.6 220.5,2584.6 223.7,2584.6 226.9,2584.6 230.2,2584.6 233.4,2584.6 236.6,2584.6 239.8,2584.6 243.1,2584.6 246.3,2584.6 249.5,2584.6 252.7,2584.6 255.9,2584.6 259.2,2584.6 262.4,2584.6 265.6,2584.6 268.8,2584.6 272,2584.6 275.3,2584.6 278.5,2584.6 281.7,2584.6 284.9,2584.6 288.1,2584.6 291.4,2584.6 294.6,2584.6 297.8,2584.6 301,2584.6 304.2,2584.6 307.5,2584.6 310.7,2584.6 313.9,2584.6 317.1,2584.6 320.4,2584.6 323.6,2584.6 326.8,2584.6 330,2584.6 333.2,2584.6 336.5,2584.6 339.7,2584.6 342.9,2584.6 346.1,2584.6 349.3,2584.6 352.6,2584.6 355.8,2584.6 359,2584.6 362.2,2584.7 365.4,2584.8 368.7,2584.9 371.9,2585.1 375.1,2585.4 378.3,2585.7 381.5,2586.1 384.8,2586.4 388,2586.8 391.2,2587.3 394.4,2587.7 397.6,2588.2 400.9,2588.7 404.1,2589.1 407.3,2589.6 410.5,2590.1 411.9,2590.3 413.3,2590.6 414.7,2591 416.1,2591.4 417.5,2591.8 418.9,2592.3 420.3,2592.9 421.7,2593.5 423.1,2594.1 424.5,2594.7 425.9,2595.4 427.3,2596 428.7,2596.7 430.1,2597.4 431.5,2598.1 432.9,2598.8 433.8,2599.3 434.8,2599.8 435.8,2600.5 436.7,2601.1 437.7,2601.9 438.7,2602.7 439.6,2603.5 440.6,2604.4 441.6,2605.2 442.5,2606.2 443.5,2607.1 444.5,2608 445.4,2609 446.4,2609.9 447.4,2610.9 448.3,2611.8 449.2,2612.7 450,2613.6 450.9,2614.6 451.8,2615.6 452.6,2616.8 453.5,2618 454.3,2619.3 455.2,2620.7 456.1,2622.1 456.9,2623.7 457.8,2625.4 458.6,2627.1 459.5,2629 460.3,2630.9 461.2,2633 462.1,2635.2 462.7,2637 463.4,2639.3 464,2641.8 464.6,2644.7 465.3,2647.8 465.9,2651.2 466.6,2654.7 467.2,2658.4 467.9,2662.3 468.5,2666.2 469.2,2670.2 469.8,2674.1 470.4,2678.1 471.1,2682 471.7,2685.8 472.4,2689.5 473.2,2694 474,2698.5 474.8,2703.1 475.6,2707.6 476.4,2712.2 477.2,2716.8 478,2721.5 478.8,2726.2 479.6,2731 480.4,2735.9 481.2,2740.9 482,2745.9 482.8,2751.1 483.6,2756.3 484.5,2761.7 485.3,2767.2 486.1,2772.9 486.9,2778.8 487.7,2784.9 488.5,2791.2 489.3,2797.7 490.1,2804.3 490.9,2810.9 491.7,2817.7 492.5,2824.5 493.3,2831.3 494.1,2838.1 494.9,2844.8 495.7,2851.5 496.5,2858.1 497.3,2864.6 498.1,2871 498.8,2876 499.4,2880.9 500.1,2885.8 500.7,2890.7 501.4,2895.6 502,2900.5 502.6,2905.3 503.3,2910.2 503.9,2915 504.6,2919.8 505.2,2924.6 505.9,2929.4 506.5,2934.2 507.2,2939 507.8,2943.8 508.4,2948.7 508.8,2951.1 509.1,2953.5 509.4,2955.9 509.7,2958.3 510.1,2960.7 510.4,2963.1 510.7,2965.5 511,2967.9 511.3,2970.4 511.7,2972.8 512,2975.2 512.3,2977.6 512.6,2980 513,2982.4 513.3,2984.8 513.6,2987.2 513.9,2989.7 514.2,2992.1 514.6,2994.4 514.9,2996.8 515.2,2999.2 515.5,3001.6 515.9,3003.9 516.2,3006.3 516.5,3008.7 516.8,3011.2 517.1,3013.6 517.5,3016.1 517.8,3018.6 518.1,3021.1 518.4,3023.7 518.8,3026.4 519.3,3031.2 519.8,3036.8 520.3,3043 520.9,3049.7 521.4,3056.8 521.9,3064 522.4,3071.2 523,3078.4 523.5,3085.2 524,3091.6 524.5,3097.3 525.1,3102.3 525.6,3106.4 526.1,3109.4 526.6,3111.2 527.2,3111.7 527.6,3110.9 528.1,3109 528.5,3106.3 528.9,3102.7 529.4,3098.5 529.8,3093.6 530.3,3088.3 530.7,3082.6 531.1,3076.6 531.6,3070.4 532,3064.2 532.5,3058 532.9,3051.9 533.3,3046.1 533.8,3040.6 534.2,3035.6 535,3026.7 535.8,3017.5 536.6,3008.1 537.4,2998.4 538.2,2988.7 539,2979 539.8,2969.3 540.7,2959.7 541.5,2950.3 542.3,2941.2 543.1,2932.5 543.9,2924.1 544.7,2916.3 545.5,2909 546.3,2902.4 547.1,2896.5 547.7,2892.6 548.3,2888.8 548.9,2885.3 549.5,2882 550,2878.8 550.6,2875.8 551.2,2872.9 551.8,2870.1 552.4,2867.5 553,2864.9 553.6,2862.5 554.2,2860.1 554.8,2857.7 555.4,2855.4 556,2853.1 556.5,2850.9 557.1,2848.9 557.6,2846.9 558.2,2845.1 558.7,2843.3 559.2,2841.6 559.8,2839.9 560.3,2838.3 560.8,2836.6 561.4,2834.9 561.9,2833.2 562.4,2831.5 563,2829.7 563.5,2827.8 564.1,2825.8 564.6,2823.7 565.1,2821.5 565.8,2818.6 566.4,2815.4 567.1,2812 567.8,2808.5 568.4,2804.8 569.1,2801 569.7,2797.1 570.4,2793.3 571,2789.5 571.7,2785.7 572.3,2782.1 573,2778.6 573.6,2775.4 574.3,2772.3 575,2769.6 575.6,2767.2 577.1,2762.1 578.7,2757.1 580.2,2752.4 581.8,2747.8 583.3,2743.4 584.8,2739.2 586.4,2735.1 587.9,2731.2 589.4,2727.5 591,2723.9 592.5,2720.4 594,2717.1 595.6,2714 597.1,2710.9 598.6,2708 600.2,2705.3 601.2,2703.4 602.2,2701.6 603.3,2699.7 604.3,2697.9 605.3,2696 606.4,2694.2 607.4,2692.5 608.4,2690.7 609.5,2689.1 610.5,2687.5 611.5,2685.9 612.5,2684.5 613.6,2683.1 614.6,2681.9 615.6,2680.7 616.7,2679.7 618.7,2677.8 620.7,2675.9 622.8,2674.1 624.8,2672.2 626.9,2670.4 628.9,2668.7 630.9,2667 633,2665.4 635,2664 637.1,2662.6 639.1,2661.3 641.1,2660.2 643.2,2659.3 645.2,2658.5 647.3,2657.9 649.3,2657.4 650.5,2657.3 651.7,2657.3 652.8,2657.4 654,2657.5 655.2,2657.8 656.4,2658.1 657.6,2658.6 658.8,2659 659.9,2659.5 661.1,2660.1 662.3,2660.7 663.5,2661.3 664.7,2662 665.8,2662.6 667,2663.3 668.2,2664 669.3,2664.6 670.3,2665.5 671.4,2666.5 672.5,2667.6 673.6,2668.9 674.6,2670.3 675.7,2671.8 676.8,2673.4 677.9,2675.1 678.9,2676.8 680,2678.6 681.1,2680.4 682.2,2682.3 683.2,2684.2 684.3,2686 685.4,2687.9 686.1,2689.1 686.7,2690.7 687.4,2692.4 688.1,2694.3 688.8,2696.5 689.4,2698.8 690.1,2701.2 690.8,2703.9 691.5,2706.6 692.1,2709.5 692.8,2712.5 693.5,2715.6 694.2,2718.8 694.8,2722 695.5,2725.3 696.2,2728.6 696.7,2731.3 697.2,2734.5 697.7,2738 698.2,2741.9 698.7,2746.2 699.2,2750.7 699.7,2755.5 700.2,2760.5 700.7,2765.7 701.2,2771.1 701.8,2776.7 702.3,2782.3 702.8,2788 703.3,2793.8 703.8,2799.5 704.3,2805.2 704.7,2810.2 705.1,2815.5 705.6,2821 706,2826.7 706.4,2832.7 706.9,2839 707.3,2845.5 707.7,2852.3 708.1,2859.2 708.6,2866.5 709,2873.9 709.4,2881.6 709.9,2889.5 710.3,2897.6 710.7,2905.9 711.1,2914.4 711.5,2921.2 711.8,2928.4 712.1,2936.2 712.4,2944.2 712.8,2952.7 713.1,2961.4 713.4,2970.3 713.7,2979.3 714,2988.5 714.4,2997.7 714.7,3006.8 715,3015.9 715.3,3024.9 715.7,3033.6 716,3042.1 716.3,3050.3 716.5,3055.9 716.7,3061.9 716.9,3068.2 717.2,3074.8 717.4,3081.4 717.6,3088 717.8,3094.5 718,3100.7 718.2,3106.6 718.4,3112 718.7,3116.8 718.9,3120.9 719.1,3124.2 719.3,3126.5 719.5,3127.8 719.7,3128 720,3126.6 720.3,3123.9 720.6,3120 720.9,3115.1 721.2,3109.2 721.5,3102.6 721.8,3095.3 722.1,3087.6 722.3,3079.4 722.6,3071.1 722.9,3062.7 723.2,3054.4 723.5,3046.3 723.8,3038.6 724.1,3031.3 724.4,3024.7 724.8,3015.8 725.2,3006.6 725.6,2997.3 726,2987.8 726.4,2978.2 726.8,2968.7 727.2,2959.2 727.6,2949.8 728,2940.7 728.5,2931.7 728.9,2923.2 729.3,2915 729.7,2907.2 730.1,2900 730.5,2893.3 730.9,2887.3 731.7,2875.7 732.6,2864.5 733.4,2853.7 734.3,2843.4 735.1,2833.4 736,2823.9 736.8,2814.8 737.7,2806.1 738.5,2797.8 739.4,2789.9 740.2,2782.4 741.1,2775.3 741.9,2768.6 742.8,2762.3 743.6,2756.4 744.5,2750.9 745.3,2745.7 746.1,2740.5 746.9,2735.2 747.7,2729.9 748.5,2724.7 749.4,2719.6 750.2,2714.6 751,2709.7 751.8,2705.1 752.6,2700.8 753.4,2696.7 754.3,2693 755.1,2689.7 755.9,2686.8 756.7,2684.3 757.5,2682.4 758.4,2680.7 759.2,2678.9 760.1,2677.1 761,2675.3 761.8,2673.5 762.7,2671.8 763.5,2670.2 764.4,2668.7 765.3,2667.3 766.1,2666.1 767,2665.1 767.8,2664.3 768.7,2663.8 769.5,2663.6 770.4,2663.6 771.3,2664 772.9,2665 774.5,2666.3 776.1,2667.7 777.7,2669.2 779.3,2670.8 780.9,2672.5 782.5,2674.4 784.1,2676.3 785.8,2678.3 787.4,2680.3 789,2682.4 790.6,2684.6 792.2,2686.8 793.8,2688.9 795.4,2691.1 797,2693.3 798.6,2695.5 800.3,2697.7 801.9,2700 803.5,2702.3 805.1,2704.7 806.7,2707.1 808.3,2709.6 809.9,2712.1 811.5,2714.7 813.1,2717.5 814.7,2720.2 816.4,2723.1 818,2726.1 819.6,2729.2 821.2,2732.4 822.8,2735.7 824.4,2739.2 826,2743 827.6,2747.1 829.2,2751.4 830.9,2755.9 832.5,2760.6 834.1,2765.5 835.7,2770.5 837.3,2775.6 838.9,2780.9 840.5,2786.2 842.1,2791.5 843.7,2796.9 845.3,2802.2 847,2807.6 848.6,2812.8 850.2,2818.1 851.8,2823.4 853.4,2828.8 855,2834.3 856.6,2839.8 858.2,2845.4 859.8,2851 861.4,2856.8 863.1,2862.6 864.7,2868.5 866.3,2874.5 867.9,2880.6 869.5,2886.7 871.1,2893 872.7,2899.3 874.3,2905.7 875.9,2912.5 877.6,2919.6 879.2,2927 880.8,2934.8 882.4,2942.7 884,2950.8 885.6,2958.9 887.2,2967.1 888.8,2975.2 890.4,2983.2 892,2991 893.7,2998.5 895.3,3005.7 896.9,3012.5 898.5,3018.9 900.1,3024.7 901,3027.6 901.8,3030.4 902.7,3033.1 903.5,3035.7 904.4,3038.3 905.3,3040.7 906.1,3043.1 907,3045.4 907.8,3047.7 908.7,3049.9 909.5,3052.1 910.4,3054.2 911.3,3056.4 912.1,3058.5 913,3060.6 913.8,3062.8 914.6,3064.6 915.3,3066.4 916.1,3068.2 916.8,3069.9 917.6,3071.6 918.4,3073.3 919.1,3074.9 919.9,3076.6 920.6,3078.3 921.4,3079.9 922.1,3081.6 922.9,3083.3 923.6,3085 924.4,3086.8 925.1,3088.6 925.9,3090.5 926.6,3092.6 927.4,3095 928.2,3097.7 928.9,3100.5 929.7,3103.6 930.4,3106.7 931.2,3109.8 932,3112.8 932.7,3115.8 933.5,3118.5 934.3,3121.1 935,3123.3 935.8,3125.2 936.5,3126.6 937.3,3127.6 938.1,3128 939.1,3127.4 940.1,3125.6 941.2,3122.6 942.2,3118.7 943.2,3113.9 944.2,3108.5 945.3,3102.5 946.3,3096.1 947.3,3089.6 948.4,3082.9 949.4,3076.4 950.4,3070.1 951.5,3064.2 952.5,3058.8 953.5,3054.1 954.6,3050.3 956,3045.6 957.4,3040.9 958.8,3036.3 960.3,3031.7 961.7,3027.1 963.1,3022.7 964.5,3018.4 966,3014.2 967.4,3010.3 968.8,3006.5 970.3,3003 971.7,2999.8 973.1,2996.8 974.5,2994.2 976,2991.9 977.4,2990" fill="none" stroke="#FF8000" stroke-width="3" stroke-linejoin="round" clip-path="url(#c140035939853344)"/>
<path d="M204.4,2593.3 207.6,2593.3 210.8,2593.3 214.1,2593.3 217.3,2593.3 220.5,2593.3 223.7,2593.3 226.9,2593.3 230.2,2593.3 233.4,2593.3 236.6,2593.3 239.8,2593.3 243.1,2593.3 246.3,2593.3 249.5,2593.3 252.7,2593.3 255.9,2593.3 259.2,2593.3 262.4,2593.3 265.6,2593.4 268.8,2593.4 272,2593.4 275.3,2593.4 278.5,2593.5 281.7,2593.5 284.9,2593.6 288.1,2593.6 291.4,2593.6 294.6,2593.7 297.8,2593.7 301,2593.8 304.2,2593.8 307.5,2593.9 310.7,2594 313.9,2594.1 317.1,2594.3 320.4,2594.6 323.6,2595 326.8,2595.4 330,2595.8 333.2,2596.3 336.5,2596.9 339.7,2597.5 342.9,2598.1 346.1,2598.7 349.3,2599.4 352.6,2600.1 355.8,2600.8 359,2601.5 360.4,2601.8 361.8,2602.2 363.2,2602.7 364.6,2603.3 366,2603.9 367.4,2604.5 368.8,2605.2 370.2,2605.9 371.6,2606.6 373,2607.3 374.4,2608.1 375.7,2608.9 377.1,2609.6 378.5,2610.4 379.9,2611.1 381.3,2611.8 383.2,2612.7 385,2613.7 386.8,2614.6 388.6,2615.6 390.5,2616.6 392.3,2617.6 394.1,2618.7 395.9,2619.7 397.8,2620.9 399.6,2622 401.4,2623.2 403.2,2624.4 405.1,2625.7 406.9,2627 408.7,2628.3 410.5,2629.7 411.9,2630.9 413.3,2632.3 414.7,2633.8 416.1,2635.5 417.5,2637.4 418.9,2639.4 420.3,2641.5 421.7,2643.7 423.1,2645.9 424.5,2648.3 425.9,2650.8 427.3,2653.2 428.7,2655.8 430.1,2658.3 431.5,2660.9 432.9,2663.4 433.8,2665.2 434.8,2667.2 435.8,2669.2 436.7,2671.4 437.7,2673.7 438.7,2676 439.6,2678.4 440.6,2680.9 441.6,2683.5 442.5,2686.1 443.5,2688.8 444.5,2691.5 445.4,2694.2 446.4,2697 447.4,2699.8 448.3,2702.5 449.2,2705.1 450,2707.6 450.9,2710.3 451.8,2713.1 452.6,2716 453.5,2718.9 454.3,2721.9 455.2,2725.1 456.1,2728.3 456.9,2731.7 457.8,2735.1 458.6,2738.7 459.5,2742.4 460.3,2746.2 461.2,2750.1 462.1,2754.2 462.7,2757.4 463.4,2760.8 464,2764.4 464.6,2768.2 465.3,2772.2 465.9,2776.3 466.6,2780.5 467.2,2784.7 467.9,2789.1 468.5,2793.4 469.2,2797.8 469.8,2802.1 470.4,2806.4 471.1,2810.7 471.7,2814.8 472.4,2818.8 473.2,2823.7 474,2828.7 474.8,2833.6 475.6,2838.4 476.4,2843.3 477.2,2848.1 478,2853 478.8,2857.8 479.6,2862.7 480.4,2867.5 481.2,2872.3 482,2877.1 482.8,2882 483.6,2886.8 484.5,2891.7 485.3,2896.5 486.1,2901.4 486.9,2906.3 487.7,2911.2 488.5,2916.1 489.3,2921.1 490.1,2926 490.9,2931 491.7,2935.9 492.5,2940.8 493.3,2945.7 494.1,2950.6 494.9,2955.4 495.7,2960.2 496.5,2964.9 497.3,2969.6 498.1,2974.2 499.1,2979.7 500.1,2985 501,2990.4 502,2995.6 503,3000.8 503.9,3006 504.9,3011.1 505.9,3016.2 506.8,3021.3 507.8,3026.4 508.8,3031.5 509.7,3036.6 510.7,3041.8 511.7,3046.9 512.6,3052.1 513.6,3057.3 514.3,3061.5 515,3066.1 515.8,3070.9 516.5,3076.1 517.2,3081.3 517.9,3086.6 518.6,3091.8 519.4,3096.9 520.1,3101.8 520.8,3106.3 521.5,3110.4 522.2,3114 523,3117 523.7,3119.3 524.4,3120.8 525.1,3121.4 525.8,3121.1 526.6,3119.7 527.3,3117.4 528,3114.4 528.8,3110.7 529.5,3106.4 530.2,3101.7 530.9,3096.6 531.7,3091.3 532.4,3085.9 533.1,3080.5 533.9,3075.3 534.6,3070.2 535.3,3065.4 536.1,3061.1 536.8,3057.3 537.6,3053.5 538.4,3049.8 539.2,3046 540,3042.3 540.8,3038.7 541.6,3035 542.4,3031.4 543.2,3027.8 544,3024.3 544.8,3020.8 545.6,3017.3 546.5,3013.8 547.3,3010.4 548.1,3007 548.9,3003.6 549.7,3000.3 550.6,2996.3 551.6,2992.3 552.6,2988.3 553.5,2984.4 554.5,2980.4 555.5,2976.5 556.4,2972.6 557.4,2968.8 558.4,2965 559.3,2961.2 560.3,2957.4 561.3,2953.7 562.2,2950.1 563.2,2946.5 564.2,2942.9 565.1,2939.4 565.9,2936.5 566.8,2933.6 567.6,2930.6 568.4,2927.7 569.2,2924.8 570,2921.9 570.8,2919.1 571.7,2916.3 572.5,2913.5 573.3,2910.8 574.1,2908.2 574.9,2905.7 575.7,2903.2 576.6,2900.9 577.4,2898.6 578.2,2896.5 579.6,2893.1 580.9,2889.7 582.3,2886.4 583.7,2883.2 585.1,2880 586.4,2877 587.8,2874 589.2,2871 590.6,2868.2 591.9,2865.4 593.3,2862.7 594.7,2860.1 596.1,2857.5 597.4,2855.1 598.8,2852.7 600.2,2850.3 601.2,2848.6 602.2,2846.8 603.3,2845.1 604.3,2843.4 605.3,2841.6 606.4,2839.9 607.4,2838.3 608.4,2836.6 609.5,2835.1 610.5,2833.6 611.5,2832.1 612.5,2830.8 613.6,2829.5 614.6,2828.4 615.6,2827.3 616.7,2826.4 618.1,2825.2 619.6,2824.1 621,2822.9 622.5,2821.9 623.9,2820.8 625.4,2819.9 626.8,2819.1 628.3,2818.3 629.7,2817.7 631.2,2817.1 632.6,2816.7 634.1,2816.5 635.5,2816.4 637,2816.5 638.4,2816.7 639.9,2817.2 640.8,2817.6 641.8,2818.2 642.8,2818.9 643.8,2819.7 644.8,2820.5 645.8,2821.5 646.8,2822.5 647.8,2823.6 648.7,2824.7 649.7,2825.9 650.7,2827.1 651.7,2828.3 652.7,2829.5 653.7,2830.7 654.7,2831.8 655.7,2832.9 656.4,2833.8 657.2,2834.7 658,2835.6 658.8,2836.6 659.6,2837.6 660.4,2838.6 661.1,2839.6 661.9,2840.6 662.7,2841.7 663.5,2842.9 664.3,2844 665.1,2845.2 665.8,2846.4 666.6,2847.7 667.4,2849 668.2,2850.3 668.8,2851.5 669.4,2852.8 670.1,2854.3 670.7,2855.9 671.3,2857.7 671.9,2859.6 672.6,2861.6 673.2,2863.7 673.8,2866 674.4,2868.3 675,2870.7 675.7,2873.1 676.3,2875.6 676.9,2878.2 677.5,2880.8 678.2,2883.5 678.8,2886.3 679.4,2889.3 680.1,2892.5 680.7,2895.8 681.3,2899.3 682,2903 682.6,2906.8 683.2,2910.6 683.9,2914.6 684.5,2918.6 685.1,2922.7 685.8,2926.8 686.4,2930.9 687,2935 687.7,2939.2 688.3,2943.2 688.9,2947.3 689.6,2951.5 690.2,2955.7 690.8,2960 691.5,2964.3 692.1,2968.7 692.7,2973.1 693.4,2977.5 694,2982 694.6,2986.5 695.3,2991.1 695.9,2995.6 696.5,3000.2 697.2,3004.7 697.8,3009.3 698.4,3013.9 699.1,3018.4 699.7,3023 700.3,3027.6 701,3032.2 701.6,3036.8 702.2,3041.5 702.9,3046.2 703.5,3050.9 704.1,3055.6 704.8,3060.4 705.4,3065.2 706,3070.1 706.7,3075 707.3,3079.9 707.9,3084.9 708.6,3089.9 708.8,3092.1 709.1,3094.4 709.4,3096.8 709.6,3099.3 709.9,3101.8 710.2,3104.3 710.4,3106.9 710.7,3109.4 711,3112 711.3,3114.5 711.5,3117 711.8,3119.4 712.1,3121.7 712.3,3123.9 712.6,3126 712.9,3128 713.1,3129.4 713.3,3130.6 713.5,3131.6 713.7,3132.4 713.9,3133.1 714.2,3133.5 714.4,3133.8 714.6,3133.8 714.8,3133.7 715,3133.4 715.2,3132.9 715.4,3132.3 715.7,3131.5 715.9,3130.5 716.1,3129.3 716.3,3128 716.5,3126.5 716.6,3124.2 716.8,3121.3 716.9,3117.7 717.1,3113.6 717.3,3109.2 717.4,3104.4 717.6,3099.4 717.7,3094.2 717.9,3089.1 718.1,3084 718.2,3079 718.4,3074.4 718.6,3070 718.7,3066.1 718.9,3062.8 719,3060.9 719.1,3059.2 719.2,3057.9 719.3,3056.8 719.4,3056 719.5,3055.4 719.6,3055.1 719.7,3055 719.8,3055.2 719.9,3055.6 720.1,3056.2 720.2,3057.1 720.3,3058.2 720.4,3059.5 720.5,3061 720.6,3062.8 720.6,3064.3 720.7,3067 720.8,3070.7 720.8,3075.1 720.9,3080.2 720.9,3085.7 721,3091.5 721,3097.4 721.1,3103.3 721.1,3108.9 721.2,3114.1 721.2,3118.7 721.3,3122.6 721.3,3125.5 721.4,3127.4 721.5,3128 721.7,3126.5 721.9,3123.3 722.1,3118.6 722.3,3112.5 722.5,3105.3 722.7,3097.3 723,3088.7 723.2,3079.8 723.4,3070.8 723.6,3061.9 723.8,3053.3 724,3045.4 724.2,3038.4 724.5,3032.4 724.7,3027.8 724.9,3024.7 725.7,3016.3 726.5,3007.9 727.4,2999.4 728.2,2991 729,2982.7 729.8,2974.5 730.7,2966.6 731.5,2958.9 732.3,2951.5 733.2,2944.5 734,2937.9 734.8,2931.9 735.6,2926.3 736.5,2921.3 737.3,2917 738.1,2913.4 739.3,2908.5 740.5,2903.7 741.8,2898.9 743,2894.1 744.2,2889.3 745.4,2884.6 746.6,2880 747.8,2875.5 749,2871.1 750.2,2866.9 751.5,2862.8 752.7,2858.9 753.9,2855.2 755.1,2851.7 756.3,2848.4 757.5,2845.4 758.4,2843.4 759.2,2841.2 760.1,2839 761,2836.8 761.8,2834.6 762.7,2832.5 763.5,2830.3 764.4,2828.3 765.3,2826.3 766.1,2824.5 767,2822.8 767.8,2821.3 768.7,2819.9 769.5,2818.8 770.4,2817.8 771.3,2817.2 771.8,2816.9 772.3,2816.6 772.9,2816.3 773.4,2816 774,2815.8 774.5,2815.7 775,2815.5 775.6,2815.4 776.1,2815.3 776.6,2815.3 777.2,2815.3 777.7,2815.4 778.2,2815.5 778.8,2815.6 779.3,2815.8 779.9,2816.1 780.9,2816.7 782,2817.4 783.1,2818.1 784.1,2818.9 785.2,2819.8 786.3,2820.7 787.4,2821.7 788.4,2822.7 789.5,2823.7 790.6,2824.8 791.7,2825.9 792.7,2827.1 793.8,2828.2 794.9,2829.4 796,2830.6 797,2831.9 798.6,2833.7 800.3,2835.7 801.9,2837.7 803.5,2839.9 805.1,2842.1 806.7,2844.3 808.3,2846.7 809.9,2849.1 811.5,2851.5 813.1,2854 814.7,2856.6 816.4,2859.2 818,2861.8 819.6,2864.5 821.2,2867.2 822.8,2869.9 824.2,2872.3 825.6,2874.8 827,2877.3 828.4,2880 829.8,2882.6 831.2,2885.3 832.6,2888.1 834,2890.9 835.4,2893.7 836.8,2896.5 838.2,2899.3 839.5,2902.2 840.9,2905 842.3,2907.8 843.7,2910.6 845.1,2913.4 847,2916.9 848.8,2920.5 850.6,2924.2 852.4,2927.8 854.3,2931.5 856.1,2935.1 857.9,2938.8 859.7,2942.4 861.6,2946.1 863.4,2949.7 865.2,2953.3 867,2956.9 868.9,2960.5 870.7,2964 872.5,2967.5 874.3,2970.9 875.9,2974 877.6,2977.2 879.2,2980.5 880.8,2983.8 882.4,2987.2 884,2990.5 885.6,2993.8 887.2,2997 888.8,3000.1 890.4,3003.1 892,3005.9 893.7,3008.5 895.3,3010.9 896.9,3013.1 898.5,3015 900.1,3016.6 901.7,3018 903.3,3019.3 904.9,3020.5 906.5,3021.7 908.2,3022.7 909.8,3023.7 911.4,3024.5 913,3025.2 914.6,3025.9 916.2,3026.3 917.8,3026.7 919.4,3026.9 921,3027 922.6,3026.9 924.3,3026.7 925.9,3026.4 927.7,3025.8 929.5,3025.1 931.3,3024.3 933.2,3023.3 935,3022.3 936.8,3021.2 938.6,3020 940.5,3018.7 942.3,3017.4 944.1,3016 945.9,3014.5 947.8,3013 949.6,3011.5 951.4,3010 953.2,3008.4 955.1,3006.8 956.5,3005.6 957.9,3004.2 959.3,3002.8 960.7,3001.4 962,2999.8 963.4,2998.3 964.8,2996.6 966.2,2994.9 967.6,2993.2 969,2991.4 970.4,2989.6 971.8,2987.8 973.2,2985.9 974.6,2984 976,2982.1 977.4,2980.2" fill="none" stroke="#8000FF" stroke-width="3" stroke-linejoin="round" clip-path="url(#c140035939853344)"/>
<g clip-path="url(#c140035939853344)">
<rect x="197.9" y="2578.1" width="13" height="13" fill="#808000"/>
<rect x="249.4" y="2578.1" width="13" height="13" fill="#808000"/>
<rect x="301" y="2578.1" width="13" height="13" fill="#808000"/>
<rect x="352.5" y="2578.1" width="13" height="13" fill="#808000"/>
<rect x="404" y="2578.1" width="13" height="13" fill="#808000"/>
<rect x="455.6" y="2585.2" width="13" height="13" fill="#808000"/>
<rect x="507.1" y="2846" width="13" height="13" fill="#808000"/>
<rect x="558.6" y="2746" width="13" height="13" fill="#808000"/>
<rect x="610.2" y="2610.2" width="13" height="13" fill="#808000"/>
<rect x="661.7" y="2597.7" width="13" height="13" fill="#808000"/>
<rect x="713.2" y="3119.3" width="13" height="13" fill="#808000"/>
<rect x="764.8" y="2595.5" width="13" height="13" fill="#808000"/>
<rect x="816.3" y="2638.4" width="13" height="13" fill="#808000"/>
<rect x="867.8" y="2816.1" width="13" height="13" fill="#808000"/>
<rect x="919.4" y="3109.8" width="13" height="13" fill="#808000"/>
<rect x="970.9" y="2855.2" width="13" height="13" fill="#808000"/>
</g>
<g clip-path="url(#c140035939853344)">
<circle cx="204.4" cy="2584.6" r="7.5" fill="#FF8000"/>
<circle cx="255.9" cy="2584.6" r="7.5" fill="#FF8000"/>
<circle cx="307.5" cy="2584.6" r="7.5" fill="#FF8000"/>
<circle cx="359" cy="2584.6" r="7.5" fill="#FF8000"/>
<circle cx="410.5" cy="2590.1" r="7.5" fill="#FF8000"/>
<circle cx="462.1" cy="2635.2" r="7.5" fill="#FF8000"/>
<circle cx="513.6" cy="2987.2" r="7.5" fill="#FF8000"/>
<circle cx="565.1" cy="2821.5" r="7.5" fill="#FF8000"/>
<circle cx="616.7" cy="2679.7" r="7.5" fill="#FF8000"/>
<circle cx="668.2" cy="2664" r="7.5" fill="#FF8000"/>
<circle cx="719.7" cy="3128" r="7.5" fill="#FF8000"/>
<circle cx="771.3" cy="2664" r="7.5" fill="#FF8000"/>
<circle cx="822.8" cy="2735.7" r="7.5" fill="#FF8000"/>
<circle cx="874.3" cy="2905.7" r="7.5" fill="#FF8000"/>
<circle cx="925.9" cy="3090.5" r="7.5" fill="#FF8000"/>
<circle cx="977.4" cy="2990" r="7.5" fill="#FF8000"/>
</g>
<g clip-path="url(#c140035939853344)">
<path d="M204.4 2584L212.7 2599L196.2 2599Z" fill="#8000FF"/>
<path d="M255.9 2584L264.2 2599L247.7 2599Z" fill="#8000FF"/>
<path d="M307.5 2584.6L315.7 2599.6L299.2 2599.6Z" fill="#8000FF"/>
<path d="M359 2592.2L367.2 2607.2L350.8 2607.2Z" fill="#8000FF"/>
<path d="M410.5 2620.4L418.8 2635.4L402.3 2635.4Z" fill="#8000FF"/>
<path d="M462.1 2744.9L470.3 2759.9L453.8 2759.9Z" fill="#8000FF"/>
<path d="M513.6 3048L521.9 3063L505.4 3063Z" fill="#8000FF"/>
<path d="M565.1 2930.1L573.4 2945.1L556.9 2945.1Z" fill="#8000FF"/>
<path d="M616.7 2817.1L624.9 2832.1L608.4 2832.1Z" fill="#8000FF"/>
<path d="M668.2 2841L676.4 2856L659.9 2856Z" fill="#8000FF"/>
<path d="M719.7 3118.7L728 3133.7L711.5 3133.7Z" fill="#8000FF"/>
<path d="M771.3 2807.9L779.5 2822.9L763 2822.9Z" fill="#8000FF"/>
<path d="M822.8 2860.6L831.1 2875.6L814.6 2875.6Z" fill="#8000FF"/>
<path d="M874.3 2961.6L882.6 2976.6L866.1 2976.6Z" fill="#8000FF"/>
<path d="M925.9 3017.1L934.1 3032.1L917.6 3032.1Z" fill="#8000FF"/>
<path d="M977.4 2970.9L985.6 2985.9L969.1 2985.9Z" fill="#8000FF"/>
</g>
<line x1="256.3" y1="2806.2" x2="341.8" y2="2806.2" stroke="#808000" stroke-width="3"/>
<rect x="292.6" y="2799.7" width="13" height="13" fill="#808000"/>
<text transform="scale(0.93 1)" x="398.8 419.9 441.1 458.5 483.5" y="2819.7" font-size="40" text-anchor="middle" font-family='"Liberation Serif", "Noto Serif CJK SC", serif'>a=0.2</text>
<line x1="256.3" y1="2853.5" x2="341.8" y2="2853.5" stroke="#FF8000" stroke-width="3"/>
<circle cx="299.1" cy="2853.5" r="7.5" fill="#FF8000"/>
<text transform="scale(0.93 1)" x="398.8 419.9 441.1 458.5 483.5" y="2867" font-size="40" text-anchor="middle" font-family='"Liberation Serif", "Noto Serif CJK SC", serif'>a=0.3</text>
<line x1="256.3" y1="2900.3" x2="341.8" y2="2900.3" stroke="#8000FF" stroke-width="3"/>
<path d="M299.1 2891L307.3 2906L290.8 2906Z" fill="#8000FF"/>
<text transform="scale(0.93 1)" x="398.8 419.9 441.1 458.5 483.5" y="2913.8" font-size="40" text-anchor="middle" font-family='"Liberation Serif", "Noto Serif CJK SC", serif'>a=0.5</text>
<path d="M1309,2603.2 1312.8,2603.4 1316.7,2603.5 1320.5,2603.7 1324.4,2603.9 1328.2,2604.1 1332,2604.3 1335.9,2604.6 1339.7,2604.8 1343.6,2605.1 1347.4,2605.3 1351.2,2605.6 1355.1,2605.9 1358.9,2606.2 1362.7,2606.4 1366.6,2606.7 1370.4,2607.1 1374.3,2607.4 1378.1,2607.7 1381.9,2608 1385.8,2608.4 1389.6,2608.8 1393.5,2609.2 1397.3,2609.6 1401.1,2610 1405,2610.5 1408.8,2610.9 1412.7,2611.4 1416.5,2611.9 1420.3,2612.4 1424.2,2613 1428,2613.5 1431.8,2614.1 1435.7,2614.8 1439.5,2615.5 1443.4,2616.2 1447.2,2617 1451,2617.8 1454.9,2618.7 1458.7,2619.6 1462.6,2620.6 1466.4,2621.6 1470.2,2622.6 1474.1,2623.7 1477.9,2624.8 1481.8,2625.9 1485.6,2627 1489.4,2628.2 1493.3,2629.4 1497.1,2630.6 1501,2631.8 1504.8,2633.1 1508.6,2634.4 1512.5,2635.8 1516.3,2637.2 1520.1,2638.7 1524,2640.2 1527.8,2641.8 1531.7,2643.4 1535.5,2645.2 1539.3,2647 1543.2,2648.8 1547,2650.8 1550.9,2652.9 1554.7,2655 1558.5,2657.3 1562.4,2659.7 1566.2,2662.2 1570.1,2665 1573.9,2667.8 1577.7,2670.9 1581.6,2674.1 1585.4,2677.4 1589.3,2680.9 1593.1,2684.6 1596.9,2688.5 1600.8,2692.6 1604.6,2696.8 1608.4,2701.2 1612.3,2705.8 1616.1,2710.6 1620,2715.7 1623.8,2721.4 1627.6,2727.6 1631.5,2734.2 1635.3,2741.3 1639.2,2748.8 1643,2756.6 1646.8,2764.9 1650.7,2773.5 1654.5,2782.5 1658.4,2791.8 1662.2,2801.3 1666,2811.1 1669.9,2821.2 1673.7,2831.5 1677.5,2841.9 1680.1,2849.2 1682.7,2856.8 1685.2,2864.9 1687.8,2873.3 1690.3,2882.1 1692.9,2891.2 1695.5,2900.5 1698,2910.1 1700.6,2919.9 1703.1,2929.8 1705.7,2939.9 1708.3,2950.2 1710.8,2960.5 1713.4,2970.9 1715.9,2981.3 1718.5,2991.8 1719.8,2997.1 1721.1,3002.5 1722.3,3008.1 1723.6,3013.9 1724.9,3019.7 1726.2,3025.6 1727.5,3031.5 1728.7,3037.5 1730,3043.5 1731.3,3049.4 1732.6,3055.3 1733.9,3061.2 1735.1,3066.9 1736.4,3072.5 1737.7,3078 1739,3083.3 1739.7,3086.5 1740.5,3089.9 1741.2,3093.5 1741.9,3097.2 1742.7,3101 1743.4,3104.7 1744.2,3108.4 1744.9,3112 1745.7,3115.4 1746.4,3118.5 1747.1,3121.3 1747.9,3123.7 1748.6,3125.8 1749.4,3127.3 1750.1,3128.2 1750.9,3128.5 1751.6,3128.2 1752.4,3127.3 1753.2,3125.8 1754,3123.8 1754.8,3121.4 1755.6,3118.6 1756.4,3115.6 1757.2,3112.3 1758,3108.8 1758.8,3105.3 1759.6,3101.7 1760.4,3098.2 1761.2,3094.7 1762,3091.4 1762.8,3088.3 1763.5,3085.5 1764.3,3082.8 1765.1,3080.1 1765.9,3077.3 1766.7,3074.5 1767.5,3071.7 1768.3,3068.9 1769.1,3066.1 1769.9,3063.3 1770.7,3060.6 1771.5,3058 1772.3,3055.4 1773.1,3052.9 1773.9,3050.5 1774.7,3048.2 1775.4,3046.1 1776.2,3044.1 1777.7,3040.5 1779.3,3037.2 1780.8,3034.1 1782.3,3031.1 1783.8,3028.3 1785.3,3025.6 1786.8,3022.9 1788.3,3020.4 1789.8,3017.9 1791.3,3015.4 1792.8,3013 1794.4,3010.5 1795.9,3008 1797.4,3005.4 1798.9,3002.7 1800.4,2999.9 1801.1,2998.6 1801.8,2997.1 1802.5,2995.6 1803.2,2994 1803.9,2992.4 1804.5,2990.7 1805.2,2989.1 1805.9,2987.5 1806.6,2986 1807.3,2984.5 1808,2983.2 1808.7,2981.9 1809.4,2980.8 1810.1,2979.9 1810.8,2979.2 1811.5,2978.7 1811.9,2978.4 1812.4,2978.1 1812.9,2977.9 1813.4,2977.6 1813.8,2977.4 1814.3,2977.2 1814.8,2977 1815.2,2976.8 1815.7,2976.6 1816.2,2976.4 1816.7,2976.3 1817.1,2976.2 1817.6,2976.1 1818.1,2976 1818.6,2976 1819,2976 1819.5,2976 1820,2976.1 1820.5,2976.2 1820.9,2976.4 1821.4,2976.6 1821.9,2976.8 1822.3,2977.1 1822.8,2977.3 1823.3,2977.6 1823.8,2977.8 1824.2,2978.1 1824.7,2978.3 1825.2,2978.4 1825.7,2978.6 1826.1,2978.7 1826.6,2978.7 1827.1,2978.5 1827.6,2978 1828,2977.2 1828.5,2976.1 1829,2974.8 1829.4,2973.2 1829.9,2971.5 1830.4,2969.6 1830.9,2967.5 1831.3,2965.3 1831.8,2963 1832.3,2960.6 1832.8,2958.2 1833.2,2955.7 1833.7,2953.3 1834.2,2950.9 1834.5,2949.2 1834.8,2947.2 1835.1,2945.1 1835.5,2942.8 1835.8,2940.4 1836.1,2937.9 1836.4,2935.3 1836.7,2932.7 1837.1,2930 1837.4,2927.3 1837.7,2924.7 1838,2922.1 1838.3,2919.6 1838.7,2917.2 1839,2914.9 1839.3,2912.8 1839.7,2910.2 1840.1,2907.6 1840.5,2904.8 1840.8,2902 1841.2,2899.1 1841.6,2896.3 1842,2893.6 1842.4,2891 1842.8,2888.5 1843.1,2886.2 1843.5,2884.2 1843.9,2882.4 1844.3,2881 1844.7,2879.9 1845.1,2879.2 1845.4,2879 1845.8,2879.2 1846.2,2879.8 1846.6,2880.7 1847,2882 1847.4,2883.6 1847.8,2885.5 1848.2,2887.6 1848.6,2890 1849,2892.5 1849.4,2895.3 1849.8,2898.1 1850.2,2901.2 1850.6,2904.2 1851,2907.4 1851.4,2910.6 1851.8,2913.8 1852.1,2916.6 1852.4,2919.8 1852.8,2923.4 1853.1,2927.2 1853.4,2931.4 1853.7,2935.8 1854,2940.5 1854.4,2945.3 1854.7,2950.4 1855,2955.6 1855.3,2960.9 1855.6,2966.4 1856,2971.9 1856.3,2977.4 1856.6,2983 1856.9,2988.5 1857.1,2992.8 1857.4,2997.8 1857.6,3003.3 1857.8,3009.3 1858.1,3015.4 1858.3,3021.8 1858.5,3028.1 1858.8,3034.3 1859,3040.3 1859.2,3045.9 1859.4,3050.9 1859.7,3055.4 1859.9,3059.1 1860.1,3061.9 1860.4,3063.6 1860.6,3064.2 1860.7,3064.2 1860.8,3064.1 1860.8,3063.9 1860.9,3063.6 1861,3063.4 1861.1,3063 1861.1,3062.7 1861.2,3062.3 1861.3,3062 1861.4,3061.6 1861.4,3061.3 1861.5,3061 1861.6,3060.8 1861.7,3060.6 1861.7,3060.5 1861.8,3060.4 1862.1,3060.5 1862.5,3060.6 1862.8,3060.8 1863.1,3061 1863.4,3061.3 1863.7,3061.6 1864.1,3062 1864.4,3062.3 1864.7,3062.7 1865,3063 1865.3,3063.4 1865.7,3063.6 1866,3063.9 1866.3,3064.1 1866.6,3064.2 1866.9,3064.2 1867.2,3063.6 1867.5,3061.9 1867.7,3059.1 1868,3055.3 1868.2,3050.7 1868.5,3045.2 1868.7,3039.1 1869,3032.4 1869.2,3025.2 1869.5,3017.6 1869.8,3009.7 1870,3001.5 1870.3,2993.2 1870.5,2984.8 1870.8,2976.5 1871,2968.3 1871.3,2961 1871.5,2952.8 1871.7,2943.8 1871.9,2934.1 1872.1,2923.9 1872.3,2913.3 1872.6,2902.2 1872.8,2891 1873,2879.6 1873.2,2868.2 1873.4,2856.8 1873.6,2845.6 1873.9,2834.7 1874.1,2824.2 1874.3,2814.3 1874.5,2804.9 1874.9,2789.9 1875.2,2774.1 1875.6,2757.6 1875.9,2740.7 1876.2,2723.7 1876.6,2706.8 1876.9,2690.3 1877.3,2674.5 1877.6,2659.5 1878,2645.7 1878.3,2633.3 1878.7,2622.6 1879,2613.8 1879.4,2607.2 1879.7,2603 1880,2601.6 1880.3,2602.9 1880.6,2606.7 1880.9,2612.8 1881.1,2621 1881.4,2631.1 1881.7,2642.8 1881.9,2655.9 1882.2,2670.3 1882.5,2685.7 1882.7,2702 1883,2718.8 1883.3,2736.1 1883.5,2753.5 1883.8,2770.9 1884.1,2788.1 1884.3,2804.9 1884.5,2813.1 1884.6,2822.1 1884.7,2831.8 1884.9,2842.1 1885,2852.8 1885.1,2863.8 1885.2,2875.1 1885.4,2886.4 1885.5,2897.8 1885.6,2909.1 1885.8,2920.1 1885.9,2930.8 1886,2941.1 1886.1,2950.9 1886.3,2960 1886.4,2968.3 1886.5,2976.5 1886.7,2984.9 1886.8,2993.6 1886.9,3002.3 1887,3011.1 1887.2,3019.7 1887.3,3028 1887.4,3035.9 1887.5,3043.4 1887.7,3050.3 1887.8,3056.4 1887.9,3061.6 1888.1,3065.9 1888.2,3069.2 1888.3,3071.2 1888.4,3071.9 1888.7,3071.3 1889,3069.6 1889.2,3066.8 1889.5,3063.2 1889.7,3058.9 1890,3053.9 1890.2,3048.4 1890.5,3042.5 1890.7,3036.4 1891,3030 1891.3,3023.7 1891.5,3017.4 1891.8,3011.3 1892,3005.6 1892.3,3000.3 1892.5,2995.6 1892.8,2991 1893,2986 1893.3,2980.8 1893.6,2975.5 1893.8,2970 1894.1,2964.6 1894.3,2959.2 1894.6,2954.1 1894.8,2949.2 1895.1,2944.7 1895.4,2940.6 1895.6,2937.1 1895.9,2934.2 1896.1,2932 1896.4,2930.7 1896.6,2930.2 1897,2930.6 1897.4,2931.6 1897.8,2933.3 1898.2,2935.6 1898.6,2938.3 1898.9,2941.5 1899.3,2944.9 1899.7,2948.7 1900.1,2952.6 1900.5,2956.6 1900.9,2960.7 1901.2,2964.8 1901.6,2968.7 1902,2972.5 1902.4,2976 1902.8,2979.2 1903.1,2981.6 1903.3,2984.1 1903.6,2986.8 1903.9,2989.7 1904.2,2992.5 1904.5,2995.4 1904.7,2998.3 1905,3001.1 1905.3,3003.7 1905.6,3006.2 1905.9,3008.4 1906.2,3010.3 1906.4,3011.9 1906.7,3013.1 1907,3013.8 1907.3,3014.1 1907.6,3013.6 1907.9,3012.3 1908.2,3010.2 1908.5,3007.4 1908.8,3004 1909,3000 1909.3,2995.7 1909.6,2991 1909.9,2986.1 1910.2,2981 1910.5,2975.8 1910.8,2970.6 1911.1,2965.6 1911.4,2960.7 1911.7,2956.2 1912,2952 1912.2,2948.3 1912.5,2944.3 1912.8,2939.9 1913,2935.3 1913.3,2930.7 1913.5,2925.9 1913.8,2921.3 1914,2916.7 1914.3,2912.4 1914.5,2908.4 1914.8,2904.7 1915.1,2901.6 1915.3,2899 1915.6,2897 1915.8,2895.7 1916.1,2895.3 1916.3,2895.7 1916.6,2896.8 1916.9,2898.6 1917.1,2900.9 1917.4,2903.8 1917.6,2907.1 1917.9,2910.9 1918.1,2915 1918.4,2919.3 1918.6,2923.9 1918.9,2928.6 1919.2,2933.4 1919.4,2938.2 1919.7,2942.9 1919.9,2947.5 1920.2,2952 1920.4,2955.4 1920.6,2959 1920.8,2962.8 1920.9,2966.8 1921.1,2970.9 1921.3,2975.1 1921.5,2979.4 1921.7,2983.8 1921.9,2988.2 1922.1,2992.6 1922.3,2997 1922.5,3001.3 1922.7,3005.5 1922.9,3009.6 1923.1,3013.6 1923.2,3017.4 1923.5,3022.3 1923.8,3027.3 1924,3032.4 1924.3,3037.4 1924.5,3042.4 1924.8,3047.4 1925,3052.3 1925.3,3057.1 1925.6,3061.8 1925.8,3066.2 1926.1,3070.5 1926.3,3074.6 1926.6,3078.5 1926.8,3082 1927.1,3085.3 1927.3,3088.2 1927.7,3091.7 1928,3095.2 1928.3,3098.7 1928.6,3102.1 1928.9,3105.5 1929.3,3108.7 1929.6,3111.8 1929.9,3114.7 1930.2,3117.4 1930.5,3119.9 1930.9,3122.1 1931.2,3123.9 1931.5,3125.4 1931.8,3126.5 1932.1,3127.2 1932.5,3127.4 1932.9,3127.2 1933.4,3126.5 1933.9,3125.3 1934.4,3123.9 1934.8,3122.1 1935.3,3120.2 1935.8,3118.1 1936.3,3116 1936.7,3113.9 1937.2,3111.8 1937.7,3109.9 1938.1,3108.1 1938.6,3106.7 1939.1,3105.5 1939.6,3104.8 1940,3104.6 1940.7,3104.6 1941.3,3104.6 1942,3104.6 1942.7,3104.6 1943.3,3104.6 1944,3104.6 1944.6,3104.6 1945.3,3104.6 1945.9,3104.6 1946.6,3104.6 1947.2,3104.6 1947.9,3104.6 1948.5,3104.6 1949.2,3104.6 1949.8,3104.6 1950.5,3104.6 1951.1,3104.6 1951.7,3104.8 1952.3,3105.2 1952.9,3105.6 1953.5,3106.1 1954.1,3106.8 1954.7,3107.5 1955.3,3108.2 1955.9,3109 1956.5,3109.8 1957.1,3110.7 1957.7,3111.6 1958.3,3112.4 1958.9,3113.3 1959.5,3114.1 1960.1,3114.9 1960.7,3115.8 1961.4,3116.8 1962,3118 1962.6,3119.2 1963.2,3120.5 1963.9,3121.8 1964.5,3123.1 1965.1,3124.4 1965.7,3125.7 1966.4,3126.8 1967,3127.9 1967.6,3128.8 1968.3,3129.6 1968.9,3130.2 1969.5,3130.6 1970.1,3130.7 1971,3130.5 1972,3130 1972.9,3129.1 1973.8,3128 1974.7,3126.6 1975.6,3125 1976.5,3123.2 1977.4,3121.3 1978.3,3119.3 1979.2,3117.3 1980.1,3115.2 1981,3113.1 1981.9,3111.1 1982.9,3109.1 1983.8,3107.3 1984.7,3105.7 1986.6,3102.4 1988.4,3099.1 1990.3,3095.8 1992.2,3092.5 1994.1,3089.1 1996,3085.8 1997.8,3082.4 1999.7,3079.1 2001.6,3075.8 2003.5,3072.5 2005.4,3069.2 2007.2,3066 2009.1,3062.7 2011,3059.6 2012.9,3056.4 2014.8,3053.3 2016.7,3050.2 2018.7,3047 2020.6,3043.9 2022.6,3040.8 2024.6,3037.7 2026.5,3034.6 2028.5,3031.6 2030.4,3028.6 2032.4,3025.6 2034.4,3022.6 2036.3,3019.7 2038.3,3016.8 2040.2,3013.9 2042.2,3011 2044.1,3008.2 2046.1,3005.4 2047.8,3003 2049.5,3000.6 2051.2,2998.2 2052.9,2995.8 2054.5,2993.5 2056.2,2991.1 2057.9,2988.8 2059.6,2986.5 2061.3,2984.2 2063,2982 2064.7,2979.8 2066.4,2977.6 2068.1,2975.5 2069.7,2973.4 2071.4,2971.4 2073.1,2969.4 2075.3,2967 2077.4,2964.5 2079.6,2962.2 2081.7,2959.9 2083.9,2957.6 2086,2955.3 2088.2,2953.1 2090.3,2951 2092.5,2948.8 2094.6,2946.7 2096.8,2944.6 2098.9,2942.6 2101.1,2940.5 2103.2,2938.5 2105.4,2936.5 2107.5,2934.5 2108.8,2933.4 2110.1,2932.2 2111.4,2931.1 2112.6,2929.9 2113.9,2928.8 2115.2,2927.7 2116.5,2926.6 2117.8,2925.5 2119,2924.4 2120.3,2923.3 2121.6,2922.3 2122.9,2921.2 2124.2,2920.2 2125.4,2919.2 2126.7,2918.1 2128,2917.1" fill="none" stroke="#FF0000" stroke-width="3" stroke-linejoin="round" clip-path="url(#c140035939853488)"/>
<path d="M1309,2606 1312.8,2606.1 1316.7,2606.2 1320.5,2606.4 1324.4,2606.5 1328.2,2606.8 1332,2607 1335.9,2607.3 1339.7,2607.5 1343.6,2607.8 1347.4,2608.2 1351.2,2608.5 1355.1,2608.8 1358.9,2609.2 1362.7,2609.6 1366.6,2609.9 1370.4,2610.3 1374.3,2610.7 1378.1,2611.2 1381.9,2611.7 1385.8,2612.2 1389.6,2612.8 1393.5,2613.4 1397.3,2614 1401.1,2614.7 1405,2615.3 1408.8,2616.1 1412.7,2616.8 1416.5,2617.5 1420.3,2618.3 1424.2,2619.1 1428,2619.9 1431.8,2620.7 1435.7,2621.5 1439.5,2622.3 1443.4,2623.2 1447.2,2624.1 1451,2625 1454.9,2626 1458.7,2627 1462.6,2628 1466.4,2629.1 1470.2,2630.2 1474.1,2631.3 1477.9,2632.5 1481.8,2633.7 1485.6,2634.9 1489.4,2636.2 1493.3,2637.6 1497.1,2638.9 1501,2640.4 1504.8,2641.9 1508.6,2643.4 1512.5,2645 1516.3,2646.7 1520.1,2648.4 1524,2650.2 1527.8,2652.1 1531.7,2654.1 1535.5,2656.2 1539.3,2658.3 1543.2,2660.6 1547,2663 1550.9,2665.5 1554.7,2668.1 1558.5,2670.9 1562.4,2673.9 1566.2,2677.1 1570.1,2680.5 1573.9,2684.1 1577.7,2688 1581.6,2692.1 1585.4,2696.4 1589.3,2701 1593.1,2705.7 1596.9,2710.7 1600.8,2715.9 1604.6,2721.3 1608.4,2727 1612.3,2732.8 1616.1,2738.9 1620,2745.5 1623.8,2752.7 1627.6,2760.6 1631.5,2769 1635.3,2778 1639.2,2787.6 1643,2797.7 1646.8,2808.2 1650.7,2819.1 1654.5,2830.5 1658.4,2842.2 1662.2,2854.3 1666,2866.6 1669.9,2879.2 1673.7,2892.1 1677.5,2905.1 1679.4,2911.7 1681.3,2918.7 1683.2,2925.9 1685.1,2933.4 1687,2941.2 1688.8,2949.2 1690.7,2957.4 1692.6,2965.7 1694.5,2974.2 1696.4,2982.8 1698.2,2991.5 1700.1,3000.3 1702,3009.1 1703.9,3017.9 1705.8,3026.6 1707.6,3035.4 1708.9,3041.3 1710.1,3047.9 1711.3,3055.1 1712.5,3062.6 1713.7,3070.3 1714.9,3078.2 1716.1,3086 1717.3,3093.6 1718.5,3100.9 1719.7,3107.6 1720.9,3113.7 1722.1,3119.1 1723.3,3123.5 1724.5,3126.8 1725.7,3128.9 1726.9,3129.6 1727.6,3129.2 1728.4,3128 1729.2,3126 1729.9,3123.4 1730.7,3120.3 1731.4,3116.7 1732.2,3112.7 1732.9,3108.5 1733.7,3104.1 1734.4,3099.5 1735.2,3094.9 1736,3090.4 1736.7,3086 1737.5,3081.8 1738.2,3078 1739,3074.6 1740.4,3068.8 1741.7,3063.1 1743.1,3057.6 1744.5,3052.1 1745.9,3046.7 1747.3,3041.3 1748.6,3036 1750,3030.8 1751.4,3025.6 1752.8,3020.3 1754.2,3015.1 1755.6,3009.9 1756.9,3004.6 1758.3,2999.3 1759.7,2993.9 1761.1,2988.5 1761.9,2985.3 1762.6,2982 1763.4,2978.5 1764.2,2975 1765,2971.4 1765.8,2967.8 1766.6,2964.2 1767.3,2960.7 1768.1,2957.2 1768.9,2953.9 1769.7,2950.7 1770.5,2947.7 1771.2,2945 1772,2942.5 1772.8,2940.2 1773.6,2938.4 1774.7,2936.1 1775.8,2934.1 1776.9,2932.4 1778,2930.9 1779.1,2929.5 1780.2,2928.3 1781.3,2927.1 1782.4,2925.9 1783.5,2924.8 1784.6,2923.6 1785.7,2922.2 1786.8,2920.8 1787.9,2919.2 1789,2917.3 1790.1,2915.2 1791.2,2912.8 1791.8,2911.2 1792.3,2909.3 1792.9,2907.1 1793.5,2904.6 1794.1,2901.9 1794.6,2899 1795.2,2896 1795.8,2892.8 1796.4,2889.6 1796.9,2886.4 1797.5,2883.2 1798.1,2880 1798.7,2876.9 1799.2,2873.9 1799.8,2871.2 1800.4,2868.6 1800.9,2866.2 1801.5,2863.7 1802,2861.1 1802.5,2858.4 1803.1,2855.7 1803.6,2852.9 1804.2,2850.3 1804.7,2847.7 1805.2,2845.3 1805.8,2843.1 1806.3,2841.1 1806.8,2839.3 1807.4,2837.9 1807.9,2836.8 1808.5,2836.2 1809,2835.9 1809.5,2836.1 1810,2836.5 1810.5,2837.3 1810.9,2838.2 1811.4,2839.5 1811.9,2840.9 1812.4,2842.5 1812.9,2844.3 1813.4,2846.3 1813.9,2848.4 1814.3,2850.6 1814.8,2852.9 1815.3,2855.2 1815.8,2857.7 1816.3,2860.1 1816.8,2862.6 1817.2,2864.9 1817.5,2867.6 1817.9,2870.8 1818.3,2874.4 1818.7,2878.3 1819.1,2882.4 1819.5,2886.6 1819.9,2891 1820.2,2895.3 1820.6,2899.5 1821,2903.6 1821.4,2907.5 1821.8,2911.1 1822.2,2914.3 1822.5,2917 1822.9,2919.3 1823.2,2920.5 1823.4,2921.7 1823.6,2922.9 1823.8,2924.1 1824.1,2925.2 1824.3,2926.4 1824.5,2927.4 1824.8,2928.5 1825,2929.4 1825.2,2930.3 1825.5,2931 1825.7,2931.7 1825.9,2932.2 1826.1,2932.6 1826.4,2932.8 1826.6,2932.9 1826.9,2932.8 1827.2,2932.5 1827.6,2932 1827.9,2931.3 1828.2,2930.4 1828.5,2929.4 1828.8,2928.2 1829.2,2926.9 1829.5,2925.4 1829.8,2923.9 1830.1,2922.2 1830.4,2920.4 1830.8,2918.6 1831.1,2916.7 1831.4,2914.8 1831.7,2912.8 1832.2,2909.1 1832.7,2904.2 1833.1,2898.2 1833.6,2891.1 1834.1,2883 1834.6,2874.1 1835,2864.5 1835.5,2854.2 1836,2843.5 1836.5,2832.2 1836.9,2820.7 1837.4,2809 1837.9,2797.1 1838.4,2785.2 1838.8,2773.4 1839.3,2761.8 1839.6,2755.3 1839.8,2748 1840.1,2740.3 1840.3,2732.1 1840.6,2723.7 1840.8,2715 1841.1,2706.2 1841.3,2697.4 1841.6,2688.8 1841.9,2680.4 1842.1,2672.4 1842.4,2664.8 1842.6,2657.8 1842.9,2651.5 1843.1,2646 1843.4,2641.4 1843.6,2638.1 1843.8,2634.8 1844,2631.4 1844.2,2628.2 1844.4,2625 1844.6,2621.9 1844.8,2619 1845,2616.3 1845.2,2613.7 1845.4,2611.4 1845.6,2609.4 1845.9,2607.7 1846.1,2606.2 1846.3,2605.2 1846.5,2604.6 1846.7,2604.3 1846.9,2604.5 1847,2605.1 1847.2,2606 1847.4,2607.3 1847.6,2608.8 1847.7,2610.7 1847.9,2612.8 1848.1,2615.2 1848.3,2617.8 1848.5,2620.7 1848.6,2623.8 1848.8,2627 1849,2630.4 1849.2,2633.9 1849.4,2637.6 1849.5,2641.4 1849.7,2645 1849.8,2649.7 1850,2655.5 1850.1,2662.1 1850.2,2669.4 1850.4,2677.4 1850.5,2685.8 1850.7,2694.6 1850.8,2703.6 1850.9,2712.7 1851.1,2721.7 1851.2,2730.6 1851.4,2739.2 1851.5,2747.3 1851.7,2754.9 1851.8,2761.8 1852.1,2776.4 1852.4,2790.6 1852.8,2804.5 1853.1,2818 1853.4,2831.3 1853.7,2844.2 1854,2856.9 1854.4,2869.3 1854.7,2881.6 1855,2893.6 1855.3,2905.5 1855.6,2917.3 1856,2928.9 1856.3,2940.5 1856.6,2952 1856.9,2963.4 1857.2,2974.9 1857.5,2987.2 1857.8,3000.1 1858.1,3013.4 1858.4,3026.8 1858.8,3040.2 1859.1,3053.4 1859.4,3066.1 1859.7,3078.1 1860,3089.1 1860.3,3099.1 1860.6,3107.8 1860.9,3114.9 1861.2,3120.2 1861.5,3123.6 1861.8,3124.7 1862.5,3124 1863.1,3122.1 1863.7,3119.1 1864.4,3115.3 1865,3110.7 1865.7,3105.6 1866.3,3100.1 1866.9,3094.5 1867.6,3088.8 1868.2,3083.4 1868.9,3078.3 1869.5,3073.7 1870.1,3069.8 1870.8,3066.8 1871.4,3064.9 1872.1,3064.2 1872.6,3064.5 1873.2,3065.3 1873.7,3066.5 1874.3,3068 1874.8,3069.8 1875.4,3071.8 1875.9,3074 1876.5,3076.2 1877,3078.5 1877.6,3080.6 1878.1,3082.7 1878.7,3084.5 1879.2,3086 1879.8,3087.2 1880.3,3087.9 1880.9,3088.2 1881.3,3088.1 1881.8,3087.8 1882.3,3087.2 1882.8,3086.4 1883.2,3085.5 1883.7,3084.3 1884.2,3083 1884.7,3081.5 1885.1,3079.8 1885.6,3078 1886.1,3076 1886.5,3073.9 1887,3071.7 1887.5,3069.3 1888,3066.8 1888.4,3064.2 1888.8,3061.3 1889.2,3056.8 1889.6,3051 1889.9,3044 1890.3,3036.2 1890.7,3027.7 1891,3018.7 1891.4,3009.5 1891.8,3000.4 1892.2,2991.5 1892.5,2983 1892.9,2975.3 1893.3,2968.5 1893.6,2962.8 1894,2958.5 1894.4,2955.8 1894.9,2953.5 1895.4,2951.2 1895.8,2949.1 1896.3,2947.1 1896.8,2945.2 1897.3,2943.5 1897.8,2941.9 1898.3,2940.4 1898.8,2939.1 1899.2,2937.9 1899.7,2936.9 1900.2,2936.1 1900.7,2935.4 1901.2,2934.9 1901.7,2934.6 1902.2,2934.5 1902.9,2934.7 1903.6,2935.3 1904.3,2936.3 1905.1,2937.5 1905.8,2939.1 1906.5,2940.9 1907.3,2942.9 1908,2945.2 1908.7,2947.7 1909.5,2950.3 1910.2,2953 1910.9,2955.9 1911.6,2958.8 1912.4,2961.8 1913.1,2964.8 1913.8,2967.8 1914.4,2970.4 1915,2973.4 1915.6,2976.8 1916.2,2980.5 1916.8,2984.4 1917.4,2988.6 1918,2992.9 1918.5,2997.3 1919.1,3001.9 1919.7,3006.5 1920.3,3011.1 1920.9,3015.7 1921.5,3020.1 1922.1,3024.5 1922.7,3028.7 1923.2,3032.6 1923.7,3035.9 1924.2,3039.3 1924.7,3042.7 1925.2,3046.2 1925.7,3049.7 1926.2,3053.1 1926.7,3056.6 1927.2,3059.9 1927.7,3063.2 1928.2,3066.4 1928.7,3069.5 1929.2,3072.4 1929.7,3075.2 1930.2,3077.7 1930.7,3080.1 1931.2,3082.2 1932,3085.1 1932.7,3087.9 1933.4,3090.7 1934.2,3093.3 1934.9,3095.9 1935.6,3098.4 1936.3,3100.7 1937.1,3103 1937.8,3105.1 1938.5,3107.1 1939.3,3108.9 1940,3110.5 1940.7,3112 1941.4,3113.4 1942.2,3114.5 1942.9,3115.5 1943.8,3116.4 1944.6,3117.4 1945.5,3118.3 1946.3,3119.2 1947.2,3120.1 1948.1,3120.9 1948.9,3121.7 1949.8,3122.4 1950.6,3123 1951.5,3123.6 1952.3,3124.1 1953.2,3124.5 1954.1,3124.8 1954.9,3125.1 1955.8,3125.2 1956.6,3125.3 1957.8,3125.2 1959.1,3125 1960.3,3124.8 1961.5,3124.4 1962.7,3124 1963.9,3123.4 1965.1,3122.8 1966.3,3122.2 1967.6,3121.4 1968.8,3120.7 1970,3119.9 1971.2,3119 1972.4,3118.1 1973.6,3117.3 1974.9,3116.4 1976.1,3115.5 1976.6,3115 1977.2,3114.6 1977.7,3114.1 1978.2,3113.5 1978.8,3113 1979.3,3112.4 1979.8,3111.7 1980.4,3111.1 1980.9,3110.4 1981.5,3109.8 1982,3109.1 1982.5,3108.4 1983.1,3107.7 1983.6,3107 1984.1,3106.3 1984.7,3105.7 1986.6,3103.2 1988.4,3100.7 1990.3,3098.1 1992.2,3095.4 1994.1,3092.6 1996,3089.7 1997.8,3086.9 1999.7,3084 2001.6,3081.1 2003.5,3078.3 2005.4,3075.4 2007.2,3072.7 2009.1,3070 2011,3067.4 2012.9,3064.9 2014.8,3062.6 2016.7,3060.3 2018.7,3058.1 2020.6,3055.9 2022.6,3053.9 2024.6,3051.9 2026.5,3049.9 2028.5,3048 2030.4,3046.1 2032.4,3044.2 2034.4,3042.2 2036.3,3040.3 2038.3,3038.3 2040.2,3036.3 2042.2,3034.3 2044.1,3032.1 2046.1,3029.9 2047.8,3027.9 2049.5,3025.8 2051.2,3023.6 2052.9,3021.3 2054.5,3019 2056.2,3016.6 2057.9,3014.3 2059.6,3011.9 2061.3,3009.6 2063,3007.2 2064.7,3005 2066.4,3002.8 2068.1,3000.7 2069.7,2998.7 2071.4,2996.8 2073.1,2995 2075.3,2993 2077.4,2991 2079.6,2989.1 2081.7,2987.2 2083.9,2985.5 2086,2983.8 2088.2,2982.1 2090.3,2980.5 2092.5,2978.9 2094.6,2977.3 2096.8,2975.8 2098.9,2974.2 2101.1,2972.7 2103.2,2971.1 2105.4,2969.4 2107.5,2967.8 2108.8,2966.8 2110.1,2965.8 2111.4,2964.8 2112.6,2963.8 2113.9,2962.8 2115.2,2961.8 2116.5,2960.8 2117.8,2959.8 2119,2958.9 2120.3,2957.9 2121.6,2956.9 2122.9,2955.9 2124.2,2954.9 2125.4,2953.9 2126.7,2953 2128,2952" fill="none" stroke="#000000" stroke-width="3" stroke-linejoin="round" clip-path="url(#c140035939853488)"/>
<path d="M1309,2608.7 1312.8,2608.9 1316.7,2609.1 1320.5,2609.3 1324.4,2609.6 1328.2,2609.9 1332,2610.2 1335.9,2610.5 1339.7,2610.8 1343.6,2611.2 1347.4,2611.6 1351.2,2612 1355.1,2612.4 1358.9,2612.8 1362.7,2613.2 1366.6,2613.7 1370.4,2614.1 1374.3,2614.6 1378.1,2615.1 1381.9,2615.6 1385.8,2616.2 1389.6,2616.7 1393.5,2617.3 1397.3,2618 1401.1,2618.6 1405,2619.3 1408.8,2620 1412.7,2620.8 1416.5,2621.6 1420.3,2622.4 1424.2,2623.2 1428,2624.1 1431.8,2625 1435.7,2626 1439.5,2627.1 1443.4,2628.3 1447.2,2629.5 1451,2630.9 1454.9,2632.3 1458.7,2633.8 1462.6,2635.3 1466.4,2636.9 1470.2,2638.6 1474.1,2640.3 1477.9,2642.1 1481.8,2643.9 1485.6,2645.7 1489.4,2647.6 1493.3,2649.6 1497.1,2651.5 1501,2653.5 1504.8,2655.6 1508.6,2657.7 1512.5,2659.9 1516.3,2662.2 1520.1,2664.6 1524,2667.1 1527.8,2669.7 1531.7,2672.5 1535.5,2675.3 1539.3,2678.3 1543.2,2681.5 1547,2684.8 1550.9,2688.4 1554.7,2692.1 1558.5,2696.1 1562.4,2700.5 1566.2,2705.3 1570.1,2710.5 1573.9,2716.1 1577.7,2722 1581.6,2728.3 1585.4,2734.9 1589.3,2741.8 1593.1,2749.1 1596.9,2756.6 1600.8,2764.4 1604.6,2772.5 1608.4,2780.9 1612.3,2789.5 1616.1,2798.3 1618.2,2803.2 1620.2,2808.4 1622.2,2813.9 1624.3,2819.7 1626.3,2825.7 1628.3,2832 1630.4,2838.4 1632.4,2845.1 1634.4,2852 1636.5,2859.1 1638.5,2866.3 1640.5,2873.6 1642.6,2881.1 1644.6,2888.6 1646.6,2896.3 1648.7,2904 1650.5,2911 1652.3,2918.2 1654.1,2925.6 1655.9,2933.2 1657.7,2941 1659.5,2948.9 1661.3,2957 1663.1,2965.3 1664.9,2973.7 1666.7,2982.3 1668.5,2991 1670.3,2999.9 1672.1,3008.9 1673.9,3018 1675.7,3027.1 1677.5,3036.4 1678.5,3042 1679.5,3048.3 1680.5,3055.2 1681.5,3062.6 1682.5,3070.2 1683.5,3077.9 1684.5,3085.6 1685.5,3093.1 1686.5,3100.3 1687.5,3107 1688.5,3113.2 1689.5,3118.5 1690.5,3122.9 1691.5,3126.2 1692.5,3128.3 1693.5,3129.1 1695.1,3128.2 1696.6,3125.8 1698.2,3122 1699.8,3116.9 1701.3,3110.8 1702.9,3103.6 1704.4,3095.7 1706,3087.1 1707.6,3078 1709.1,3068.6 1710.7,3059 1712.3,3049.3 1713.8,3039.8 1715.4,3030.6 1716.9,3021.8 1718.5,3013.6 1719.7,3007.2 1721,3000.6 1722.2,2993.8 1723.4,2986.8 1724.6,2979.8 1725.9,2972.6 1727.1,2965.3 1728.3,2958.1 1729.6,2950.9 1730.8,2943.8 1732,2936.8 1733.2,2930 1734.5,2923.4 1735.7,2917 1736.9,2910.9 1738.2,2905.1 1739.9,2897.3 1741.6,2889.6 1743.4,2882.1 1745.1,2874.7 1746.9,2867.6 1748.6,2860.5 1750.3,2853.7 1752.1,2847 1753.8,2840.4 1755.6,2834 1757.3,2827.8 1759,2821.8 1760.8,2816 1762.5,2810.3 1764.3,2804.8 1766,2799.4 1766.7,2797.2 1767.4,2794.8 1768.2,2792.4 1768.9,2789.9 1769.6,2787.3 1770.3,2784.9 1771,2782.4 1771.7,2780.1 1772.5,2777.9 1773.2,2775.9 1773.9,2774.1 1774.6,2772.5 1775.3,2771.2 1776,2770.3 1776.8,2769.6 1777.5,2769.4 1777.9,2769.5 1778.4,2769.5 1778.9,2769.6 1779.4,2769.7 1779.8,2769.9 1780.3,2770 1780.8,2770.2 1781.3,2770.4 1781.7,2770.6 1782.2,2770.8 1782.7,2771 1783.1,2771.3 1783.6,2771.5 1784.1,2771.7 1784.6,2772 1785,2772.2 1785.4,2772.3 1785.8,2772.6 1786.2,2772.8 1786.6,2773 1787,2773.3 1787.3,2773.6 1787.7,2773.9 1788.1,2774.1 1788.5,2774.4 1788.9,2774.6 1789.3,2774.9 1789.7,2775 1790,2775.2 1790.4,2775.3 1790.8,2775.4 1791.2,2775.4 1791.8,2775.3 1792.3,2774.8 1792.9,2774 1793.5,2772.8 1794.1,2771.5 1794.6,2769.8 1795.2,2767.9 1795.8,2765.7 1796.4,2763.3 1796.9,2760.7 1797.5,2758 1798.1,2755 1798.7,2751.9 1799.2,2748.6 1799.8,2745.2 1800.4,2741.6 1800.8,2738.7 1801.1,2734.7 1801.5,2729.7 1801.9,2723.9 1802.3,2717.5 1802.6,2710.6 1803,2703.3 1803.4,2695.9 1803.7,2688.4 1804.1,2681 1804.5,2673.9 1804.9,2667.3 1805.2,2661.2 1805.6,2655.8 1806,2651.4 1806.3,2647.9 1806.8,2644 1807.4,2640.1 1807.9,2636.4 1808.4,2632.7 1808.9,2629.2 1809.4,2625.9 1809.9,2622.8 1810.4,2619.9 1810.9,2617.2 1811.5,2614.8 1812,2612.7 1812.5,2610.9 1813,2609.5 1813.5,2608.5 1814,2607.8 1814.5,2607.6 1815,2607.9 1815.4,2608.8 1815.8,2610.2 1816.3,2612.2 1816.7,2614.6 1817.1,2617.5 1817.6,2620.7 1818,2624.3 1818.4,2628.2 1818.9,2632.4 1819.3,2636.8 1819.7,2641.4 1820.2,2646.2 1820.6,2651.1 1821.1,2656 1821.5,2661 1821.8,2665.4 1822.2,2670.6 1822.5,2676.5 1822.9,2683.1 1823.2,2690.2 1823.6,2697.7 1823.9,2705.6 1824.3,2713.8 1824.6,2722.1 1824.9,2730.6 1825.3,2739 1825.6,2747.3 1826,2755.4 1826.3,2763.2 1826.7,2770.6 1827,2777.6 1827.3,2783.4 1827.6,2789.2 1827.9,2795.1 1828.2,2801 1828.5,2806.9 1828.8,2812.7 1829.1,2818.5 1829.4,2824.1 1829.7,2829.7 1830,2835.1 1830.3,2840.3 1830.5,2845.3 1830.8,2850.1 1831.1,2854.6 1831.4,2858.7 1831.7,2862.6 1832.2,2868.5 1832.7,2874.3 1833.1,2880 1833.6,2885.5 1834.1,2890.8 1834.6,2896 1835,2901 1835.5,2905.7 1836,2910.2 1836.5,2914.4 1836.9,2918.3 1837.4,2921.9 1837.9,2925.2 1838.4,2928.1 1838.8,2930.7 1839.3,2932.9 1839.8,2934.7 1840.2,2936.4 1840.7,2937.8 1841.1,2939.1 1841.6,2940.3 1842.1,2941.4 1842.5,2942.4 1843,2943.4 1843.4,2944.4 1843.9,2945.3 1844.4,2946.4 1844.8,2947.5 1845.3,2948.7 1845.8,2950 1846.2,2951.4 1846.7,2953.1 1847.1,2954.8 1847.5,2956.7 1848,2958.7 1848.4,2960.8 1848.8,2963.1 1849.3,2965.5 1849.7,2968.1 1850.2,2970.7 1850.6,2973.4 1851,2976.3 1851.5,2979.2 1851.9,2982.2 1852.3,2985.3 1852.8,2988.5 1853.2,2991.7 1853.6,2995 1854,2997.8 1854.4,3000.5 1854.7,3003.3 1855.1,3006.2 1855.4,3009.1 1855.8,3012.2 1856.1,3015.4 1856.5,3018.7 1856.9,3022.2 1857.2,3025.9 1857.6,3029.8 1857.9,3034 1858.3,3038.4 1858.7,3043.1 1859,3048 1859.4,3053.3 1859.5,3056.6 1859.7,3060.7 1859.9,3065.5 1860.1,3070.9 1860.3,3076.7 1860.4,3082.9 1860.6,3089.1 1860.8,3095.3 1861,3101.4 1861.2,3107.1 1861.3,3112.4 1861.5,3117 1861.7,3120.9 1861.9,3123.8 1862.1,3125.7 1862.2,3126.4 1862.8,3125.7 1863.3,3123.6 1863.9,3120.5 1864.4,3116.3 1865,3111.2 1865.5,3105.5 1866.1,3099.2 1866.6,3092.6 1867.2,3085.7 1867.7,3078.7 1868.3,3071.8 1868.8,3065.1 1869.4,3058.7 1869.9,3052.9 1870.5,3047.8 1871,3043.5 1871.5,3040.2 1872,3036.8 1872.5,3033.4 1873,3030.1 1873.5,3026.8 1874,3023.6 1874.4,3020.5 1874.9,3017.5 1875.4,3014.7 1875.9,3012 1876.4,3009.5 1876.9,3007.2 1877.4,3005.1 1877.8,3003.3 1878.3,3001.8 1878.8,3000.5 1879.7,2998.5 1880.5,2996.7 1881.4,2994.9 1882.2,2993.2 1883.1,2991.5 1884,2990 1884.8,2988.6 1885.7,2987.3 1886.5,2986.1 1887.4,2985 1888.3,2984.1 1889.1,2983.4 1890,2982.8 1890.8,2982.3 1891.7,2982 1892.5,2982 1893.3,2982 1894,2982.3 1894.7,2982.6 1895.5,2983.1 1896.2,2983.7 1896.9,2984.5 1897.6,2985.3 1898.4,2986.2 1899.1,2987.2 1899.8,2988.2 1900.6,2989.3 1901.3,2990.4 1902,2991.5 1902.7,2992.7 1903.5,2993.9 1904.2,2995 1905.4,2997.1 1906.6,2999.6 1907.8,3002.5 1909,3005.6 1910.2,3009 1911.3,3012.7 1912.5,3016.6 1913.7,3020.6 1914.9,3024.7 1916.1,3028.9 1917.3,3033.1 1918.5,3037.3 1919.7,3041.5 1920.9,3045.6 1922.1,3049.5 1923.2,3053.3 1923.7,3054.9 1924.2,3056.5 1924.7,3058.1 1925.2,3059.7 1925.7,3061.4 1926.2,3063 1926.7,3064.6 1927.2,3066.3 1927.7,3067.9 1928.2,3069.5 1928.7,3071 1929.2,3072.6 1929.7,3074.1 1930.2,3075.6 1930.7,3077 1931.2,3078.4 1931.8,3080.1 1932.5,3081.8 1933.1,3083.5 1933.7,3085.2 1934.3,3086.9 1934.9,3088.5 1935.5,3090.2 1936.1,3091.7 1936.8,3093.3 1937.4,3094.8 1938,3096.2 1938.6,3097.5 1939.2,3098.7 1939.8,3099.9 1940.4,3100.9 1941.1,3101.8 1942,3103.2 1943,3104.6 1944,3105.9 1945,3107.2 1945.9,3108.5 1946.9,3109.7 1947.9,3110.8 1948.8,3111.9 1949.8,3112.9 1950.8,3113.8 1951.8,3114.6 1952.7,3115.3 1953.7,3115.8 1954.7,3116.2 1955.7,3116.5 1956.6,3116.6 1958.4,3116.5 1960.1,3116.4 1961.9,3116.1 1963.6,3115.8 1965.4,3115.4 1967.1,3114.9 1968.9,3114.4 1970.6,3113.8 1972.4,3113.2 1974.2,3112.5 1975.9,3111.8 1977.7,3111 1979.4,3110.3 1981.2,3109.5 1982.9,3108.7 1984.7,3107.8 1986.6,3106.8 1988.4,3105.6 1990.3,3104.1 1992.2,3102.5 1994.1,3100.7 1996,3098.8 1997.8,3096.7 1999.7,3094.6 2001.6,3092.5 2003.5,3090.3 2005.4,3088.2 2007.2,3086 2009.1,3084 2011,3082 2012.9,3080.1 2014.8,3078.4 2016.7,3076.7 2018.7,3075.1 2020.6,3073.5 2022.6,3072 2024.6,3070.4 2026.5,3068.9 2028.5,3067.5 2030.4,3066 2032.4,3064.5 2034.4,3063.1 2036.3,3061.6 2038.3,3060.1 2040.2,3058.6 2042.2,3057.1 2044.1,3055.5 2046.1,3053.9 2047.8,3052.5 2049.5,3051 2051.2,3049.5 2052.9,3048 2054.5,3046.5 2056.2,3045 2057.9,3043.5 2059.6,3041.9 2061.3,3040.4 2063,3038.8 2064.7,3037.3 2066.4,3035.8 2068.1,3034.3 2069.7,3032.8 2071.4,3031.3 2073.1,3029.9 2075.3,3028.1 2077.4,3026.3 2079.6,3024.5 2081.7,3022.6 2083.9,3020.8 2086,3019 2088.2,3017.2 2090.3,3015.5 2092.5,3013.7 2094.6,3012 2096.8,3010.3 2098.9,3008.7 2101.1,3007.1 2103.2,3005.6 2105.4,3004.1 2107.5,3002.7 2108.8,3001.8 2110.1,3001 2111.4,3000.2 2112.6,2999.5 2113.9,2998.7 2115.2,2998 2116.5,2997.2 2117.8,2996.5 2119,2995.8 2120.3,2995.1 2121.6,2994.4 2122.9,2993.7 2124.2,2993.1 2125.4,2992.5 2126.7,2991.8 2128,2991.2" fill="none" stroke="#0000FF" stroke-width="3" stroke-linejoin="round" clip-path="url(#c140035939853488)"/>
<g clip-path="url(#c140035939853488)">
<rect x="1302.2" y="2596.5" width="13.5" height="13.5" fill="#FF0000"/>
<rect x="1363.7" y="2600.3" width="13.5" height="13.5" fill="#FF0000"/>
<rect x="1425.1" y="2607.4" width="13.5" height="13.5" fill="#FF0000"/>
<rect x="1486.5" y="2622.6" width="13.5" height="13.5" fill="#FF0000"/>
<rect x="1548" y="2648.3" width="13.5" height="13.5" fill="#FF0000"/>
<rect x="1609.4" y="2703.8" width="13.5" height="13.5" fill="#FF0000"/>
<rect x="1670.8" y="2835.2" width="13.5" height="13.5" fill="#FF0000"/>
<rect x="1732.2" y="3076.6" width="13.5" height="13.5" fill="#FF0000"/>
<rect x="1793.7" y="2993.2" width="13.5" height="13.5" fill="#FF0000"/>
<rect x="1855.1" y="3053.7" width="13.5" height="13.5" fill="#FF0000"/>
<rect x="1916.5" y="3010.6" width="13.5" height="13.5" fill="#FF0000"/>
<rect x="1977.9" y="3098.9" width="13.5" height="13.5" fill="#FF0000"/>
<rect x="2039.3" y="2998.6" width="13.5" height="13.5" fill="#FF0000"/>
<rect x="2100.8" y="2927.8" width="13.5" height="13.5" fill="#FF0000"/>
<rect x="2121.2" y="2910.4" width="13.5" height="13.5" fill="#FF0000"/>
</g>
<g clip-path="url(#c140035939853488)">
<circle cx="1309" cy="2606" r="7.5" fill="#000000"/>
<circle cx="1370.4" cy="2610.3" r="7.5" fill="#000000"/>
<circle cx="1431.8" cy="2620.7" r="7.5" fill="#000000"/>
<circle cx="1493.3" cy="2637.6" r="7.5" fill="#000000"/>
<circle cx="1554.7" cy="2668.1" r="7.5" fill="#000000"/>
<circle cx="1616.1" cy="2738.9" r="7.5" fill="#000000"/>
<circle cx="1677.5" cy="2905.1" r="7.5" fill="#000000"/>
<circle cx="1739" cy="3074.6" r="7.5" fill="#000000"/>
<circle cx="1800.4" cy="2868.6" r="7.5" fill="#000000"/>
<circle cx="1861.8" cy="3124.7" r="7.5" fill="#000000"/>
<circle cx="1923.2" cy="3032.6" r="7.5" fill="#000000"/>
<circle cx="1984.7" cy="3105.7" r="7.5" fill="#000000"/>
<circle cx="2046.1" cy="3029.9" r="7.5" fill="#000000"/>
<circle cx="2107.5" cy="2967.8" r="7.5" fill="#000000"/>
<circle cx="2128" cy="2952" r="7.5" fill="#000000"/>
</g>
<g clip-path="url(#c140035939853488)">
<path d="M1309 2599.4L1317.2 2614.4L1300.8 2614.4Z" fill="#0000FF"/>
<path d="M1370.4 2604.8L1378.7 2619.8L1362.2 2619.8Z" fill="#0000FF"/>
<path d="M1431.8 2615.7L1440.1 2630.7L1423.6 2630.7Z" fill="#0000FF"/>
<path d="M1493.3 2640.3L1501.5 2655.3L1485 2655.3Z" fill="#0000FF"/>
<path d="M1554.7 2682.8L1563 2697.8L1546.5 2697.8Z" fill="#0000FF"/>
<path d="M1616.1 2789L1624.4 2804L1607.9 2804Z" fill="#0000FF"/>
<path d="M1677.5 3027.1L1685.8 3042.1L1669.3 3042.1Z" fill="#0000FF"/>
<path d="M1739 2892.7L1747.2 2907.7L1730.7 2907.7Z" fill="#0000FF"/>
<path d="M1800.4 2732.3L1808.7 2747.3L1792.2 2747.3Z" fill="#0000FF"/>
<path d="M1861.8 3086.5L1870.1 3101.5L1853.6 3101.5Z" fill="#0000FF"/>
<path d="M1923.2 3044L1931.5 3059L1915 3059Z" fill="#0000FF"/>
<path d="M1984.7 3098.5L1992.9 3113.5L1976.4 3113.5Z" fill="#0000FF"/>
<path d="M2046.1 3044.6L2054.3 3059.6L2037.8 3059.6Z" fill="#0000FF"/>
<path d="M2107.5 2993.4L2115.8 3008.4L2099.3 3008.4Z" fill="#0000FF"/>
<path d="M2128 2981.9L2136.2 2996.9L2119.8 2996.9Z" fill="#0000FF"/>
</g>
<line x1="1371.4" y1="2804.2" x2="1464.7" y2="2804.2" stroke="#FF0000" stroke-width="3"/>
<rect x="1411.3" y="2797.4" width="13.5" height="13.5" fill="#FF0000"/>
<text transform="scale(0.93 1)" x="1610.5 1633.8 1657" y="2818.4" font-size="43" text-anchor="middle" font-family='"Liberation Serif", "Noto Serif CJK SC", serif'>b=2</text>
<line x1="1371.4" y1="2853.4" x2="1464.7" y2="2853.4" stroke="#000000" stroke-width="3"/>
<circle cx="1418.1" cy="2853.4" r="7.5" fill="#000000"/>
<text transform="scale(0.93 1)" x="1610.5 1633.8 1657" y="2867.6" font-size="43" text-anchor="middle" font-family='"Liberation Serif", "Noto Serif CJK SC", serif'>b=4</text>
<line x1="1371.4" y1="2902.8" x2="1464.7" y2="2902.8" stroke="#0000FF" stroke-width="3"/>
<path d="M1418.1 2893.5L1426.3 2908.5L1409.8 2908.5Z" fill="#0000FF"/>
<text transform="scale(0.93 1)" x="1610.5 1633.8 1657" y="2917" font-size="43" text-anchor="middle" font-family='"Liberation Serif", "Noto Serif CJK SC", serif'>b=6</text>
<path d="M192 697v-12.5M192 42.5v12.5M257.6 697v-7M257.6 42.5v7M323.2 697v-12.5M323.2 42.5v12.5M388.8 697v-7M388.8 42.5v7M454.3 697v-12.5M454.3 42.5v12.5M519.9 697v-7M519.9 42.5v7M585.5 697v-12.5M585.5 42.5v12.5M651.1 697v-7M651.1 42.5v7M716.7 697v-12.5M716.7 42.5v12.5M782.2 697v-7M782.2 42.5v7M847.8 697v-12.5M847.8 42.5v12.5M913.4 697v-7M913.4 42.5v7M979 697v-12.5M979 42.5v12.5M192 697h7M979 697h-7M192 637.5h12.5M979 637.5h-12.5M192 578h7M979 578h-7M192 518.5h12.5M979 518.5h-12.5M192 459h7M979 459h-7M192 399.5h12.5M979 399.5h-12.5M192 340h7M979 340h-7M192 280.5h12.5M979 280.5h-12.5M192 221h7M979 221h-7M192 161.5h12.5M979 161.5h-12.5M192 102h7M979 102h-7M192 42.5h12.5M979 42.5h-12.5" stroke="#000" stroke-width="2.4" fill="none"/>
<rect x="192" y="42.5" width="787" height="654.5" fill="none" stroke="#000" stroke-width="3"/>
<path d="M1307 694.8v-12.5M1307 44v12.5M1356.1 694.8v-7M1356.1 44v7M1405.1 694.8v-12.5M1405.1 44v12.5M1454.2 694.8v-7M1454.2 44v7M1503.2 694.8v-12.5M1503.2 44v12.5M1552.3 694.8v-7M1552.3 44v7M1601.4 694.8v-12.5M1601.4 44v12.5M1650.4 694.8v-7M1650.4 44v7M1699.5 694.8v-12.5M1699.5 44v12.5M1748.6 694.8v-7M1748.6 44v7M1797.6 694.8v-12.5M1797.6 44v12.5M1846.7 694.8v-7M1846.7 44v7M1895.8 694.8v-12.5M1895.8 44v12.5M1944.8 694.8v-7M1944.8 44v7M1993.9 694.8v-12.5M1993.9 44v12.5M2042.9 694.8v-7M2042.9 44v7M2092 694.8v-12.5M2092 44v12.5M1307 694.8h7M2092 694.8h-7M1307 640.6h12.5M2092 640.6h-12.5M1307 586.3h7M2092 586.3h-7M1307 532.1h12.5M2092 532.1h-12.5M1307 477.9h7M2092 477.9h-7M1307 423.6h12.5M2092 423.6h-12.5M1307 369.4h7M2092 369.4h-7M1307 315.2h12.5M2092 315.2h-12.5M1307 260.9h7M2092 260.9h-7M1307 206.7h12.5M2092 206.7h-12.5M1307 152.5h7M2092 152.5h-7M1307 98.2h12.5M2092 98.2h-12.5M1307 44h7M2092 44h-7" stroke="#000" stroke-width="2.4" fill="none"/>
<rect x="1307" y="44" width="785" height="650.8" fill="none" stroke="#000" stroke-width="3"/>
<path d="M208.2 1549v-12.5M208.2 896.5v12.5M272.3 1549v-7M272.3 896.5v7M336.4 1549v-12.5M336.4 896.5v12.5M400.5 1549v-7M400.5 896.5v7M464.6 1549v-12.5M464.6 896.5v12.5M528.7 1549v-7M528.7 896.5v7M592.8 1549v-12.5M592.8 896.5v12.5M656.9 1549v-7M656.9 896.5v7M721 1549v-12.5M721 896.5v12.5M785.1 1549v-7M785.1 896.5v7M849.2 1549v-12.5M849.2 896.5v12.5M913.3 1549v-7M913.3 896.5v7M977.4 1549v-12.5M977.4 896.5v12.5M208.2 1549h7M977.4 1549h-7M208.2 1483.8h12.5M977.4 1483.8h-12.5M208.2 1418.5h7M977.4 1418.5h-7M208.2 1353.2h12.5M977.4 1353.2h-12.5M208.2 1288h7M977.4 1288h-7M208.2 1222.8h12.5M977.4 1222.8h-12.5M208.2 1157.5h7M977.4 1157.5h-7M208.2 1092.2h12.5M977.4 1092.2h-12.5M208.2 1027h7M977.4 1027h-7M208.2 961.8h12.5M977.4 961.8h-12.5M208.2 896.5h7M977.4 896.5h-7" stroke="#000" stroke-width="2.4" fill="none"/>
<rect x="208.2" y="896.5" width="769.2" height="652.5" fill="none" stroke="#000" stroke-width="3"/>
<path d="M1305 1549v-12.5M1305 891.2v12.5M1403.2 1549v-7M1403.2 891.2v7M1501.5 1549v-12.5M1501.5 891.2v12.5M1599.8 1549v-7M1599.8 891.2v7M1698 1549v-12.5M1698 891.2v12.5M1796.2 1549v-7M1796.2 891.2v7M1894.5 1549v-12.5M1894.5 891.2v12.5M1992.8 1549v-7M1992.8 891.2v7M2091 1549v-12.5M2091 891.2v12.5M1305 1498.4h12.5M2091 1498.4h-12.5M1305 1397.2h7M2091 1397.2h-7M1305 1296h12.5M2091 1296h-12.5M1305 1194.8h7M2091 1194.8h-7M1305 1093.6h12.5M2091 1093.6h-12.5M1305 992.4h7M2091 992.4h-7M1305 891.2h12.5M2091 891.2h-12.5" stroke="#000" stroke-width="2.4" fill="none"/>
<rect x="1305" y="891.2" width="786" height="657.8" fill="none" stroke="#000" stroke-width="3"/>
<path d="M277.4 2396v-12.5M277.4 1711v12.5M452.3 2396v-12.5M452.3 1711v12.5M627.2 2396v-12.5M627.2 1711v12.5M802.1 2396v-12.5M802.1 1711v12.5M977 2396v-12.5M977 1711v12.5M190 2396h7M977 2396h-7M190 2347.1h12.5M977 2347.1h-12.5M190 2298.1h7M977 2298.1h-7M190 2249.2h12.5M977 2249.2h-12.5M190 2200.3h7M977 2200.3h-7M190 2151.4h12.5M977 2151.4h-12.5M190 2102.4h7M977 2102.4h-7M190 2053.5h12.5M977 2053.5h-12.5M190 2004.6h7M977 2004.6h-7M190 1955.6h12.5M977 1955.6h-12.5M190 1906.7h7M977 1906.7h-7M190 1857.8h12.5M977 1857.8h-12.5M190 1808.9h7M977 1808.9h-7M190 1759.9h12.5M977 1759.9h-12.5M190 1711h7M977 1711h-7" stroke="#000" stroke-width="2.4" fill="none"/>
<rect x="190" y="1711" width="787" height="685" fill="none" stroke="#000" stroke-width="3"/>
<path d="M1301 2399v-12.5M1301 1713v12.5M1380.2 2399v-7M1380.2 1713v7M1459.3 2399v-12.5M1459.3 1713v12.5M1538.5 2399v-7M1538.5 1713v7M1617.6 2399v-12.5M1617.6 1713v12.5M1696.8 2399v-7M1696.8 1713v7M1775.9 2399v-12.5M1775.9 1713v12.5M1855 2399v-7M1855 1713v7M1934.2 2399v-12.5M1934.2 1713v12.5M2013.3 2399v-7M2013.3 1713v7M2092.5 2399v-12.5M2092.5 1713v12.5M1301 2399h12.5M2092.5 2399h-12.5M1301 2336.6h7M2092.5 2336.6h-7M1301 2274.3h12.5M2092.5 2274.3h-12.5M1301 2211.9h7M2092.5 2211.9h-7M1301 2149.5h12.5M2092.5 2149.5h-12.5M1301 2087.2h7M2092.5 2087.2h-7M1301 2024.8h12.5M2092.5 2024.8h-12.5M1301 1962.5h7M2092.5 1962.5h-7M1301 1900.1h12.5M2092.5 1900.1h-12.5M1301 1837.7h7M2092.5 1837.7h-7M1301 1775.4h12.5M2092.5 1775.4h-12.5M1301 1713h7M2092.5 1713h-7" stroke="#000" stroke-width="2.4" fill="none"/>
<rect x="1301" y="1713" width="791.5" height="686" fill="none" stroke="#000" stroke-width="3"/>
<path d="M204.4 3182.3v-12.5M204.4 2530.3v12.5M247.3 3182.3v-7M247.3 2530.3v7M290.3 3182.3v-12.5M290.3 2530.3v12.5M333.2 3182.3v-7M333.2 2530.3v7M376.2 3182.3v-12.5M376.2 2530.3v12.5M419.1 3182.3v-7M419.1 2530.3v7M462.1 3182.3v-12.5M462.1 2530.3v12.5M505 3182.3v-7M505 2530.3v7M548 3182.3v-12.5M548 2530.3v12.5M590.9 3182.3v-7M590.9 2530.3v7M633.8 3182.3v-12.5M633.8 2530.3v12.5M676.8 3182.3v-7M676.8 2530.3v7M719.7 3182.3v-12.5M719.7 2530.3v12.5M762.7 3182.3v-7M762.7 2530.3v7M805.6 3182.3v-12.5M805.6 2530.3v12.5M848.6 3182.3v-7M848.6 2530.3v7M891.5 3182.3v-12.5M891.5 2530.3v12.5M934.5 3182.3v-7M934.5 2530.3v7M977.4 3182.3v-12.5M977.4 2530.3v12.5M204.4 3182.3h7M977.4 3182.3h-7M204.4 3128h12.5M977.4 3128h-12.5M204.4 3073.6h7M977.4 3073.6h-7M204.4 3019.3h12.5M977.4 3019.3h-12.5M204.4 2965h7M977.4 2965h-7M204.4 2910.6h12.5M977.4 2910.6h-12.5M204.4 2856.3h7M977.4 2856.3h-7M204.4 2802h12.5M977.4 2802h-12.5M204.4 2747.6h7M977.4 2747.6h-7M204.4 2693.3h12.5M977.4 2693.3h-12.5M204.4 2639h7M977.4 2639h-7M204.4 2584.6h12.5M977.4 2584.6h-12.5M204.4 2530.3h7M977.4 2530.3h-7" stroke="#000" stroke-width="2.4" fill="none"/>
<rect x="204.4" y="2530.3" width="773" height="652" fill="none" stroke="#000" stroke-width="3"/>
<path d="M1309 3186.3v-12.5M1309 2532.4v12.5M1360.2 3186.3v-7M1360.2 2532.4v7M1411.4 3186.3v-12.5M1411.4 2532.4v12.5M1462.6 3186.3v-7M1462.6 2532.4v7M1513.8 3186.3v-12.5M1513.8 2532.4v12.5M1564.9 3186.3v-7M1564.9 2532.4v7M1616.1 3186.3v-12.5M1616.1 2532.4v12.5M1667.3 3186.3v-7M1667.3 2532.4v7M1718.5 3186.3v-12.5M1718.5 2532.4v12.5M1769.7 3186.3v-7M1769.7 2532.4v7M1820.9 3186.3v-12.5M1820.9 2532.4v12.5M1872.1 3186.3v-7M1872.1 2532.4v7M1923.2 3186.3v-12.5M1923.2 2532.4v12.5M1974.4 3186.3v-7M1974.4 2532.4v7M2025.6 3186.3v-12.5M2025.6 2532.4v12.5M2076.8 3186.3v-7M2076.8 2532.4v7M2128 3186.3v-12.5M2128 2532.4v12.5M1309 3186.3h7M2128 3186.3h-7M1309 3131.8h12.5M2128 3131.8h-12.5M1309 3077.3h7M2128 3077.3h-7M1309 3022.8h12.5M2128 3022.8h-12.5M1309 2968.3h7M2128 2968.3h-7M1309 2913.8h12.5M2128 2913.8h-12.5M1309 2859.4h7M2128 2859.4h-7M1309 2804.9h12.5M2128 2804.9h-12.5M1309 2750.4h7M2128 2750.4h-7M1309 2695.9h12.5M2128 2695.9h-12.5M1309 2641.4h7M2128 2641.4h-7M1309 2586.9h12.5M2128 2586.9h-12.5M1309 2532.4h7M2128 2532.4h-7" stroke="#000" stroke-width="2.4" fill="none"/>
<rect x="1309" y="2532.4" width="819" height="653.9" fill="none" stroke="#000" stroke-width="3"/></svg>
</body></html>
